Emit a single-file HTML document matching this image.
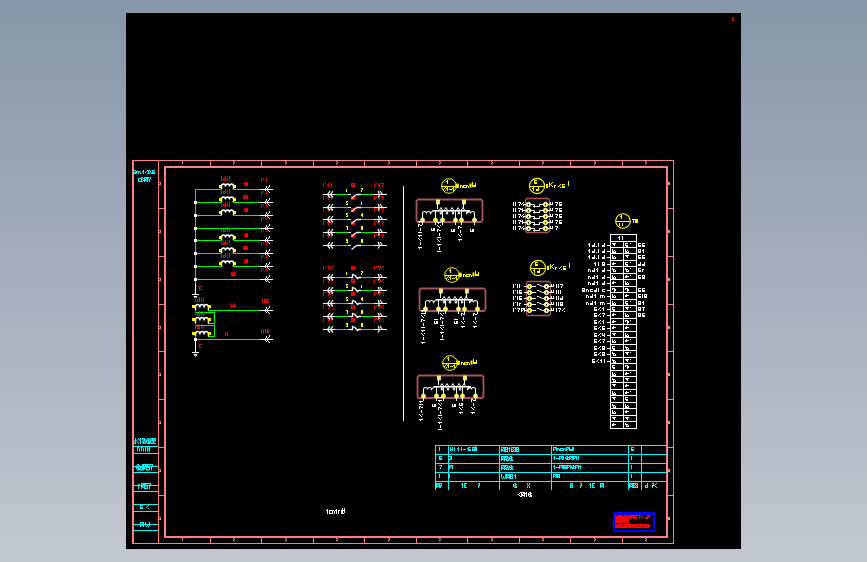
<!DOCTYPE html>
<html><head><meta charset="utf-8"><style>
html,body{margin:0;padding:0;width:867px;height:562px;overflow:hidden;}
body{background:linear-gradient(rgb(135,150,170),rgb(195,199,208));}
svg{display:block;font-family:"Liberation Sans",sans-serif;}
</style></head><body>
<svg width="867" height="562" viewBox="0 0 867 562">
<rect x="126" y="13" width="615" height="536" fill="#000"/>
<rect x="732" y="17" width="1.5" height="4" fill="#ff0000"/>
<rect x="733" y="17" width="1" height="1" fill="#ff0000"/>
<rect x="733" y="20" width="1" height="1" fill="#ff0000"/>
<rect x="132" y="160" width="2" height="384" fill="#ff8080"/>
<line x1="132" y1="160.5" x2="674" y2="160.5" stroke="#ff8080" stroke-width="1"/>
<line x1="673.5" y1="160" x2="673.5" y2="544" stroke="#ff8080" stroke-width="1"/>
<line x1="132" y1="543.5" x2="674" y2="543.5" stroke="#ff8080" stroke-width="1"/>
<rect x="165" y="167" width="502" height="370" fill="none" stroke="#ff8080" stroke-width="2" rx="0"/>
<line x1="158.5" y1="160" x2="158.5" y2="544" stroke="#ff8080" stroke-width="1"/>
<line x1="210.5" y1="160" x2="210.5" y2="167" stroke="#ff8080" stroke-width="1"/>
<line x1="210.5" y1="537" x2="210.5" y2="544" stroke="#ff8080" stroke-width="1"/>
<line x1="261.5" y1="160" x2="261.5" y2="167" stroke="#ff8080" stroke-width="1"/>
<line x1="261.5" y1="537" x2="261.5" y2="544" stroke="#ff8080" stroke-width="1"/>
<line x1="313.5" y1="160" x2="313.5" y2="167" stroke="#ff8080" stroke-width="1"/>
<line x1="313.5" y1="537" x2="313.5" y2="544" stroke="#ff8080" stroke-width="1"/>
<line x1="364.5" y1="160" x2="364.5" y2="167" stroke="#ff8080" stroke-width="1"/>
<line x1="364.5" y1="537" x2="364.5" y2="544" stroke="#ff8080" stroke-width="1"/>
<line x1="416.5" y1="160" x2="416.5" y2="167" stroke="#ff8080" stroke-width="1"/>
<line x1="416.5" y1="537" x2="416.5" y2="544" stroke="#ff8080" stroke-width="1"/>
<line x1="467.5" y1="160" x2="467.5" y2="167" stroke="#ff8080" stroke-width="1"/>
<line x1="467.5" y1="537" x2="467.5" y2="544" stroke="#ff8080" stroke-width="1"/>
<line x1="519.5" y1="160" x2="519.5" y2="167" stroke="#ff8080" stroke-width="1"/>
<line x1="519.5" y1="537" x2="519.5" y2="544" stroke="#ff8080" stroke-width="1"/>
<line x1="570.5" y1="160" x2="570.5" y2="167" stroke="#ff8080" stroke-width="1"/>
<line x1="570.5" y1="537" x2="570.5" y2="544" stroke="#ff8080" stroke-width="1"/>
<line x1="622.5" y1="160" x2="622.5" y2="167" stroke="#ff8080" stroke-width="1"/>
<line x1="622.5" y1="537" x2="622.5" y2="544" stroke="#ff8080" stroke-width="1"/>
<line x1="159" y1="208.5" x2="165" y2="208.5" stroke="#ff8080" stroke-width="1"/>
<line x1="667" y1="208.5" x2="673" y2="208.5" stroke="#ff8080" stroke-width="1"/>
<line x1="159" y1="256.5" x2="165" y2="256.5" stroke="#ff8080" stroke-width="1"/>
<line x1="667" y1="256.5" x2="673" y2="256.5" stroke="#ff8080" stroke-width="1"/>
<line x1="159" y1="304.5" x2="165" y2="304.5" stroke="#ff8080" stroke-width="1"/>
<line x1="667" y1="304.5" x2="673" y2="304.5" stroke="#ff8080" stroke-width="1"/>
<line x1="159" y1="351.5" x2="165" y2="351.5" stroke="#ff8080" stroke-width="1"/>
<line x1="667" y1="351.5" x2="673" y2="351.5" stroke="#ff8080" stroke-width="1"/>
<line x1="159" y1="399.5" x2="165" y2="399.5" stroke="#ff8080" stroke-width="1"/>
<line x1="667" y1="399.5" x2="673" y2="399.5" stroke="#ff8080" stroke-width="1"/>
<line x1="159" y1="447.5" x2="165" y2="447.5" stroke="#ff8080" stroke-width="1"/>
<line x1="667" y1="447.5" x2="673" y2="447.5" stroke="#ff8080" stroke-width="1"/>
<line x1="159" y1="495.5" x2="165" y2="495.5" stroke="#ff8080" stroke-width="1"/>
<line x1="667" y1="495.5" x2="673" y2="495.5" stroke="#ff8080" stroke-width="1"/>
<rect x="182" y="161" width="1" height="3" fill="#ff8080"/>
<rect x="182" y="538" width="1" height="3" fill="#ff8080"/>
<rect x="233" y="161" width="1.5" height="1" fill="#ff8080"/>
<rect x="234" y="162" width="1" height="1.5" fill="#ff8080"/>
<rect x="233" y="163" width="1" height="1.5" fill="#ff8080"/>
<rect x="233" y="538" width="1.5" height="1" fill="#ff8080"/>
<rect x="234" y="539" width="1" height="1.5" fill="#ff8080"/>
<rect x="233" y="540" width="1" height="1.5" fill="#ff8080"/>
<rect x="285" y="161" width="1.5" height="1" fill="#ff8080"/>
<rect x="286" y="162" width="1" height="1.5" fill="#ff8080"/>
<rect x="285" y="163" width="1" height="1.5" fill="#ff8080"/>
<rect x="285" y="538" width="1.5" height="1" fill="#ff8080"/>
<rect x="286" y="539" width="1" height="1.5" fill="#ff8080"/>
<rect x="285" y="540" width="1" height="1.5" fill="#ff8080"/>
<rect x="336" y="161" width="1.5" height="1" fill="#ff8080"/>
<rect x="337" y="162" width="1" height="1.5" fill="#ff8080"/>
<rect x="336" y="163" width="1" height="1.5" fill="#ff8080"/>
<rect x="336" y="538" width="1.5" height="1" fill="#ff8080"/>
<rect x="337" y="539" width="1" height="1.5" fill="#ff8080"/>
<rect x="336" y="540" width="1" height="1.5" fill="#ff8080"/>
<rect x="388" y="161" width="1.5" height="1" fill="#ff8080"/>
<rect x="389" y="162" width="1" height="1.5" fill="#ff8080"/>
<rect x="388" y="163" width="1" height="1.5" fill="#ff8080"/>
<rect x="388" y="538" width="1.5" height="1" fill="#ff8080"/>
<rect x="389" y="539" width="1" height="1.5" fill="#ff8080"/>
<rect x="388" y="540" width="1" height="1.5" fill="#ff8080"/>
<rect x="439" y="161" width="1.5" height="1" fill="#ff8080"/>
<rect x="440" y="162" width="1" height="1.5" fill="#ff8080"/>
<rect x="439" y="163" width="1" height="1.5" fill="#ff8080"/>
<rect x="439" y="538" width="1.5" height="1" fill="#ff8080"/>
<rect x="440" y="539" width="1" height="1.5" fill="#ff8080"/>
<rect x="439" y="540" width="1" height="1.5" fill="#ff8080"/>
<rect x="491" y="161" width="1.5" height="1" fill="#ff8080"/>
<rect x="492" y="162" width="1" height="1.5" fill="#ff8080"/>
<rect x="491" y="163" width="1" height="1.5" fill="#ff8080"/>
<rect x="491" y="538" width="1.5" height="1" fill="#ff8080"/>
<rect x="492" y="539" width="1" height="1.5" fill="#ff8080"/>
<rect x="491" y="540" width="1" height="1.5" fill="#ff8080"/>
<rect x="542" y="161" width="1.5" height="1" fill="#ff8080"/>
<rect x="543" y="162" width="1" height="1.5" fill="#ff8080"/>
<rect x="542" y="163" width="1" height="1.5" fill="#ff8080"/>
<rect x="542" y="538" width="1.5" height="1" fill="#ff8080"/>
<rect x="543" y="539" width="1" height="1.5" fill="#ff8080"/>
<rect x="542" y="540" width="1" height="1.5" fill="#ff8080"/>
<rect x="594" y="161" width="1.5" height="1" fill="#ff8080"/>
<rect x="595" y="162" width="1" height="1.5" fill="#ff8080"/>
<rect x="594" y="163" width="1" height="1.5" fill="#ff8080"/>
<rect x="594" y="538" width="1.5" height="1" fill="#ff8080"/>
<rect x="595" y="539" width="1" height="1.5" fill="#ff8080"/>
<rect x="594" y="540" width="1" height="1.5" fill="#ff8080"/>
<rect x="645" y="161" width="1.5" height="1" fill="#ff8080"/>
<rect x="646" y="162" width="1" height="1.5" fill="#ff8080"/>
<rect x="645" y="163" width="1" height="1.5" fill="#ff8080"/>
<rect x="645" y="538" width="1.5" height="1" fill="#ff8080"/>
<rect x="646" y="539" width="1" height="1.5" fill="#ff8080"/>
<rect x="645" y="540" width="1" height="1.5" fill="#ff8080"/>
<rect x="159" y="182" width="2" height="1" fill="#ff8080"/>
<rect x="160" y="183" width="1" height="1" fill="#ff8080"/>
<rect x="159" y="184" width="2" height="1" fill="#ff8080"/>
<rect x="668" y="182" width="2" height="3" fill="#ff8080"/>
<rect x="159" y="230" width="2" height="1" fill="#ff8080"/>
<rect x="160" y="231" width="1" height="1" fill="#ff8080"/>
<rect x="159" y="232" width="2" height="1" fill="#ff8080"/>
<rect x="668" y="230" width="2" height="3" fill="#ff8080"/>
<rect x="159" y="278" width="2" height="1" fill="#ff8080"/>
<rect x="160" y="279" width="1" height="1" fill="#ff8080"/>
<rect x="159" y="280" width="2" height="1" fill="#ff8080"/>
<rect x="668" y="278" width="2" height="3" fill="#ff8080"/>
<rect x="159" y="326" width="2" height="1" fill="#ff8080"/>
<rect x="160" y="327" width="1" height="1" fill="#ff8080"/>
<rect x="159" y="328" width="2" height="1" fill="#ff8080"/>
<rect x="668" y="326" width="2" height="3" fill="#ff8080"/>
<rect x="159" y="373" width="2" height="1" fill="#ff8080"/>
<rect x="160" y="374" width="1" height="1" fill="#ff8080"/>
<rect x="159" y="375" width="2" height="1" fill="#ff8080"/>
<rect x="668" y="373" width="2" height="3" fill="#ff8080"/>
<rect x="159" y="421" width="2" height="1" fill="#ff8080"/>
<rect x="160" y="422" width="1" height="1" fill="#ff8080"/>
<rect x="159" y="423" width="2" height="1" fill="#ff8080"/>
<rect x="668" y="421" width="2" height="3" fill="#ff8080"/>
<rect x="159" y="469" width="2" height="1" fill="#ff8080"/>
<rect x="160" y="470" width="1" height="1" fill="#ff8080"/>
<rect x="159" y="471" width="2" height="1" fill="#ff8080"/>
<rect x="668" y="469" width="2" height="3" fill="#ff8080"/>
<rect x="159" y="517" width="2" height="1" fill="#ff8080"/>
<rect x="160" y="518" width="1" height="1" fill="#ff8080"/>
<rect x="159" y="519" width="2" height="1" fill="#ff8080"/>
<rect x="668" y="517" width="2" height="3" fill="#ff8080"/>
<line x1="195.5" y1="189" x2="195.5" y2="284" stroke="#00ff00" stroke-width="1"/>
<line x1="195" y1="189.5" x2="221" y2="189.5" stroke="#00ff00" stroke-width="1"/>
<line x1="234" y1="189.5" x2="260" y2="189.5" stroke="#00ff00" stroke-width="1"/>
<path d="M221.5,189.5 V186.5 A2.0,2.5 0 0 1 225.5,186.5 A2.0,2.5 0 0 1 229.5,186.5 A2.0,2.5 0 0 1 233.5,186.5 V189.5" stroke="#ffffff" stroke-width="1.4" fill="none"/>
<rect x="219" y="185" width="2" height="3" fill="#ffff00"/>
<rect x="234" y="185" width="2" height="3" fill="#ffff00"/>
<path d="M221,176h1v1h-1zM221,177h1v1h-1zM221,178h1v1h-1zM221,179h1v1h-1zM221,180h1v1h-1zM225,176h1v1h-1zM225,177h1v1h-1zM223,178h1v1h-1zM224,178h1v1h-1zM225,178h1v1h-1zM223,179h1v1h-1zM225,179h1v1h-1zM223,180h1v1h-1zM224,180h1v1h-1zM225,180h1v1h-1zM227,176h1v1h-1zM227,178h1v1h-1zM227,179h1v1h-1zM227,180h1v1h-1zM229,176h1v1h-1zM229,177h1v1h-1zM229,178h1v1h-1zM229,179h1v1h-1zM229,180h1v1h-1z" fill="#ff0000"/>
<rect x="260" y="189" width="13" height="1" fill="#ffffff"/>
<rect x="265" y="188" width="1" height="3" fill="#ffffff"/>
<rect x="266" y="186" width="1" height="2" fill="#ffffff"/>
<rect x="266" y="191" width="1" height="1" fill="#ffffff"/>
<rect x="267" y="188" width="1" height="3" fill="#ffffff"/>
<rect x="268" y="187" width="1" height="1" fill="#ffffff"/>
<rect x="268" y="191" width="1" height="1" fill="#ffffff"/>
<rect x="269" y="185" width="1" height="2" fill="#ffffff"/>
<rect x="269" y="192" width="1" height="1" fill="#ffffff"/>
<rect x="261" y="178" width="1" height="4" fill="#ff0000"/>
<rect x="263" y="178" width="1" height="2" fill="#ff0000"/>
<rect x="266" y="178" width="1" height="3" fill="#ff0000"/>
<line x1="195" y1="202.5" x2="221" y2="202.5" stroke="#00ff00" stroke-width="1"/>
<line x1="234" y1="202.5" x2="260" y2="202.5" stroke="#00ff00" stroke-width="1"/>
<path d="M221.5,202.5 V199.5 A2.0,2.5 0 0 1 225.5,199.5 A2.0,2.5 0 0 1 229.5,199.5 A2.0,2.5 0 0 1 233.5,199.5 V202.5" stroke="#ffffff" stroke-width="1.4" fill="none"/>
<rect x="219" y="198" width="2" height="3" fill="#ffff00"/>
<rect x="234" y="198" width="2" height="3" fill="#ffff00"/>
<path d="M221,189h1v1h-1zM221,190h1v1h-1zM221,191h1v1h-1zM221,192h1v1h-1zM221,193h1v1h-1zM225,189h1v1h-1zM225,190h1v1h-1zM223,191h1v1h-1zM224,191h1v1h-1zM225,191h1v1h-1zM223,192h1v1h-1zM225,192h1v1h-1zM223,193h1v1h-1zM224,193h1v1h-1zM225,193h1v1h-1zM227,189h1v1h-1zM227,191h1v1h-1zM227,192h1v1h-1zM227,193h1v1h-1zM229,189h1v1h-1zM229,190h1v1h-1zM229,191h1v1h-1zM229,192h1v1h-1zM229,193h1v1h-1z" fill="#ff0000"/>
<rect x="260" y="202" width="13" height="1" fill="#ffffff"/>
<rect x="265" y="201" width="1" height="3" fill="#ffffff"/>
<rect x="266" y="199" width="1" height="2" fill="#ffffff"/>
<rect x="266" y="204" width="1" height="1" fill="#ffffff"/>
<rect x="267" y="201" width="1" height="3" fill="#ffffff"/>
<rect x="268" y="200" width="1" height="1" fill="#ffffff"/>
<rect x="268" y="204" width="1" height="1" fill="#ffffff"/>
<rect x="269" y="198" width="1" height="2" fill="#ffffff"/>
<rect x="269" y="205" width="1" height="1" fill="#ffffff"/>
<rect x="261" y="191" width="1" height="4" fill="#ff0000"/>
<rect x="263" y="191" width="1" height="2" fill="#ff0000"/>
<rect x="266" y="191" width="1" height="3" fill="#ff0000"/>
<rect x="194" y="201" width="3" height="3" fill="#ffffff"/>
<line x1="195" y1="215.5" x2="221" y2="215.5" stroke="#00ff00" stroke-width="1"/>
<line x1="234" y1="215.5" x2="260" y2="215.5" stroke="#00ff00" stroke-width="1"/>
<path d="M221.5,215.5 V212.5 A2.0,2.5 0 0 1 225.5,212.5 A2.0,2.5 0 0 1 229.5,212.5 A2.0,2.5 0 0 1 233.5,212.5 V215.5" stroke="#ffffff" stroke-width="1.4" fill="none"/>
<rect x="219" y="211" width="2" height="3" fill="#ffff00"/>
<rect x="234" y="211" width="2" height="3" fill="#ffff00"/>
<path d="M221,202h1v1h-1zM221,203h1v1h-1zM221,204h1v1h-1zM221,205h1v1h-1zM221,206h1v1h-1zM225,202h1v1h-1zM225,203h1v1h-1zM223,204h1v1h-1zM224,204h1v1h-1zM225,204h1v1h-1zM223,205h1v1h-1zM225,205h1v1h-1zM223,206h1v1h-1zM224,206h1v1h-1zM225,206h1v1h-1zM227,202h1v1h-1zM227,204h1v1h-1zM227,205h1v1h-1zM227,206h1v1h-1zM229,202h1v1h-1zM229,203h1v1h-1zM229,204h1v1h-1zM229,205h1v1h-1zM229,206h1v1h-1z" fill="#ff0000"/>
<rect x="260" y="215" width="13" height="1" fill="#ffffff"/>
<rect x="265" y="214" width="1" height="3" fill="#ffffff"/>
<rect x="266" y="212" width="1" height="2" fill="#ffffff"/>
<rect x="266" y="217" width="1" height="1" fill="#ffffff"/>
<rect x="267" y="214" width="1" height="3" fill="#ffffff"/>
<rect x="268" y="213" width="1" height="1" fill="#ffffff"/>
<rect x="268" y="217" width="1" height="1" fill="#ffffff"/>
<rect x="269" y="211" width="1" height="2" fill="#ffffff"/>
<rect x="269" y="218" width="1" height="1" fill="#ffffff"/>
<rect x="261" y="204" width="1" height="4" fill="#ff0000"/>
<rect x="263" y="204" width="1" height="2" fill="#ff0000"/>
<rect x="266" y="204" width="1" height="3" fill="#ff0000"/>
<rect x="194" y="214" width="3" height="3" fill="#ffffff"/>
<line x1="195" y1="228.5" x2="260" y2="228.5" stroke="#00ff00" stroke-width="1"/>
<rect x="260" y="228" width="13" height="1" fill="#ffffff"/>
<rect x="265" y="227" width="1" height="3" fill="#ffffff"/>
<rect x="266" y="225" width="1" height="2" fill="#ffffff"/>
<rect x="266" y="230" width="1" height="1" fill="#ffffff"/>
<rect x="267" y="227" width="1" height="3" fill="#ffffff"/>
<rect x="268" y="226" width="1" height="1" fill="#ffffff"/>
<rect x="268" y="230" width="1" height="1" fill="#ffffff"/>
<rect x="269" y="224" width="1" height="2" fill="#ffffff"/>
<rect x="269" y="231" width="1" height="1" fill="#ffffff"/>
<rect x="261" y="217" width="1" height="4" fill="#ff0000"/>
<rect x="263" y="217" width="1" height="2" fill="#ff0000"/>
<rect x="266" y="217" width="1" height="3" fill="#ff0000"/>
<rect x="194" y="227" width="3" height="3" fill="#ffffff"/>
<line x1="195" y1="240.5" x2="221" y2="240.5" stroke="#00ff00" stroke-width="1"/>
<line x1="234" y1="240.5" x2="260" y2="240.5" stroke="#00ff00" stroke-width="1"/>
<path d="M221.5,240.5 V237.5 A2.0,2.5 0 0 1 225.5,237.5 A2.0,2.5 0 0 1 229.5,237.5 A2.0,2.5 0 0 1 233.5,237.5 V240.5" stroke="#ffffff" stroke-width="1.4" fill="none"/>
<rect x="219" y="236" width="2" height="3" fill="#ffff00"/>
<rect x="234" y="236" width="2" height="3" fill="#ffff00"/>
<path d="M221,227h1v1h-1zM221,228h1v1h-1zM221,229h1v1h-1zM221,230h1v1h-1zM221,231h1v1h-1zM225,227h1v1h-1zM225,228h1v1h-1zM223,229h1v1h-1zM224,229h1v1h-1zM225,229h1v1h-1zM223,230h1v1h-1zM225,230h1v1h-1zM223,231h1v1h-1zM224,231h1v1h-1zM225,231h1v1h-1zM227,227h1v1h-1zM227,229h1v1h-1zM227,230h1v1h-1zM227,231h1v1h-1zM229,227h1v1h-1zM229,228h1v1h-1zM229,229h1v1h-1zM229,230h1v1h-1zM229,231h1v1h-1z" fill="#ff0000"/>
<rect x="260" y="240" width="13" height="1" fill="#ffffff"/>
<rect x="265" y="239" width="1" height="3" fill="#ffffff"/>
<rect x="266" y="237" width="1" height="2" fill="#ffffff"/>
<rect x="266" y="242" width="1" height="1" fill="#ffffff"/>
<rect x="267" y="239" width="1" height="3" fill="#ffffff"/>
<rect x="268" y="238" width="1" height="1" fill="#ffffff"/>
<rect x="268" y="242" width="1" height="1" fill="#ffffff"/>
<rect x="269" y="236" width="1" height="2" fill="#ffffff"/>
<rect x="269" y="243" width="1" height="1" fill="#ffffff"/>
<rect x="261" y="229" width="1" height="4" fill="#ff0000"/>
<rect x="263" y="229" width="1" height="2" fill="#ff0000"/>
<rect x="266" y="229" width="1" height="3" fill="#ff0000"/>
<rect x="194" y="239" width="3" height="3" fill="#ffffff"/>
<line x1="195" y1="253.5" x2="221" y2="253.5" stroke="#00ff00" stroke-width="1"/>
<line x1="234" y1="253.5" x2="260" y2="253.5" stroke="#00ff00" stroke-width="1"/>
<path d="M221.5,253.5 V250.5 A2.0,2.5 0 0 1 225.5,250.5 A2.0,2.5 0 0 1 229.5,250.5 A2.0,2.5 0 0 1 233.5,250.5 V253.5" stroke="#ffffff" stroke-width="1.4" fill="none"/>
<rect x="219" y="249" width="2" height="3" fill="#ffff00"/>
<rect x="234" y="249" width="2" height="3" fill="#ffff00"/>
<path d="M221,240h1v1h-1zM221,241h1v1h-1zM221,242h1v1h-1zM221,243h1v1h-1zM221,244h1v1h-1zM225,240h1v1h-1zM225,241h1v1h-1zM223,242h1v1h-1zM224,242h1v1h-1zM225,242h1v1h-1zM223,243h1v1h-1zM225,243h1v1h-1zM223,244h1v1h-1zM224,244h1v1h-1zM225,244h1v1h-1zM227,240h1v1h-1zM227,242h1v1h-1zM227,243h1v1h-1zM227,244h1v1h-1zM229,240h1v1h-1zM229,241h1v1h-1zM229,242h1v1h-1zM229,243h1v1h-1zM229,244h1v1h-1z" fill="#ff0000"/>
<rect x="260" y="253" width="13" height="1" fill="#ffffff"/>
<rect x="265" y="252" width="1" height="3" fill="#ffffff"/>
<rect x="266" y="250" width="1" height="2" fill="#ffffff"/>
<rect x="266" y="255" width="1" height="1" fill="#ffffff"/>
<rect x="267" y="252" width="1" height="3" fill="#ffffff"/>
<rect x="268" y="251" width="1" height="1" fill="#ffffff"/>
<rect x="268" y="255" width="1" height="1" fill="#ffffff"/>
<rect x="269" y="249" width="1" height="2" fill="#ffffff"/>
<rect x="269" y="256" width="1" height="1" fill="#ffffff"/>
<rect x="261" y="242" width="1" height="4" fill="#ff0000"/>
<rect x="263" y="242" width="1" height="2" fill="#ff0000"/>
<rect x="266" y="242" width="1" height="3" fill="#ff0000"/>
<rect x="194" y="252" width="3" height="3" fill="#ffffff"/>
<line x1="195" y1="266.5" x2="221" y2="266.5" stroke="#00ff00" stroke-width="1"/>
<line x1="234" y1="266.5" x2="260" y2="266.5" stroke="#00ff00" stroke-width="1"/>
<path d="M221.5,266.5 V263.5 A2.0,2.5 0 0 1 225.5,263.5 A2.0,2.5 0 0 1 229.5,263.5 A2.0,2.5 0 0 1 233.5,263.5 V266.5" stroke="#ffffff" stroke-width="1.4" fill="none"/>
<rect x="219" y="262" width="2" height="3" fill="#ffff00"/>
<rect x="234" y="262" width="2" height="3" fill="#ffff00"/>
<path d="M221,253h1v1h-1zM221,254h1v1h-1zM221,255h1v1h-1zM221,256h1v1h-1zM221,257h1v1h-1zM225,253h1v1h-1zM225,254h1v1h-1zM223,255h1v1h-1zM224,255h1v1h-1zM225,255h1v1h-1zM223,256h1v1h-1zM225,256h1v1h-1zM223,257h1v1h-1zM224,257h1v1h-1zM225,257h1v1h-1zM227,253h1v1h-1zM227,255h1v1h-1zM227,256h1v1h-1zM227,257h1v1h-1zM229,253h1v1h-1zM229,254h1v1h-1zM229,255h1v1h-1zM229,256h1v1h-1zM229,257h1v1h-1z" fill="#ff0000"/>
<rect x="260" y="266" width="13" height="1" fill="#ffffff"/>
<rect x="265" y="265" width="1" height="3" fill="#ffffff"/>
<rect x="266" y="263" width="1" height="2" fill="#ffffff"/>
<rect x="266" y="268" width="1" height="1" fill="#ffffff"/>
<rect x="267" y="265" width="1" height="3" fill="#ffffff"/>
<rect x="268" y="264" width="1" height="1" fill="#ffffff"/>
<rect x="268" y="268" width="1" height="1" fill="#ffffff"/>
<rect x="269" y="262" width="1" height="2" fill="#ffffff"/>
<rect x="269" y="269" width="1" height="1" fill="#ffffff"/>
<rect x="261" y="255" width="1" height="4" fill="#ff0000"/>
<rect x="263" y="255" width="1" height="2" fill="#ff0000"/>
<rect x="266" y="255" width="1" height="3" fill="#ff0000"/>
<rect x="194" y="265" width="3" height="3" fill="#ffffff"/>
<line x1="195" y1="279.5" x2="260" y2="279.5" stroke="#00ff00" stroke-width="1"/>
<rect x="260" y="279" width="13" height="1" fill="#ffffff"/>
<rect x="265" y="278" width="1" height="3" fill="#ffffff"/>
<rect x="266" y="276" width="1" height="2" fill="#ffffff"/>
<rect x="266" y="281" width="1" height="1" fill="#ffffff"/>
<rect x="267" y="278" width="1" height="3" fill="#ffffff"/>
<rect x="268" y="277" width="1" height="1" fill="#ffffff"/>
<rect x="268" y="281" width="1" height="1" fill="#ffffff"/>
<rect x="269" y="275" width="1" height="2" fill="#ffffff"/>
<rect x="269" y="282" width="1" height="1" fill="#ffffff"/>
<rect x="261" y="268" width="1" height="4" fill="#ff0000"/>
<rect x="263" y="268" width="1" height="2" fill="#ff0000"/>
<rect x="266" y="268" width="1" height="3" fill="#ff0000"/>
<rect x="194" y="278" width="3" height="3" fill="#ffffff"/>
<rect x="244" y="182" width="4" height="4" fill="#ff0000"/>
<rect x="245" y="182" width="1" height="1" fill="#000"/>
<rect x="244" y="184" width="1" height="1" fill="#000"/>
<rect x="243" y="195" width="5" height="4" fill="#ff0000"/>
<rect x="244" y="196" width="2" height="1" fill="#000"/>
<rect x="247" y="195" width="1" height="1" fill="#000"/>
<rect x="244" y="208" width="4" height="4" fill="#ff0000"/>
<rect x="245" y="208" width="1" height="1" fill="#000"/>
<rect x="244" y="210" width="1" height="1" fill="#000"/>
<rect x="244" y="233" width="4" height="4" fill="#ff0000"/>
<rect x="245" y="233" width="1" height="1" fill="#000"/>
<rect x="244" y="235" width="1" height="1" fill="#000"/>
<rect x="243" y="246" width="5" height="4" fill="#ff0000"/>
<rect x="244" y="247" width="2" height="1" fill="#000"/>
<rect x="247" y="246" width="1" height="1" fill="#000"/>
<rect x="244" y="259" width="4" height="4" fill="#ff0000"/>
<rect x="245" y="259" width="1" height="1" fill="#000"/>
<rect x="244" y="261" width="1" height="1" fill="#000"/>
<rect x="231" y="272" width="5" height="4" fill="#ff0000"/>
<rect x="232" y="273" width="2" height="1" fill="#000"/>
<rect x="235" y="272" width="1" height="1" fill="#000"/>
<line x1="195.5" y1="284" x2="195.5" y2="294" stroke="#ffffff" stroke-width="1"/>
<line x1="192" y1="294.5" x2="199" y2="294.5" stroke="#ffffff" stroke-width="1"/>
<path d="M194,296.5 h3 l-1.5,2z" stroke="#ffffff" stroke-width="1" fill="none"/>
<path d="M199,286h1v1h-1zM200,286h1v1h-1zM201,286h1v1h-1zM199,287h1v1h-1zM199,288h1v1h-1zM199,289h1v1h-1zM200,289h1v1h-1zM201,289h1v1h-1z" fill="#ff0000"/>
<path d="M195,297h1v1h-1zM195,298h1v1h-1zM195,299h1v1h-1zM195,300h1v1h-1zM195,301h1v1h-1zM199,297h1v1h-1zM199,298h1v1h-1zM197,299h1v1h-1zM198,299h1v1h-1zM199,299h1v1h-1zM197,300h1v1h-1zM199,300h1v1h-1zM197,301h1v1h-1zM198,301h1v1h-1zM199,301h1v1h-1zM201,297h1v1h-1zM201,299h1v1h-1zM201,300h1v1h-1zM201,301h1v1h-1zM203,297h1v1h-1zM203,298h1v1h-1zM203,299h1v1h-1zM203,300h1v1h-1zM203,301h1v1h-1z" fill="#ff0000"/>
<path d="M195.5,310.5 V307.5 A2.15,3 0 0 1 199.8,307.5 A2.15,3 0 0 1 204.1,307.5 A2.15,3 0 0 1 208.4,307.5 V310.5" stroke="#ffffff" stroke-width="1.4" fill="none"/>
<rect x="192" y="305" width="3" height="3" fill="#ffff00"/>
<rect x="208" y="305" width="3" height="3" fill="#ffff00"/>
<line x1="208" y1="310.5" x2="260" y2="310.5" stroke="#00ff00" stroke-width="1"/>
<rect x="260" y="310" width="13" height="1" fill="#ffffff"/>
<rect x="265" y="309" width="1" height="3" fill="#ffffff"/>
<rect x="266" y="307" width="1" height="2" fill="#ffffff"/>
<rect x="266" y="312" width="1" height="1" fill="#ffffff"/>
<rect x="267" y="309" width="1" height="3" fill="#ffffff"/>
<rect x="268" y="308" width="1" height="1" fill="#ffffff"/>
<rect x="268" y="312" width="1" height="1" fill="#ffffff"/>
<rect x="269" y="306" width="1" height="2" fill="#ffffff"/>
<rect x="269" y="313" width="1" height="1" fill="#ffffff"/>
<path d="M230,303h1v1h-1zM230,304h1v1h-1zM230,305h1v1h-1zM230,306h1v1h-1zM234,303h1v1h-1zM234,304h1v1h-1zM232,305h1v1h-1zM233,305h1v1h-1zM234,305h1v1h-1zM232,306h1v1h-1zM233,306h1v1h-1zM234,306h1v1h-1z" fill="#ff0000"/>
<path d="M262,299h1v1h-1zM262,300h1v1h-1zM262,301h1v1h-1zM262,302h1v1h-1zM264,299h1v1h-1zM264,300h1v1h-1zM264,301h1v1h-1zM264,302h1v1h-1zM266,299h1v1h-1zM267,299h1v1h-1zM268,299h1v1h-1zM266,300h1v1h-1zM266,301h1v1h-1zM267,301h1v1h-1zM268,301h1v1h-1zM266,302h1v1h-1zM267,302h1v1h-1zM268,302h1v1h-1z" fill="#ff0000"/>
<line x1="195" y1="312.5" x2="214" y2="312.5" stroke="#00ff00" stroke-width="1"/>
<line x1="214.5" y1="312" x2="214.5" y2="324" stroke="#00ff00" stroke-width="1"/>
<line x1="208" y1="323.5" x2="214" y2="323.5" stroke="#00ff00" stroke-width="1"/>
<path d="M195,311h1v1h-1zM195,312h1v1h-1zM195,313h1v1h-1zM195,314h1v1h-1zM195,315h1v1h-1zM199,311h1v1h-1zM199,312h1v1h-1zM197,313h1v1h-1zM198,313h1v1h-1zM199,313h1v1h-1zM197,314h1v1h-1zM199,314h1v1h-1zM197,315h1v1h-1zM198,315h1v1h-1zM199,315h1v1h-1zM201,311h1v1h-1zM201,313h1v1h-1zM201,314h1v1h-1zM201,315h1v1h-1zM203,311h1v1h-1zM203,312h1v1h-1zM203,313h1v1h-1zM203,314h1v1h-1zM203,315h1v1h-1z" fill="#ff0000"/>
<path d="M195.5,323.5 V320.5 A2.15,3 0 0 1 199.8,320.5 A2.15,3 0 0 1 204.1,320.5 A2.15,3 0 0 1 208.4,320.5 V323.5" stroke="#ffffff" stroke-width="1.4" fill="none"/>
<rect x="192" y="318" width="3" height="3" fill="#ffff00"/>
<rect x="208" y="318" width="3" height="3" fill="#ffff00"/>
<line x1="195" y1="325.5" x2="214" y2="325.5" stroke="#00ff00" stroke-width="1"/>
<line x1="214.5" y1="325" x2="214.5" y2="337" stroke="#00ff00" stroke-width="1"/>
<line x1="208" y1="336.5" x2="214" y2="336.5" stroke="#00ff00" stroke-width="1"/>
<path d="M195,324h1v1h-1zM195,325h1v1h-1zM195,326h1v1h-1zM195,327h1v1h-1zM195,328h1v1h-1zM199,324h1v1h-1zM199,325h1v1h-1zM197,326h1v1h-1zM198,326h1v1h-1zM199,326h1v1h-1zM197,327h1v1h-1zM199,327h1v1h-1zM197,328h1v1h-1zM198,328h1v1h-1zM199,328h1v1h-1zM201,324h1v1h-1zM201,326h1v1h-1zM201,327h1v1h-1zM201,328h1v1h-1zM203,324h1v1h-1zM203,325h1v1h-1zM203,326h1v1h-1zM203,327h1v1h-1zM203,328h1v1h-1z" fill="#ff0000"/>
<path d="M195.5,336.5 V334.5 A2.15,3 0 0 1 199.8,334.5 A2.15,3 0 0 1 204.1,334.5 A2.15,3 0 0 1 208.4,334.5 V336.5" stroke="#ffffff" stroke-width="1.4" fill="none"/>
<rect x="192" y="332" width="3" height="3" fill="#ffff00"/>
<rect x="208" y="332" width="3" height="3" fill="#ffff00"/>
<line x1="195.5" y1="336" x2="195.5" y2="339" stroke="#00ff00" stroke-width="1"/>
<line x1="195" y1="339.5" x2="260" y2="339.5" stroke="#00ff00" stroke-width="1"/>
<rect x="260" y="339" width="13" height="1" fill="#ffffff"/>
<rect x="265" y="338" width="1" height="3" fill="#ffffff"/>
<rect x="266" y="336" width="1" height="2" fill="#ffffff"/>
<rect x="266" y="341" width="1" height="1" fill="#ffffff"/>
<rect x="267" y="338" width="1" height="3" fill="#ffffff"/>
<rect x="268" y="337" width="1" height="1" fill="#ffffff"/>
<rect x="268" y="341" width="1" height="1" fill="#ffffff"/>
<rect x="269" y="335" width="1" height="2" fill="#ffffff"/>
<rect x="269" y="342" width="1" height="1" fill="#ffffff"/>
<rect x="194" y="338" width="3" height="3" fill="#ffffff"/>
<path d="M225,332h1v1h-1zM227,332h1v1h-1zM225,333h1v1h-1zM227,333h1v1h-1zM225,334h1v1h-1zM226,334h1v1h-1zM227,334h1v1h-1zM225,335h1v1h-1zM227,335h1v1h-1z" fill="#ff0000"/>
<path d="M261,329h1v1h-1zM261,330h1v1h-1zM261,331h1v1h-1zM261,332h1v1h-1zM263,329h1v1h-1zM263,330h1v1h-1zM263,331h1v1h-1zM263,332h1v1h-1zM265,329h1v1h-1zM265,330h1v1h-1zM265,331h1v1h-1zM265,332h1v1h-1zM267,329h1v1h-1zM268,329h1v1h-1zM267,330h1v1h-1zM269,330h1v1h-1zM267,331h1v1h-1zM268,331h1v1h-1zM267,332h1v1h-1zM268,332h1v1h-1z" fill="#ff0000"/>
<line x1="195.5" y1="340" x2="195.5" y2="352" stroke="#ffffff" stroke-width="1"/>
<line x1="192" y1="352.5" x2="199" y2="352.5" stroke="#ffffff" stroke-width="1"/>
<path d="M194,354.5 h3 l-1.5,2z" stroke="#ffffff" stroke-width="1" fill="none"/>
<path d="M199,344h1v1h-1zM200,344h1v1h-1zM201,344h1v1h-1zM199,345h1v1h-1zM199,346h1v1h-1zM199,347h1v1h-1zM200,347h1v1h-1zM201,347h1v1h-1z" fill="#ff0000"/>
<path d="M323,183h1v1h-1zM323,184h1v1h-1zM323,185h1v1h-1zM323,186h1v1h-1z" fill="#ff0000"/>
<rect x="325" y="183" width="1" height="1" fill="#ff0000"/>
<path d="M328,183h1v1h-1zM327,184h1v1h-1zM328,184h1v1h-1zM328,185h1v1h-1zM328,186h1v1h-1zM331,183h1v1h-1zM330,184h1v1h-1zM331,184h1v1h-1zM331,185h1v1h-1zM331,186h1v1h-1z" fill="#ff0000"/>
<rect x="351" y="183" width="4" height="4" fill="#ff0000"/>
<rect x="352" y="184" width="1" height="1" fill="#000"/>
<path d="M374,183h1v1h-1zM374,184h1v1h-1zM374,185h1v1h-1zM374,186h1v1h-1z" fill="#ff0000"/>
<rect x="376" y="183" width="1" height="1" fill="#ff0000"/>
<path d="M379,183h1v1h-1zM378,184h1v1h-1zM379,184h1v1h-1zM379,185h1v1h-1zM379,186h1v1h-1zM381,183h1v1h-1zM382,183h1v1h-1zM383,183h1v1h-1zM383,184h1v1h-1zM382,185h1v1h-1zM382,186h1v1h-1z" fill="#ff0000"/>
<path d="M346,189h1v1h-1zM346,190h1v1h-1zM346,191h1v1h-1z" fill="#ffff00"/>
<path d="M361,188h1v1h-1zM362,188h1v1h-1zM362,189h1v1h-1zM361,190h1v1h-1zM361,191h1v1h-1z" fill="#ffff00"/>
<path d="M323,196h1v1h-1zM323,197h1v1h-1zM323,198h1v1h-1zM323,199h1v1h-1z" fill="#ff0000"/>
<rect x="325" y="196" width="1" height="1" fill="#ff0000"/>
<path d="M328,196h1v1h-1zM327,197h1v1h-1zM328,197h1v1h-1zM328,198h1v1h-1zM328,199h1v1h-1zM331,196h1v1h-1zM330,197h1v1h-1zM331,197h1v1h-1zM331,198h1v1h-1zM331,199h1v1h-1z" fill="#ff0000"/>
<rect x="351" y="196" width="4" height="4" fill="#ff0000"/>
<rect x="352" y="197" width="1" height="1" fill="#000"/>
<path d="M374,196h1v1h-1zM374,197h1v1h-1zM374,198h1v1h-1zM374,199h1v1h-1z" fill="#ff0000"/>
<rect x="376" y="196" width="1" height="1" fill="#ff0000"/>
<path d="M379,196h1v1h-1zM378,197h1v1h-1zM379,197h1v1h-1zM379,198h1v1h-1zM379,199h1v1h-1zM381,196h1v1h-1zM382,196h1v1h-1zM383,196h1v1h-1zM383,197h1v1h-1zM382,198h1v1h-1zM382,199h1v1h-1z" fill="#ff0000"/>
<path d="M346,201h1v1h-1zM347,201h1v1h-1zM346,202h1v1h-1zM347,203h1v1h-1zM346,204h1v1h-1zM347,204h1v1h-1z" fill="#ffff00"/>
<path d="M361,202h1v1h-1zM361,203h1v1h-1zM361,204h1v1h-1z" fill="#ffff00"/>
<path d="M323,208h1v1h-1zM323,209h1v1h-1zM323,210h1v1h-1zM323,211h1v1h-1z" fill="#ff0000"/>
<rect x="325" y="208" width="1" height="1" fill="#ff0000"/>
<path d="M328,208h1v1h-1zM327,209h1v1h-1zM328,209h1v1h-1zM328,210h1v1h-1zM328,211h1v1h-1zM331,208h1v1h-1zM330,209h1v1h-1zM331,209h1v1h-1zM331,210h1v1h-1zM331,211h1v1h-1z" fill="#ff0000"/>
<rect x="351" y="208" width="4" height="4" fill="#ff0000"/>
<rect x="352" y="209" width="1" height="1" fill="#000"/>
<path d="M374,208h1v1h-1zM374,209h1v1h-1zM374,210h1v1h-1zM374,211h1v1h-1z" fill="#ff0000"/>
<rect x="376" y="208" width="1" height="1" fill="#ff0000"/>
<path d="M379,208h1v1h-1zM378,209h1v1h-1zM379,209h1v1h-1zM379,210h1v1h-1zM379,211h1v1h-1zM381,208h1v1h-1zM382,208h1v1h-1zM383,208h1v1h-1zM383,209h1v1h-1zM382,210h1v1h-1zM382,211h1v1h-1z" fill="#ff0000"/>
<path d="M346,213h1v1h-1zM347,213h1v1h-1zM346,214h1v1h-1zM347,215h1v1h-1zM346,216h1v1h-1zM347,216h1v1h-1z" fill="#ffff00"/>
<path d="M362,213h1v1h-1zM361,214h1v1h-1zM362,214h1v1h-1zM361,215h1v1h-1zM362,215h1v1h-1zM362,216h1v1h-1z" fill="#ffff00"/>
<path d="M323,221h1v1h-1zM323,222h1v1h-1zM323,223h1v1h-1zM323,224h1v1h-1z" fill="#ff0000"/>
<rect x="325" y="221" width="1" height="1" fill="#ff0000"/>
<path d="M328,221h1v1h-1zM327,222h1v1h-1zM328,222h1v1h-1zM328,223h1v1h-1zM328,224h1v1h-1zM331,221h1v1h-1zM330,222h1v1h-1zM331,222h1v1h-1zM331,223h1v1h-1zM331,224h1v1h-1z" fill="#ff0000"/>
<rect x="351" y="221" width="4" height="4" fill="#ff0000"/>
<rect x="352" y="222" width="1" height="1" fill="#000"/>
<path d="M374,221h1v1h-1zM374,222h1v1h-1zM374,223h1v1h-1zM374,224h1v1h-1z" fill="#ff0000"/>
<rect x="376" y="221" width="1" height="1" fill="#ff0000"/>
<path d="M379,221h1v1h-1zM378,222h1v1h-1zM379,222h1v1h-1zM379,223h1v1h-1zM379,224h1v1h-1zM381,221h1v1h-1zM382,221h1v1h-1zM383,221h1v1h-1zM383,222h1v1h-1zM382,223h1v1h-1zM382,224h1v1h-1z" fill="#ff0000"/>
<path d="M346,226h1v1h-1zM347,226h1v1h-1zM347,227h1v1h-1zM347,228h1v1h-1zM347,229h1v1h-1z" fill="#ffff00"/>
<path d="M361,226h1v1h-1zM362,226h1v1h-1zM361,227h1v1h-1zM362,227h1v1h-1zM361,228h1v1h-1zM362,228h1v1h-1zM361,229h1v1h-1zM362,229h1v1h-1z" fill="#ffff00"/>
<path d="M323,234h1v1h-1zM323,235h1v1h-1zM323,236h1v1h-1zM323,237h1v1h-1z" fill="#ff0000"/>
<rect x="325" y="234" width="1" height="1" fill="#ff0000"/>
<path d="M328,234h1v1h-1zM327,235h1v1h-1zM328,235h1v1h-1zM328,236h1v1h-1zM328,237h1v1h-1zM331,234h1v1h-1zM330,235h1v1h-1zM331,235h1v1h-1zM331,236h1v1h-1zM331,237h1v1h-1z" fill="#ff0000"/>
<rect x="351" y="234" width="4" height="4" fill="#ff0000"/>
<rect x="352" y="235" width="1" height="1" fill="#000"/>
<path d="M374,234h1v1h-1zM374,235h1v1h-1zM374,236h1v1h-1zM374,237h1v1h-1z" fill="#ff0000"/>
<rect x="376" y="234" width="1" height="1" fill="#ff0000"/>
<path d="M379,234h1v1h-1zM378,235h1v1h-1zM379,235h1v1h-1zM379,236h1v1h-1zM379,237h1v1h-1zM381,234h1v1h-1zM382,234h1v1h-1zM383,234h1v1h-1zM383,235h1v1h-1zM382,236h1v1h-1zM382,237h1v1h-1z" fill="#ff0000"/>
<path d="M346,239h1v1h-1zM347,239h1v1h-1zM346,240h1v1h-1zM347,240h1v1h-1zM347,241h1v1h-1zM346,242h1v1h-1zM347,242h1v1h-1z" fill="#ffff00"/>
<path d="M361,239h1v1h-1zM362,239h1v1h-1zM361,240h1v1h-1zM362,240h1v1h-1zM361,241h1v1h-1zM362,241h1v1h-1zM361,242h1v1h-1zM362,242h1v1h-1z" fill="#ffff00"/>
<path d="M323,266h1v1h-1zM323,267h1v1h-1zM323,268h1v1h-1zM323,269h1v1h-1z" fill="#ff0000"/>
<rect x="325" y="266" width="1" height="1" fill="#ff0000"/>
<path d="M327,266h1v1h-1zM328,266h1v1h-1zM329,266h1v1h-1zM329,267h1v1h-1zM328,268h1v1h-1zM328,269h1v1h-1zM332,266h1v1h-1zM331,267h1v1h-1zM330,268h1v1h-1zM332,269h1v1h-1z" fill="#ff0000"/>
<rect x="351" y="266" width="4" height="4" fill="#ff0000"/>
<rect x="352" y="267" width="1" height="1" fill="#000"/>
<path d="M374,266h1v1h-1zM374,267h1v1h-1zM374,268h1v1h-1zM374,269h1v1h-1z" fill="#ff0000"/>
<rect x="376" y="266" width="1" height="1" fill="#ff0000"/>
<path d="M378,266h1v1h-1zM379,266h1v1h-1zM380,266h1v1h-1zM380,267h1v1h-1zM379,268h1v1h-1zM379,269h1v1h-1zM383,266h1v1h-1zM382,267h1v1h-1zM381,268h1v1h-1zM383,269h1v1h-1z" fill="#ff0000"/>
<path d="M346,272h1v1h-1zM346,273h1v1h-1zM346,274h1v1h-1z" fill="#ffff00"/>
<path d="M361,271h1v1h-1zM362,271h1v1h-1zM362,272h1v1h-1zM361,273h1v1h-1zM361,274h1v1h-1z" fill="#ffff00"/>
<path d="M323,279h1v1h-1zM323,280h1v1h-1zM323,281h1v1h-1zM323,282h1v1h-1z" fill="#ff0000"/>
<rect x="325" y="279" width="1" height="1" fill="#ff0000"/>
<path d="M327,279h1v1h-1zM328,279h1v1h-1zM329,279h1v1h-1zM329,280h1v1h-1zM328,281h1v1h-1zM328,282h1v1h-1zM332,279h1v1h-1zM331,280h1v1h-1zM330,281h1v1h-1zM332,282h1v1h-1z" fill="#ff0000"/>
<rect x="351" y="279" width="4" height="4" fill="#ff0000"/>
<rect x="352" y="280" width="1" height="1" fill="#000"/>
<path d="M374,279h1v1h-1zM374,280h1v1h-1zM374,281h1v1h-1zM374,282h1v1h-1z" fill="#ff0000"/>
<rect x="376" y="279" width="1" height="1" fill="#ff0000"/>
<path d="M378,279h1v1h-1zM379,279h1v1h-1zM380,279h1v1h-1zM380,280h1v1h-1zM379,281h1v1h-1zM379,282h1v1h-1zM383,279h1v1h-1zM382,280h1v1h-1zM381,281h1v1h-1zM383,282h1v1h-1z" fill="#ff0000"/>
<path d="M346,284h1v1h-1zM347,284h1v1h-1zM346,285h1v1h-1zM347,286h1v1h-1zM346,287h1v1h-1zM347,287h1v1h-1z" fill="#ffff00"/>
<path d="M361,285h1v1h-1zM361,286h1v1h-1zM361,287h1v1h-1z" fill="#ffff00"/>
<path d="M323,292h1v1h-1zM323,293h1v1h-1zM323,294h1v1h-1zM323,295h1v1h-1z" fill="#ff0000"/>
<rect x="325" y="292" width="1" height="1" fill="#ff0000"/>
<path d="M327,292h1v1h-1zM328,292h1v1h-1zM329,292h1v1h-1zM329,293h1v1h-1zM328,294h1v1h-1zM328,295h1v1h-1zM332,292h1v1h-1zM331,293h1v1h-1zM330,294h1v1h-1zM332,295h1v1h-1z" fill="#ff0000"/>
<rect x="351" y="292" width="4" height="4" fill="#ff0000"/>
<rect x="352" y="293" width="1" height="1" fill="#000"/>
<path d="M374,292h1v1h-1zM374,293h1v1h-1zM374,294h1v1h-1zM374,295h1v1h-1z" fill="#ff0000"/>
<rect x="376" y="292" width="1" height="1" fill="#ff0000"/>
<path d="M378,292h1v1h-1zM379,292h1v1h-1zM380,292h1v1h-1zM380,293h1v1h-1zM379,294h1v1h-1zM379,295h1v1h-1zM383,292h1v1h-1zM382,293h1v1h-1zM381,294h1v1h-1zM383,295h1v1h-1z" fill="#ff0000"/>
<path d="M346,297h1v1h-1zM347,297h1v1h-1zM346,298h1v1h-1zM347,299h1v1h-1zM346,300h1v1h-1zM347,300h1v1h-1z" fill="#ffff00"/>
<path d="M362,297h1v1h-1zM361,298h1v1h-1zM362,298h1v1h-1zM361,299h1v1h-1zM362,299h1v1h-1zM362,300h1v1h-1z" fill="#ffff00"/>
<path d="M323,305h1v1h-1zM323,306h1v1h-1zM323,307h1v1h-1zM323,308h1v1h-1z" fill="#ff0000"/>
<rect x="325" y="305" width="1" height="1" fill="#ff0000"/>
<path d="M327,305h1v1h-1zM328,305h1v1h-1zM329,305h1v1h-1zM329,306h1v1h-1zM328,307h1v1h-1zM328,308h1v1h-1zM332,305h1v1h-1zM331,306h1v1h-1zM330,307h1v1h-1zM332,308h1v1h-1z" fill="#ff0000"/>
<rect x="351" y="305" width="4" height="4" fill="#ff0000"/>
<rect x="352" y="306" width="1" height="1" fill="#000"/>
<path d="M374,305h1v1h-1zM374,306h1v1h-1zM374,307h1v1h-1zM374,308h1v1h-1z" fill="#ff0000"/>
<rect x="376" y="305" width="1" height="1" fill="#ff0000"/>
<path d="M378,305h1v1h-1zM379,305h1v1h-1zM380,305h1v1h-1zM380,306h1v1h-1zM379,307h1v1h-1zM379,308h1v1h-1zM383,305h1v1h-1zM382,306h1v1h-1zM381,307h1v1h-1zM383,308h1v1h-1z" fill="#ff0000"/>
<path d="M346,310h1v1h-1zM347,310h1v1h-1zM347,311h1v1h-1zM347,312h1v1h-1zM347,313h1v1h-1z" fill="#ffff00"/>
<path d="M361,310h1v1h-1zM362,310h1v1h-1zM361,311h1v1h-1zM362,311h1v1h-1zM361,312h1v1h-1zM362,312h1v1h-1zM361,313h1v1h-1zM362,313h1v1h-1z" fill="#ffff00"/>
<path d="M323,318h1v1h-1zM323,319h1v1h-1zM323,320h1v1h-1zM323,321h1v1h-1z" fill="#ff0000"/>
<rect x="325" y="318" width="1" height="1" fill="#ff0000"/>
<path d="M327,318h1v1h-1zM328,318h1v1h-1zM329,318h1v1h-1zM329,319h1v1h-1zM328,320h1v1h-1zM328,321h1v1h-1zM332,318h1v1h-1zM331,319h1v1h-1zM330,320h1v1h-1zM332,321h1v1h-1z" fill="#ff0000"/>
<rect x="351" y="318" width="4" height="4" fill="#ff0000"/>
<rect x="352" y="319" width="1" height="1" fill="#000"/>
<path d="M374,318h1v1h-1zM374,319h1v1h-1zM374,320h1v1h-1zM374,321h1v1h-1z" fill="#ff0000"/>
<rect x="376" y="318" width="1" height="1" fill="#ff0000"/>
<path d="M378,318h1v1h-1zM379,318h1v1h-1zM380,318h1v1h-1zM380,319h1v1h-1zM379,320h1v1h-1zM379,321h1v1h-1zM383,318h1v1h-1zM382,319h1v1h-1zM381,320h1v1h-1zM383,321h1v1h-1z" fill="#ff0000"/>
<path d="M346,323h1v1h-1zM347,323h1v1h-1zM346,324h1v1h-1zM347,324h1v1h-1zM347,325h1v1h-1zM346,326h1v1h-1zM347,326h1v1h-1z" fill="#ffff00"/>
<path d="M361,323h1v1h-1zM362,323h1v1h-1zM361,324h1v1h-1zM362,324h1v1h-1zM361,325h1v1h-1zM362,325h1v1h-1zM361,326h1v1h-1zM362,326h1v1h-1z" fill="#ffff00"/>
<line x1="323" y1="194.5" x2="335" y2="194.5" stroke="#ffffff" stroke-width="1"/>
<path d="M330,191 L327.5,194.5 L330,197.5" stroke="#ffffff" stroke-width="1.2" fill="none"/>
<path d="M333,191 L330.5,194.5 L333,197.5" stroke="#ffffff" stroke-width="1.2" fill="none"/>
<line x1="335" y1="194.5" x2="348" y2="194.5" stroke="#00ff00" stroke-width="1"/>
<line x1="348" y1="194.5" x2="351" y2="194.5" stroke="#ffffff" stroke-width="1"/>
<path d="M351.5,198.5 L353.5,197 L355,195.5 L357.5,194.5 H361" stroke="#ffffff" stroke-width="1.3" fill="none"/>
<line x1="361" y1="194.5" x2="374" y2="194.5" stroke="#00ff00" stroke-width="1"/>
<line x1="374" y1="194.5" x2="387" y2="194.5" stroke="#ffffff" stroke-width="1"/>
<path d="M378,191 L379,193 L379,196 L378,197.5" stroke="#ffffff" stroke-width="1.2" fill="none"/>
<path d="M380,191 L382.5,194.5" stroke="#ffffff" stroke-width="1.2" fill="none"/>
<line x1="323" y1="207.5" x2="335" y2="207.5" stroke="#ffffff" stroke-width="1"/>
<path d="M330,204 L327.5,207.5 L330,210.5" stroke="#ffffff" stroke-width="1.2" fill="none"/>
<path d="M333,204 L330.5,207.5 L333,210.5" stroke="#ffffff" stroke-width="1.2" fill="none"/>
<line x1="335" y1="207.5" x2="348" y2="207.5" stroke="#00ff00" stroke-width="1"/>
<line x1="348" y1="207.5" x2="351" y2="207.5" stroke="#ffffff" stroke-width="1"/>
<path d="M351.5,211.5 L353.5,210 L355,208.5 L357.5,207.5 H361" stroke="#ffffff" stroke-width="1.3" fill="none"/>
<line x1="361" y1="207.5" x2="374" y2="207.5" stroke="#00ff00" stroke-width="1"/>
<line x1="374" y1="207.5" x2="387" y2="207.5" stroke="#ffffff" stroke-width="1"/>
<path d="M378,204 L379,206 L379,209 L378,210.5" stroke="#ffffff" stroke-width="1.2" fill="none"/>
<path d="M380,204 L382.5,207.5" stroke="#ffffff" stroke-width="1.2" fill="none"/>
<line x1="323" y1="219.5" x2="335" y2="219.5" stroke="#ffffff" stroke-width="1"/>
<path d="M330,216 L327.5,219.5 L330,222.5" stroke="#ffffff" stroke-width="1.2" fill="none"/>
<path d="M333,216 L330.5,219.5 L333,222.5" stroke="#ffffff" stroke-width="1.2" fill="none"/>
<line x1="335" y1="219.5" x2="348" y2="219.5" stroke="#00ff00" stroke-width="1"/>
<line x1="348" y1="219.5" x2="351" y2="219.5" stroke="#ffffff" stroke-width="1"/>
<path d="M351.5,223.5 L353.5,222 L355,220.5 L357.5,219.5 H361" stroke="#ffffff" stroke-width="1.3" fill="none"/>
<line x1="361" y1="219.5" x2="374" y2="219.5" stroke="#00ff00" stroke-width="1"/>
<line x1="374" y1="219.5" x2="387" y2="219.5" stroke="#ffffff" stroke-width="1"/>
<path d="M378,216 L379,218 L379,221 L378,222.5" stroke="#ffffff" stroke-width="1.2" fill="none"/>
<path d="M380,216 L382.5,219.5" stroke="#ffffff" stroke-width="1.2" fill="none"/>
<line x1="323" y1="232.5" x2="335" y2="232.5" stroke="#ffffff" stroke-width="1"/>
<path d="M330,229 L327.5,232.5 L330,235.5" stroke="#ffffff" stroke-width="1.2" fill="none"/>
<path d="M333,229 L330.5,232.5 L333,235.5" stroke="#ffffff" stroke-width="1.2" fill="none"/>
<line x1="335" y1="232.5" x2="348" y2="232.5" stroke="#00ff00" stroke-width="1"/>
<line x1="348" y1="232.5" x2="351" y2="232.5" stroke="#ffffff" stroke-width="1"/>
<path d="M351.5,236.5 L353.5,235 L355,233.5 L357.5,232.5 H361" stroke="#ffffff" stroke-width="1.3" fill="none"/>
<line x1="361" y1="232.5" x2="374" y2="232.5" stroke="#00ff00" stroke-width="1"/>
<line x1="374" y1="232.5" x2="387" y2="232.5" stroke="#ffffff" stroke-width="1"/>
<path d="M378,229 L379,231 L379,234 L378,235.5" stroke="#ffffff" stroke-width="1.2" fill="none"/>
<path d="M380,229 L382.5,232.5" stroke="#ffffff" stroke-width="1.2" fill="none"/>
<line x1="323" y1="245.5" x2="335" y2="245.5" stroke="#ffffff" stroke-width="1"/>
<path d="M330,242 L327.5,245.5 L330,248.5" stroke="#ffffff" stroke-width="1.2" fill="none"/>
<path d="M333,242 L330.5,245.5 L333,248.5" stroke="#ffffff" stroke-width="1.2" fill="none"/>
<line x1="335" y1="245.5" x2="348" y2="245.5" stroke="#00ff00" stroke-width="1"/>
<line x1="348" y1="245.5" x2="351" y2="245.5" stroke="#ffffff" stroke-width="1"/>
<path d="M351.5,249.5 L353.5,248 L355,246.5 L357.5,245.5 H361" stroke="#ffffff" stroke-width="1.3" fill="none"/>
<line x1="361" y1="245.5" x2="374" y2="245.5" stroke="#00ff00" stroke-width="1"/>
<line x1="374" y1="245.5" x2="387" y2="245.5" stroke="#ffffff" stroke-width="1"/>
<path d="M378,242 L379,244 L379,247 L378,248.5" stroke="#ffffff" stroke-width="1.2" fill="none"/>
<path d="M380,242 L382.5,245.5" stroke="#ffffff" stroke-width="1.2" fill="none"/>
<line x1="323" y1="277.5" x2="335" y2="277.5" stroke="#ffffff" stroke-width="1"/>
<path d="M330,274 L327.5,277.5 L330,280.5" stroke="#ffffff" stroke-width="1.2" fill="none"/>
<path d="M333,274 L330.5,277.5 L333,280.5" stroke="#ffffff" stroke-width="1.2" fill="none"/>
<line x1="335" y1="277.5" x2="348" y2="277.5" stroke="#00ff00" stroke-width="1"/>
<line x1="348" y1="277.5" x2="351" y2="277.5" stroke="#ffffff" stroke-width="1"/>
<path d="M351,277.5 H352.5 V274.5 L355,275.5 L357.5,278.5 L358.5,277.5 H361" stroke="#ffffff" stroke-width="1.3" fill="none"/>
<line x1="361" y1="277.5" x2="374" y2="277.5" stroke="#00ff00" stroke-width="1"/>
<line x1="374" y1="277.5" x2="387" y2="277.5" stroke="#ffffff" stroke-width="1"/>
<path d="M378,274 L379,276 L379,279 L378,280.5" stroke="#ffffff" stroke-width="1.2" fill="none"/>
<path d="M380,274 L382.5,277.5" stroke="#ffffff" stroke-width="1.2" fill="none"/>
<line x1="323" y1="290.5" x2="335" y2="290.5" stroke="#ffffff" stroke-width="1"/>
<path d="M330,287 L327.5,290.5 L330,293.5" stroke="#ffffff" stroke-width="1.2" fill="none"/>
<path d="M333,287 L330.5,290.5 L333,293.5" stroke="#ffffff" stroke-width="1.2" fill="none"/>
<line x1="335" y1="290.5" x2="348" y2="290.5" stroke="#00ff00" stroke-width="1"/>
<line x1="348" y1="290.5" x2="351" y2="290.5" stroke="#ffffff" stroke-width="1"/>
<path d="M351,290.5 H352.5 V287.5 L355,288.5 L357.5,291.5 L358.5,290.5 H361" stroke="#ffffff" stroke-width="1.3" fill="none"/>
<line x1="361" y1="290.5" x2="374" y2="290.5" stroke="#00ff00" stroke-width="1"/>
<line x1="374" y1="290.5" x2="387" y2="290.5" stroke="#ffffff" stroke-width="1"/>
<path d="M378,287 L379,289 L379,292 L378,293.5" stroke="#ffffff" stroke-width="1.2" fill="none"/>
<path d="M380,287 L382.5,290.5" stroke="#ffffff" stroke-width="1.2" fill="none"/>
<line x1="323" y1="303.5" x2="335" y2="303.5" stroke="#ffffff" stroke-width="1"/>
<path d="M330,300 L327.5,303.5 L330,306.5" stroke="#ffffff" stroke-width="1.2" fill="none"/>
<path d="M333,300 L330.5,303.5 L333,306.5" stroke="#ffffff" stroke-width="1.2" fill="none"/>
<line x1="335" y1="303.5" x2="348" y2="303.5" stroke="#00ff00" stroke-width="1"/>
<line x1="348" y1="303.5" x2="351" y2="303.5" stroke="#ffffff" stroke-width="1"/>
<path d="M351,303.5 H352.5 V300.5 L355,301.5 L357.5,304.5 L358.5,303.5 H361" stroke="#ffffff" stroke-width="1.3" fill="none"/>
<line x1="361" y1="303.5" x2="374" y2="303.5" stroke="#00ff00" stroke-width="1"/>
<line x1="374" y1="303.5" x2="387" y2="303.5" stroke="#ffffff" stroke-width="1"/>
<path d="M378,300 L379,302 L379,305 L378,306.5" stroke="#ffffff" stroke-width="1.2" fill="none"/>
<path d="M380,300 L382.5,303.5" stroke="#ffffff" stroke-width="1.2" fill="none"/>
<line x1="323" y1="316.5" x2="335" y2="316.5" stroke="#ffffff" stroke-width="1"/>
<path d="M330,313 L327.5,316.5 L330,319.5" stroke="#ffffff" stroke-width="1.2" fill="none"/>
<path d="M333,313 L330.5,316.5 L333,319.5" stroke="#ffffff" stroke-width="1.2" fill="none"/>
<line x1="335" y1="316.5" x2="348" y2="316.5" stroke="#00ff00" stroke-width="1"/>
<line x1="348" y1="316.5" x2="351" y2="316.5" stroke="#ffffff" stroke-width="1"/>
<path d="M351,316.5 H352.5 V313.5 L355,314.5 L357.5,317.5 L358.5,316.5 H361" stroke="#ffffff" stroke-width="1.3" fill="none"/>
<line x1="361" y1="316.5" x2="374" y2="316.5" stroke="#00ff00" stroke-width="1"/>
<line x1="374" y1="316.5" x2="387" y2="316.5" stroke="#ffffff" stroke-width="1"/>
<path d="M378,313 L379,315 L379,318 L378,319.5" stroke="#ffffff" stroke-width="1.2" fill="none"/>
<path d="M380,313 L382.5,316.5" stroke="#ffffff" stroke-width="1.2" fill="none"/>
<line x1="323" y1="329.5" x2="335" y2="329.5" stroke="#ffffff" stroke-width="1"/>
<path d="M330,326 L327.5,329.5 L330,332.5" stroke="#ffffff" stroke-width="1.2" fill="none"/>
<path d="M333,326 L330.5,329.5 L333,332.5" stroke="#ffffff" stroke-width="1.2" fill="none"/>
<line x1="335" y1="329.5" x2="348" y2="329.5" stroke="#00ff00" stroke-width="1"/>
<line x1="348" y1="329.5" x2="351" y2="329.5" stroke="#ffffff" stroke-width="1"/>
<path d="M351,329.5 H352.5 V326.5 L355,327.5 L357.5,330.5 L358.5,329.5 H361" stroke="#ffffff" stroke-width="1.3" fill="none"/>
<line x1="361" y1="329.5" x2="374" y2="329.5" stroke="#00ff00" stroke-width="1"/>
<line x1="374" y1="329.5" x2="387" y2="329.5" stroke="#ffffff" stroke-width="1"/>
<path d="M378,326 L379,328 L379,331 L378,332.5" stroke="#ffffff" stroke-width="1.2" fill="none"/>
<path d="M380,326 L382.5,329.5" stroke="#ffffff" stroke-width="1.2" fill="none"/>
<line x1="403.5" y1="186" x2="403.5" y2="421" stroke="#ffffff" stroke-width="1"/>
<circle cx="449" cy="186" r="7.3" stroke="#ffff00" stroke-width="1.0" fill="none"/>
<line x1="441.5" y1="186.5" x2="456.5" y2="186.5" stroke="#ffff00" stroke-width="1"/>
<path d="M447,180h1v1h-1zM446,181h1v1h-1zM447,181h1v1h-1zM447,182h1v1h-1zM447,183h1v1h-1z" fill="#ffff00"/>
<path d="M445,187h1v1h-1zM444,188h1v1h-1zM443,189h1v1h-1zM445,190h1v1h-1zM447,187h1v1h-1zM446,188h1v1h-1zM447,188h1v1h-1zM447,189h1v1h-1zM447,190h1v1h-1zM449,189h1v1h-1zM450,189h1v1h-1zM451,189h1v1h-1zM453,187h1v1h-1zM452,188h1v1h-1zM453,188h1v1h-1zM453,189h1v1h-1zM453,190h1v1h-1z" fill="#ffff00"/>
<rect x="455.5" y="183.7" width="3.3" height="4.2" fill="#ffff00"/>
<path d="M460,185h1v1h-1zM461,185h1v1h-1zM460,186h1v1h-1zM462,186h1v1h-1zM460,187h1v1h-1zM462,187h1v1h-1zM463,185h1v1h-1zM464,185h1v1h-1zM465,185h1v1h-1zM463,186h1v1h-1zM463,187h1v1h-1zM464,187h1v1h-1zM465,187h1v1h-1zM466,185h1v1h-1zM467,185h1v1h-1zM466,186h1v1h-1zM468,186h1v1h-1zM466,187h1v1h-1zM468,187h1v1h-1z" fill="#ffff00"/>
<rect x="469.5" y="183.5" width="2" height="4" fill="#ffff00"/>
<rect x="472" y="182" width="1" height="5" fill="#ffff00"/>
<path d="M475,183h1v1h-1zM475,184h1v1h-1zM473,185h1v1h-1zM474,185h1v1h-1zM475,185h1v1h-1zM473,186h1v1h-1zM474,186h1v1h-1zM475,186h1v1h-1z" fill="#ffff00"/>
<path d="M418,199.5 H481 L482.5,201 V220.5 L481,222 H418 L416.5,220.5 V201 Z" stroke="#aa5555" stroke-width="1.8" fill="none"/>
<rect x="436.5" y="200" width="3" height="4" fill="#ffff00"/>
<rect x="436.5" y="200" width="3" height="4" fill="none" stroke="#ffffff" stroke-width="0.7" rx="0"/>
<line x1="437.5" y1="204" x2="437.5" y2="209" stroke="#ffffff" stroke-width="1"/>
<rect x="462.5" y="200" width="3" height="4" fill="#ffff00"/>
<rect x="462.5" y="200" width="3" height="4" fill="none" stroke="#ffffff" stroke-width="0.7" rx="0"/>
<line x1="463.5" y1="204" x2="463.5" y2="209" stroke="#ffffff" stroke-width="1"/>
<rect x="433" y="210" width="37" height="1.6" fill="#ffffff"/>
<path d="M439.5,210 l1.5,-2.5 l1.5,2.5" stroke="#ffffff" stroke-width="1" fill="none"/>
<path d="M444.5,210 l1.5,-2.5 l1.5,2.5" stroke="#ffffff" stroke-width="1" fill="none"/>
<path d="M450.5,210 l1.5,-2.5 l1.5,2.5" stroke="#ffffff" stroke-width="1" fill="none"/>
<path d="M456.5,210 l1.5,-2.5 l1.5,2.5" stroke="#ffffff" stroke-width="1" fill="none"/>
<path d="M461.5,210 l1.5,-2.5 l1.5,2.5" stroke="#ffffff" stroke-width="1" fill="none"/>
<path d="M441,211.5 l1.2,1.5 l-1.2,1.5 l-1.2,-1.5z" stroke="#ffffff" stroke-width="0.6" fill="#ffffff"/>
<path d="M447,211.5 l1.2,1.5 l-1.2,1.5 l-1.2,-1.5z" stroke="#ffffff" stroke-width="0.6" fill="#ffffff"/>
<path d="M453,211.5 l1.2,1.5 l-1.2,1.5 l-1.2,-1.5z" stroke="#ffffff" stroke-width="0.6" fill="#ffffff"/>
<path d="M459,211.5 l1.2,1.5 l-1.2,1.5 l-1.2,-1.5z" stroke="#ffffff" stroke-width="0.6" fill="#ffffff"/>
<path d="M422.5,219 V213.5 A2,2 0 0 1 426.5,213.5 A2,2 0 0 1 430.5,213.5 L433,210.5" stroke="#ffffff" stroke-width="1.1" fill="none"/>
<path d="M474.5,219 V213.5 A2,2 0 0 0 470.5,213.5 A2,2 0 0 0 466.5,213.5 L470,210.5" stroke="#ffffff" stroke-width="1.1" fill="none"/>
<line x1="435.5" y1="211" x2="435.5" y2="219" stroke="#ffffff" stroke-width="1"/>
<line x1="442.5" y1="211" x2="442.5" y2="219" stroke="#ffffff" stroke-width="1"/>
<line x1="455.5" y1="211" x2="455.5" y2="219" stroke="#ffffff" stroke-width="1"/>
<line x1="461.5" y1="211" x2="461.5" y2="219" stroke="#ffffff" stroke-width="1"/>
<circle cx="422.5" cy="220" r="2" stroke="#ffffff" stroke-width="0.8" fill="#ffff00"/>
<line x1="422.5" y1="222" x2="422.5" y2="225" stroke="#ffffff" stroke-width="1"/>
<circle cx="435.5" cy="220" r="2" stroke="#ffffff" stroke-width="0.8" fill="#ffff00"/>
<line x1="435.5" y1="222" x2="435.5" y2="225" stroke="#ffffff" stroke-width="1"/>
<circle cx="442.5" cy="220" r="2" stroke="#ffffff" stroke-width="0.8" fill="#ffff00"/>
<line x1="442.5" y1="222" x2="442.5" y2="225" stroke="#ffffff" stroke-width="1"/>
<circle cx="455.5" cy="220" r="2" stroke="#ffffff" stroke-width="0.8" fill="#ffff00"/>
<line x1="455.5" y1="222" x2="455.5" y2="225" stroke="#ffffff" stroke-width="1"/>
<circle cx="461.5" cy="220" r="2" stroke="#ffffff" stroke-width="0.8" fill="#ffff00"/>
<line x1="461.5" y1="222" x2="461.5" y2="225" stroke="#ffffff" stroke-width="1"/>
<circle cx="474.5" cy="220" r="2" stroke="#ffffff" stroke-width="0.8" fill="#ffff00"/>
<line x1="474.5" y1="222" x2="474.5" y2="225" stroke="#ffffff" stroke-width="1"/>
<path d="M418,247h1v1h-1zM419,248h1v1h-1zM419,247h1v1h-1zM420,247h1v1h-1zM421,247h1v1h-1zM420,244h1v1h-1zM420,243h1v1h-1zM420,242h1v1h-1zM418,238h1v1h-1zM419,239h1v1h-1zM420,240h1v1h-1zM421,238h1v1h-1zM418,235h1v1h-1zM419,236h1v1h-1zM419,235h1v1h-1zM420,235h1v1h-1zM421,235h1v1h-1zM418,232h1v1h-1zM419,232h1v1h-1zM420,232h1v1h-1zM421,232h1v1h-1zM420,230h1v1h-1zM420,229h1v1h-1zM420,228h1v1h-1zM418,226h1v1h-1zM418,225h1v1h-1zM418,224h1v1h-1zM419,224h1v1h-1zM420,225h1v1h-1zM421,225h1v1h-1zM418,221h1v1h-1zM419,222h1v1h-1zM419,221h1v1h-1zM420,221h1v1h-1zM421,221h1v1h-1z" fill="#ffffff"/>
<path d="M431,230h1v1h-1zM431,229h1v1h-1zM431,228h1v1h-1zM432,230h1v1h-1zM433,230h1v1h-1zM433,229h1v1h-1zM433,228h1v1h-1zM434,230h1v1h-1zM434,229h1v1h-1zM434,228h1v1h-1z" fill="#ffffff"/>
<path d="M437,251h1v1h-1zM438,251h1v1h-1zM439,251h1v1h-1zM440,251h1v1h-1zM439,249h1v1h-1zM439,248h1v1h-1zM439,247h1v1h-1zM437,244h1v1h-1zM438,245h1v1h-1zM438,244h1v1h-1zM439,244h1v1h-1zM440,244h1v1h-1zM437,239h1v1h-1zM438,240h1v1h-1zM439,241h1v1h-1zM440,239h1v1h-1zM437,237h1v1h-1zM438,237h1v1h-1zM439,237h1v1h-1zM440,237h1v1h-1zM439,235h1v1h-1zM439,234h1v1h-1zM439,233h1v1h-1zM437,231h1v1h-1zM437,230h1v1h-1zM437,229h1v1h-1zM438,229h1v1h-1zM439,230h1v1h-1zM440,230h1v1h-1zM437,225h1v1h-1zM438,226h1v1h-1zM439,227h1v1h-1zM440,225h1v1h-1zM437,222h1v1h-1zM438,223h1v1h-1zM438,222h1v1h-1zM439,222h1v1h-1zM440,222h1v1h-1z" fill="#ffffff"/>
<path d="M451,231h1v1h-1zM451,230h1v1h-1zM451,229h1v1h-1zM452,231h1v1h-1zM453,231h1v1h-1zM453,230h1v1h-1zM453,229h1v1h-1zM454,231h1v1h-1zM454,230h1v1h-1zM454,229h1v1h-1z" fill="#ffffff"/>
<path d="M458,239h1v1h-1zM459,240h1v1h-1zM459,239h1v1h-1zM460,239h1v1h-1zM461,239h1v1h-1zM458,234h1v1h-1zM459,235h1v1h-1zM460,236h1v1h-1zM461,234h1v1h-1zM460,232h1v1h-1zM460,231h1v1h-1zM460,230h1v1h-1zM458,228h1v1h-1zM458,227h1v1h-1zM458,226h1v1h-1zM459,226h1v1h-1zM460,227h1v1h-1zM461,227h1v1h-1z" fill="#ffffff"/>
<path d="M470,231h1v1h-1zM470,230h1v1h-1zM470,229h1v1h-1zM471,231h1v1h-1zM472,231h1v1h-1zM472,230h1v1h-1zM472,229h1v1h-1zM473,231h1v1h-1zM473,230h1v1h-1zM473,229h1v1h-1z" fill="#ffffff"/>
<circle cx="452" cy="275" r="7.3" stroke="#ffff00" stroke-width="1.0" fill="none"/>
<line x1="444.5" y1="275.5" x2="459.5" y2="275.5" stroke="#ffff00" stroke-width="1"/>
<path d="M450,269h1v1h-1zM449,270h1v1h-1zM450,270h1v1h-1zM450,271h1v1h-1zM450,272h1v1h-1z" fill="#ffff00"/>
<path d="M448,276h1v1h-1zM447,277h1v1h-1zM446,278h1v1h-1zM448,279h1v1h-1zM450,276h1v1h-1zM449,277h1v1h-1zM450,277h1v1h-1zM450,278h1v1h-1zM450,279h1v1h-1zM452,278h1v1h-1zM453,278h1v1h-1zM454,278h1v1h-1zM456,276h1v1h-1zM455,277h1v1h-1zM456,277h1v1h-1zM456,278h1v1h-1zM456,279h1v1h-1z" fill="#ffff00"/>
<rect x="458.5" y="272.7" width="3.3" height="4.2" fill="#ffff00"/>
<path d="M463,274h1v1h-1zM464,274h1v1h-1zM463,275h1v1h-1zM465,275h1v1h-1zM463,276h1v1h-1zM465,276h1v1h-1zM466,274h1v1h-1zM467,274h1v1h-1zM468,274h1v1h-1zM466,275h1v1h-1zM466,276h1v1h-1zM467,276h1v1h-1zM468,276h1v1h-1zM469,274h1v1h-1zM470,274h1v1h-1zM469,275h1v1h-1zM471,275h1v1h-1zM469,276h1v1h-1zM471,276h1v1h-1z" fill="#ffff00"/>
<rect x="472.5" y="272.5" width="2" height="4" fill="#ffff00"/>
<rect x="475" y="271" width="1" height="5" fill="#ffff00"/>
<path d="M478,272h1v1h-1zM478,273h1v1h-1zM476,274h1v1h-1zM477,274h1v1h-1zM478,274h1v1h-1zM476,275h1v1h-1zM477,275h1v1h-1zM478,275h1v1h-1z" fill="#ffff00"/>
<path d="M421,288.5 H484 L485.5,290 V309.5 L484,311 H421 L419.5,309.5 V290 Z" stroke="#aa5555" stroke-width="1.8" fill="none"/>
<rect x="439.5" y="289" width="3" height="4" fill="#ffff00"/>
<rect x="439.5" y="289" width="3" height="4" fill="none" stroke="#ffffff" stroke-width="0.7" rx="0"/>
<line x1="440.5" y1="293" x2="440.5" y2="298" stroke="#ffffff" stroke-width="1"/>
<rect x="465.5" y="289" width="3" height="4" fill="#ffff00"/>
<rect x="465.5" y="289" width="3" height="4" fill="none" stroke="#ffffff" stroke-width="0.7" rx="0"/>
<line x1="466.5" y1="293" x2="466.5" y2="298" stroke="#ffffff" stroke-width="1"/>
<rect x="436" y="299" width="37" height="1.6" fill="#ffffff"/>
<path d="M442.5,299 l1.5,-2.5 l1.5,2.5" stroke="#ffffff" stroke-width="1" fill="none"/>
<path d="M447.5,299 l1.5,-2.5 l1.5,2.5" stroke="#ffffff" stroke-width="1" fill="none"/>
<path d="M453.5,299 l1.5,-2.5 l1.5,2.5" stroke="#ffffff" stroke-width="1" fill="none"/>
<path d="M459.5,299 l1.5,-2.5 l1.5,2.5" stroke="#ffffff" stroke-width="1" fill="none"/>
<path d="M464.5,299 l1.5,-2.5 l1.5,2.5" stroke="#ffffff" stroke-width="1" fill="none"/>
<path d="M444,300.5 l1.2,1.5 l-1.2,1.5 l-1.2,-1.5z" stroke="#ffffff" stroke-width="0.6" fill="#ffffff"/>
<path d="M450,300.5 l1.2,1.5 l-1.2,1.5 l-1.2,-1.5z" stroke="#ffffff" stroke-width="0.6" fill="#ffffff"/>
<path d="M456,300.5 l1.2,1.5 l-1.2,1.5 l-1.2,-1.5z" stroke="#ffffff" stroke-width="0.6" fill="#ffffff"/>
<path d="M462,300.5 l1.2,1.5 l-1.2,1.5 l-1.2,-1.5z" stroke="#ffffff" stroke-width="0.6" fill="#ffffff"/>
<path d="M425.5,308 V302.5 A2,2 0 0 1 429.5,302.5 A2,2 0 0 1 433.5,302.5 L436,299.5" stroke="#ffffff" stroke-width="1.1" fill="none"/>
<path d="M477.5,308 V302.5 A2,2 0 0 0 473.5,302.5 A2,2 0 0 0 469.5,302.5 L473,299.5" stroke="#ffffff" stroke-width="1.1" fill="none"/>
<line x1="438.5" y1="300" x2="438.5" y2="308" stroke="#ffffff" stroke-width="1"/>
<line x1="445.5" y1="300" x2="445.5" y2="308" stroke="#ffffff" stroke-width="1"/>
<line x1="458.5" y1="300" x2="458.5" y2="308" stroke="#ffffff" stroke-width="1"/>
<line x1="464.5" y1="300" x2="464.5" y2="308" stroke="#ffffff" stroke-width="1"/>
<circle cx="425.5" cy="309" r="2" stroke="#ffffff" stroke-width="0.8" fill="#ffff00"/>
<line x1="425.5" y1="311" x2="425.5" y2="314" stroke="#ffffff" stroke-width="1"/>
<circle cx="438.5" cy="309" r="2" stroke="#ffffff" stroke-width="0.8" fill="#ffff00"/>
<line x1="438.5" y1="311" x2="438.5" y2="314" stroke="#ffffff" stroke-width="1"/>
<circle cx="445.5" cy="309" r="2" stroke="#ffffff" stroke-width="0.8" fill="#ffff00"/>
<line x1="445.5" y1="311" x2="445.5" y2="314" stroke="#ffffff" stroke-width="1"/>
<circle cx="458.5" cy="309" r="2" stroke="#ffffff" stroke-width="0.8" fill="#ffff00"/>
<line x1="458.5" y1="311" x2="458.5" y2="314" stroke="#ffffff" stroke-width="1"/>
<circle cx="464.5" cy="309" r="2" stroke="#ffffff" stroke-width="0.8" fill="#ffff00"/>
<line x1="464.5" y1="311" x2="464.5" y2="314" stroke="#ffffff" stroke-width="1"/>
<circle cx="477.5" cy="309" r="2" stroke="#ffffff" stroke-width="0.8" fill="#ffff00"/>
<line x1="477.5" y1="311" x2="477.5" y2="314" stroke="#ffffff" stroke-width="1"/>
<path d="M421,342h1v1h-1zM422,343h1v1h-1zM422,342h1v1h-1zM423,342h1v1h-1zM424,342h1v1h-1zM423,339h1v1h-1zM423,338h1v1h-1zM423,337h1v1h-1zM421,333h1v1h-1zM422,334h1v1h-1zM423,335h1v1h-1zM424,333h1v1h-1zM421,330h1v1h-1zM422,331h1v1h-1zM422,330h1v1h-1zM423,330h1v1h-1zM424,330h1v1h-1zM421,327h1v1h-1zM422,327h1v1h-1zM423,327h1v1h-1zM424,327h1v1h-1zM423,325h1v1h-1zM423,324h1v1h-1zM423,323h1v1h-1zM421,321h1v1h-1zM421,320h1v1h-1zM421,319h1v1h-1zM422,319h1v1h-1zM423,320h1v1h-1zM424,320h1v1h-1zM421,315h1v1h-1zM422,316h1v1h-1zM423,317h1v1h-1zM424,315h1v1h-1zM421,313h1v1h-1zM422,313h1v1h-1zM423,313h1v1h-1zM424,313h1v1h-1zM421,310h1v1h-1zM422,311h1v1h-1zM422,310h1v1h-1zM423,310h1v1h-1zM424,310h1v1h-1z" fill="#ffffff"/>
<path d="M434,323h1v1h-1zM434,322h1v1h-1zM434,321h1v1h-1zM435,323h1v1h-1zM436,323h1v1h-1zM436,322h1v1h-1zM436,321h1v1h-1zM437,323h1v1h-1zM437,322h1v1h-1zM437,321h1v1h-1zM434,319h1v1h-1zM435,319h1v1h-1zM436,319h1v1h-1zM437,319h1v1h-1z" fill="#ffffff"/>
<path d="M440,339h1v1h-1zM441,339h1v1h-1zM442,339h1v1h-1zM443,339h1v1h-1zM442,337h1v1h-1zM442,336h1v1h-1zM442,335h1v1h-1zM440,332h1v1h-1zM441,333h1v1h-1zM441,332h1v1h-1zM442,332h1v1h-1zM443,332h1v1h-1zM440,327h1v1h-1zM441,328h1v1h-1zM442,329h1v1h-1zM443,327h1v1h-1zM440,325h1v1h-1zM441,325h1v1h-1zM442,325h1v1h-1zM443,325h1v1h-1zM442,323h1v1h-1zM442,322h1v1h-1zM442,321h1v1h-1zM440,319h1v1h-1zM440,318h1v1h-1zM440,317h1v1h-1zM441,317h1v1h-1zM442,318h1v1h-1zM443,318h1v1h-1zM440,313h1v1h-1zM441,314h1v1h-1zM442,315h1v1h-1zM443,313h1v1h-1zM440,310h1v1h-1zM441,311h1v1h-1zM441,310h1v1h-1zM442,310h1v1h-1zM443,310h1v1h-1z" fill="#ffffff"/>
<path d="M454,323h1v1h-1zM454,322h1v1h-1zM454,321h1v1h-1zM455,323h1v1h-1zM456,323h1v1h-1zM456,322h1v1h-1zM456,321h1v1h-1zM457,323h1v1h-1zM457,322h1v1h-1zM457,321h1v1h-1zM454,319h1v1h-1zM455,319h1v1h-1zM456,319h1v1h-1zM457,319h1v1h-1z" fill="#ffffff"/>
<path d="M461,326h1v1h-1zM462,327h1v1h-1zM462,326h1v1h-1zM463,326h1v1h-1zM464,326h1v1h-1zM461,321h1v1h-1zM462,322h1v1h-1zM463,323h1v1h-1zM464,321h1v1h-1zM463,319h1v1h-1zM463,318h1v1h-1zM463,317h1v1h-1zM461,315h1v1h-1zM461,314h1v1h-1zM461,313h1v1h-1zM462,313h1v1h-1zM463,314h1v1h-1zM464,314h1v1h-1z" fill="#ffffff"/>
<path d="M473,326h1v1h-1zM474,327h1v1h-1zM474,326h1v1h-1zM475,326h1v1h-1zM476,326h1v1h-1zM473,321h1v1h-1zM474,322h1v1h-1zM475,323h1v1h-1zM476,321h1v1h-1zM475,319h1v1h-1zM475,318h1v1h-1zM475,317h1v1h-1zM473,315h1v1h-1zM473,314h1v1h-1zM473,313h1v1h-1zM474,313h1v1h-1zM475,314h1v1h-1zM476,314h1v1h-1z" fill="#ffffff"/>
<circle cx="450" cy="363" r="7.3" stroke="#ffff00" stroke-width="1.0" fill="none"/>
<line x1="442.5" y1="363.5" x2="457.5" y2="363.5" stroke="#ffff00" stroke-width="1"/>
<path d="M448,357h1v1h-1zM447,358h1v1h-1zM448,358h1v1h-1zM448,359h1v1h-1zM448,360h1v1h-1z" fill="#ffff00"/>
<path d="M446,364h1v1h-1zM445,365h1v1h-1zM444,366h1v1h-1zM446,367h1v1h-1zM448,364h1v1h-1zM447,365h1v1h-1zM448,365h1v1h-1zM448,366h1v1h-1zM448,367h1v1h-1zM450,366h1v1h-1zM451,366h1v1h-1zM452,366h1v1h-1zM454,364h1v1h-1zM453,365h1v1h-1zM454,365h1v1h-1zM454,366h1v1h-1zM454,367h1v1h-1z" fill="#ffff00"/>
<rect x="456.5" y="360.7" width="3.3" height="4.2" fill="#ffff00"/>
<path d="M461,362h1v1h-1zM462,362h1v1h-1zM461,363h1v1h-1zM463,363h1v1h-1zM461,364h1v1h-1zM463,364h1v1h-1zM464,362h1v1h-1zM465,362h1v1h-1zM466,362h1v1h-1zM464,363h1v1h-1zM464,364h1v1h-1zM465,364h1v1h-1zM466,364h1v1h-1zM467,362h1v1h-1zM468,362h1v1h-1zM467,363h1v1h-1zM469,363h1v1h-1zM467,364h1v1h-1zM469,364h1v1h-1z" fill="#ffff00"/>
<rect x="470.5" y="360.5" width="2" height="4" fill="#ffff00"/>
<rect x="473" y="359" width="1" height="5" fill="#ffff00"/>
<path d="M476,360h1v1h-1zM476,361h1v1h-1zM474,362h1v1h-1zM475,362h1v1h-1zM476,362h1v1h-1zM474,363h1v1h-1zM475,363h1v1h-1zM476,363h1v1h-1z" fill="#ffff00"/>
<path d="M419,375.5 H482 L483.5,377 V396.5 L482,398 H419 L417.5,396.5 V377 Z" stroke="#aa5555" stroke-width="1.8" fill="none"/>
<rect x="437.5" y="376" width="3" height="4" fill="#ffff00"/>
<rect x="437.5" y="376" width="3" height="4" fill="none" stroke="#ffffff" stroke-width="0.7" rx="0"/>
<line x1="438.5" y1="380" x2="438.5" y2="385" stroke="#ffffff" stroke-width="1"/>
<rect x="463.5" y="376" width="3" height="4" fill="#ffff00"/>
<rect x="463.5" y="376" width="3" height="4" fill="none" stroke="#ffffff" stroke-width="0.7" rx="0"/>
<line x1="464.5" y1="380" x2="464.5" y2="385" stroke="#ffffff" stroke-width="1"/>
<rect x="434" y="386" width="37" height="1.6" fill="#ffffff"/>
<path d="M440.5,386 l1.5,-2.5 l1.5,2.5" stroke="#ffffff" stroke-width="1" fill="none"/>
<path d="M445.5,386 l1.5,-2.5 l1.5,2.5" stroke="#ffffff" stroke-width="1" fill="none"/>
<path d="M451.5,386 l1.5,-2.5 l1.5,2.5" stroke="#ffffff" stroke-width="1" fill="none"/>
<path d="M457.5,386 l1.5,-2.5 l1.5,2.5" stroke="#ffffff" stroke-width="1" fill="none"/>
<path d="M462.5,386 l1.5,-2.5 l1.5,2.5" stroke="#ffffff" stroke-width="1" fill="none"/>
<path d="M442,387.5 l1.2,1.5 l-1.2,1.5 l-1.2,-1.5z" stroke="#ffffff" stroke-width="0.6" fill="#ffffff"/>
<path d="M448,387.5 l1.2,1.5 l-1.2,1.5 l-1.2,-1.5z" stroke="#ffffff" stroke-width="0.6" fill="#ffffff"/>
<path d="M454,387.5 l1.2,1.5 l-1.2,1.5 l-1.2,-1.5z" stroke="#ffffff" stroke-width="0.6" fill="#ffffff"/>
<path d="M460,387.5 l1.2,1.5 l-1.2,1.5 l-1.2,-1.5z" stroke="#ffffff" stroke-width="0.6" fill="#ffffff"/>
<path d="M423.5,395 V389.5 A2,2 0 0 1 427.5,389.5 A2,2 0 0 1 431.5,389.5 L434,386.5" stroke="#ffffff" stroke-width="1.1" fill="none"/>
<path d="M475.5,395 V389.5 A2,2 0 0 0 471.5,389.5 A2,2 0 0 0 467.5,389.5 L471,386.5" stroke="#ffffff" stroke-width="1.1" fill="none"/>
<line x1="436.5" y1="387" x2="436.5" y2="395" stroke="#ffffff" stroke-width="1"/>
<line x1="443.5" y1="387" x2="443.5" y2="395" stroke="#ffffff" stroke-width="1"/>
<line x1="456.5" y1="387" x2="456.5" y2="395" stroke="#ffffff" stroke-width="1"/>
<line x1="462.5" y1="387" x2="462.5" y2="395" stroke="#ffffff" stroke-width="1"/>
<circle cx="423.5" cy="396" r="2" stroke="#ffffff" stroke-width="0.8" fill="#ffff00"/>
<line x1="423.5" y1="398" x2="423.5" y2="401" stroke="#ffffff" stroke-width="1"/>
<circle cx="436.5" cy="396" r="2" stroke="#ffffff" stroke-width="0.8" fill="#ffff00"/>
<line x1="436.5" y1="398" x2="436.5" y2="401" stroke="#ffffff" stroke-width="1"/>
<circle cx="443.5" cy="396" r="2" stroke="#ffffff" stroke-width="0.8" fill="#ffff00"/>
<line x1="443.5" y1="398" x2="443.5" y2="401" stroke="#ffffff" stroke-width="1"/>
<circle cx="456.5" cy="396" r="2" stroke="#ffffff" stroke-width="0.8" fill="#ffff00"/>
<line x1="456.5" y1="398" x2="456.5" y2="401" stroke="#ffffff" stroke-width="1"/>
<circle cx="462.5" cy="396" r="2" stroke="#ffffff" stroke-width="0.8" fill="#ffff00"/>
<line x1="462.5" y1="398" x2="462.5" y2="401" stroke="#ffffff" stroke-width="1"/>
<circle cx="475.5" cy="396" r="2" stroke="#ffffff" stroke-width="0.8" fill="#ffff00"/>
<line x1="475.5" y1="398" x2="475.5" y2="401" stroke="#ffffff" stroke-width="1"/>
<path d="M419,419h1v1h-1zM420,420h1v1h-1zM420,419h1v1h-1zM421,419h1v1h-1zM422,419h1v1h-1zM419,414h1v1h-1zM420,415h1v1h-1zM421,416h1v1h-1zM422,414h1v1h-1zM421,412h1v1h-1zM421,411h1v1h-1zM421,410h1v1h-1zM419,408h1v1h-1zM419,407h1v1h-1zM419,406h1v1h-1zM420,406h1v1h-1zM421,407h1v1h-1zM422,407h1v1h-1zM419,404h1v1h-1zM420,404h1v1h-1zM421,404h1v1h-1zM422,404h1v1h-1zM419,401h1v1h-1zM420,402h1v1h-1zM420,401h1v1h-1zM421,401h1v1h-1zM422,401h1v1h-1z" fill="#ffffff"/>
<path d="M432,406h1v1h-1zM432,405h1v1h-1zM432,404h1v1h-1zM433,406h1v1h-1zM434,406h1v1h-1zM434,405h1v1h-1zM434,404h1v1h-1zM435,406h1v1h-1zM435,405h1v1h-1zM435,404h1v1h-1z" fill="#ffffff"/>
<path d="M438,429h1v1h-1zM439,429h1v1h-1zM440,429h1v1h-1zM441,429h1v1h-1zM440,427h1v1h-1zM440,426h1v1h-1zM440,425h1v1h-1zM438,422h1v1h-1zM439,423h1v1h-1zM439,422h1v1h-1zM440,422h1v1h-1zM441,422h1v1h-1zM438,417h1v1h-1zM439,418h1v1h-1zM440,419h1v1h-1zM441,417h1v1h-1zM438,415h1v1h-1zM439,415h1v1h-1zM440,415h1v1h-1zM441,415h1v1h-1zM440,413h1v1h-1zM440,412h1v1h-1zM440,411h1v1h-1zM438,409h1v1h-1zM438,408h1v1h-1zM438,407h1v1h-1zM439,407h1v1h-1zM440,408h1v1h-1zM441,408h1v1h-1zM438,403h1v1h-1zM439,404h1v1h-1zM440,405h1v1h-1zM441,403h1v1h-1zM438,400h1v1h-1zM439,401h1v1h-1zM439,400h1v1h-1zM440,400h1v1h-1zM441,400h1v1h-1zM438,397h1v1h-1zM439,397h1v1h-1zM440,397h1v1h-1zM441,397h1v1h-1z" fill="#ffffff"/>
<path d="M452,406h1v1h-1zM452,405h1v1h-1zM452,404h1v1h-1zM453,406h1v1h-1zM454,406h1v1h-1zM454,405h1v1h-1zM454,404h1v1h-1zM455,406h1v1h-1zM455,405h1v1h-1zM455,404h1v1h-1z" fill="#ffffff"/>
<path d="M459,412h1v1h-1zM460,413h1v1h-1zM460,412h1v1h-1zM461,412h1v1h-1zM462,412h1v1h-1zM459,407h1v1h-1zM460,408h1v1h-1zM461,409h1v1h-1zM462,407h1v1h-1zM459,405h1v1h-1zM459,404h1v1h-1zM459,403h1v1h-1zM460,405h1v1h-1zM461,405h1v1h-1zM461,404h1v1h-1zM461,403h1v1h-1zM462,405h1v1h-1zM462,404h1v1h-1zM462,403h1v1h-1z" fill="#ffffff"/>
<path d="M471,412h1v1h-1zM472,413h1v1h-1zM472,412h1v1h-1zM473,412h1v1h-1zM474,412h1v1h-1zM471,407h1v1h-1zM472,408h1v1h-1zM473,409h1v1h-1zM474,407h1v1h-1zM473,405h1v1h-1zM473,404h1v1h-1zM473,403h1v1h-1zM471,401h1v1h-1zM471,400h1v1h-1zM471,399h1v1h-1zM472,399h1v1h-1zM473,400h1v1h-1zM474,400h1v1h-1z" fill="#ffffff"/>
<circle cx="537" cy="186" r="7.6" stroke="#ffff00" stroke-width="1.1" fill="none"/>
<line x1="529.3" y1="186.5" x2="544.7" y2="186.5" stroke="#ffff00" stroke-width="1"/>
<path d="M534,180h1v1h-1zM535,180h1v1h-1zM536,180h1v1h-1zM534,181h1v1h-1zM534,182h1v1h-1zM535,182h1v1h-1zM536,182h1v1h-1zM534,183h1v1h-1zM535,183h1v1h-1zM536,183h1v1h-1z" fill="#ffff00"/>
<path d="M533,187h1v1h-1zM532,188h1v1h-1zM533,188h1v1h-1zM533,189h1v1h-1zM533,190h1v1h-1zM538,187h1v1h-1zM538,188h1v1h-1zM536,189h1v1h-1zM537,189h1v1h-1zM538,189h1v1h-1zM536,190h1v1h-1zM537,190h1v1h-1zM538,190h1v1h-1z" fill="#ffff00"/>
<rect x="546" y="184" width="2" height="4" fill="#ffff00"/>
<path d="M549,182h1v1h-1zM549,183h1v1h-1zM549,184h1v1h-1zM549,185h1v1h-1zM549,186h1v1h-1zM552,182h1v1h-1zM551,183h1v1h-1zM550,184h1v1h-1zM551,185h1v1h-1zM552,186h1v1h-1z" fill="#ffff00"/>
<path d="M554,185h1v1h-1zM555,185h1v1h-1zM554,186h1v1h-1zM554,187h1v1h-1zM560,184h1v1h-1zM559,185h1v1h-1zM558,186h1v1h-1zM560,187h1v1h-1zM562,184h1v1h-1zM563,184h1v1h-1zM564,184h1v1h-1zM562,185h1v1h-1zM562,186h1v1h-1zM563,186h1v1h-1zM564,186h1v1h-1zM562,187h1v1h-1zM563,187h1v1h-1zM564,187h1v1h-1z" fill="#ffff00"/>
<rect x="568" y="181" width="1" height="5" fill="#ffff00"/>
<path d="M527,198.5 H548 L549.5,200 V231 L548,232.5 H527 L525.5,231 V200 Z" stroke="#aa5555" stroke-width="1.3" fill="none"/>
<path d="M513,202h1v1h-1zM513,203h1v1h-1zM513,204h1v1h-1zM513,205h1v1h-1zM515,202h1v1h-1zM515,203h1v1h-1zM515,204h1v1h-1zM515,205h1v1h-1z" fill="#ffffff"/>
<path d="M518,202h1v1h-1zM519,202h1v1h-1zM520,202h1v1h-1zM520,203h1v1h-1zM519,204h1v1h-1zM519,205h1v1h-1zM523,202h1v1h-1zM522,203h1v1h-1zM521,204h1v1h-1zM523,205h1v1h-1z" fill="#ffffff"/>
<line x1="523" y1="204.5" x2="526" y2="204.5" stroke="#ffffff" stroke-width="1"/>
<circle cx="528.5" cy="204.5" r="2.2" stroke="#ffffff" stroke-width="0.9" fill="#ffff00"/>
<path d="M531,204.5 H534.5 V207.5 M533,206.5 H536 M536,206.5 H539.5 V204.5 H543" stroke="#ffffff" stroke-width="1" fill="none"/>
<circle cx="545.5" cy="204.5" r="2.2" stroke="#ffffff" stroke-width="0.9" fill="#ffff00"/>
<line x1="548" y1="204.5" x2="553" y2="204.5" stroke="#ffffff" stroke-width="1"/>
<line x1="550.5" y1="202" x2="550.5" y2="205" stroke="#ffffff" stroke-width="1"/>
<line x1="552.5" y1="202" x2="552.5" y2="205" stroke="#ffffff" stroke-width="1"/>
<path d="M555,202h1v1h-1zM556,202h1v1h-1zM557,202h1v1h-1zM557,203h1v1h-1zM556,204h1v1h-1zM556,205h1v1h-1zM559,202h1v1h-1zM560,202h1v1h-1zM561,202h1v1h-1zM559,203h1v1h-1zM559,204h1v1h-1zM560,204h1v1h-1zM561,204h1v1h-1zM559,205h1v1h-1zM560,205h1v1h-1zM561,205h1v1h-1z" fill="#ffffff"/>
<rect x="528" y="204" width="1" height="1.5" fill="#000"/>
<rect x="545" y="204" width="1" height="1.5" fill="#000"/>
<path d="M513,208h1v1h-1zM513,209h1v1h-1zM513,210h1v1h-1zM513,211h1v1h-1zM515,208h1v1h-1zM515,209h1v1h-1zM515,210h1v1h-1zM515,211h1v1h-1z" fill="#ffffff"/>
<path d="M518,208h1v1h-1zM519,208h1v1h-1zM520,208h1v1h-1zM520,209h1v1h-1zM519,210h1v1h-1zM519,211h1v1h-1zM522,208h1v1h-1zM521,209h1v1h-1zM522,209h1v1h-1zM522,210h1v1h-1zM522,211h1v1h-1z" fill="#ffffff"/>
<line x1="523" y1="210.5" x2="526" y2="210.5" stroke="#ffffff" stroke-width="1"/>
<circle cx="528.5" cy="210.5" r="2.2" stroke="#ffffff" stroke-width="0.9" fill="#ffff00"/>
<path d="M531,210.5 H534.5 V213.5 M533,212.5 H536 M536,212.5 H539.5 V210.5 H543" stroke="#ffffff" stroke-width="1" fill="none"/>
<circle cx="545.5" cy="210.5" r="2.2" stroke="#ffffff" stroke-width="0.9" fill="#ffff00"/>
<line x1="548" y1="210.5" x2="553" y2="210.5" stroke="#ffffff" stroke-width="1"/>
<line x1="550.5" y1="208" x2="550.5" y2="211" stroke="#ffffff" stroke-width="1"/>
<line x1="552.5" y1="208" x2="552.5" y2="211" stroke="#ffffff" stroke-width="1"/>
<path d="M555,208h1v1h-1zM556,208h1v1h-1zM557,208h1v1h-1zM557,209h1v1h-1zM556,210h1v1h-1zM556,211h1v1h-1zM559,208h1v1h-1zM560,208h1v1h-1zM561,208h1v1h-1zM559,209h1v1h-1zM559,210h1v1h-1zM560,210h1v1h-1zM561,210h1v1h-1zM559,211h1v1h-1zM560,211h1v1h-1zM561,211h1v1h-1z" fill="#ffffff"/>
<rect x="528" y="210" width="1" height="1.5" fill="#000"/>
<rect x="545" y="210" width="1" height="1.5" fill="#000"/>
<path d="M513,214h1v1h-1zM513,215h1v1h-1zM513,216h1v1h-1zM513,217h1v1h-1zM515,214h1v1h-1zM515,215h1v1h-1zM515,216h1v1h-1zM515,217h1v1h-1z" fill="#ffffff"/>
<path d="M518,214h1v1h-1zM519,214h1v1h-1zM520,214h1v1h-1zM520,215h1v1h-1zM519,216h1v1h-1zM519,217h1v1h-1zM523,214h1v1h-1zM522,215h1v1h-1zM521,216h1v1h-1zM523,217h1v1h-1z" fill="#ffffff"/>
<line x1="523" y1="216.5" x2="526" y2="216.5" stroke="#ffffff" stroke-width="1"/>
<circle cx="528.5" cy="216.5" r="2.2" stroke="#ffffff" stroke-width="0.9" fill="#ffff00"/>
<path d="M531,216.5 H534.5 V219.5 M533,218.5 H536 M536,218.5 H539.5 V216.5 H543" stroke="#ffffff" stroke-width="1" fill="none"/>
<circle cx="545.5" cy="216.5" r="2.2" stroke="#ffffff" stroke-width="0.9" fill="#ffff00"/>
<line x1="548" y1="216.5" x2="553" y2="216.5" stroke="#ffffff" stroke-width="1"/>
<line x1="550.5" y1="214" x2="550.5" y2="217" stroke="#ffffff" stroke-width="1"/>
<line x1="552.5" y1="214" x2="552.5" y2="217" stroke="#ffffff" stroke-width="1"/>
<path d="M555,214h1v1h-1zM556,214h1v1h-1zM557,214h1v1h-1zM557,215h1v1h-1zM556,216h1v1h-1zM556,217h1v1h-1zM559,214h1v1h-1zM560,214h1v1h-1zM561,214h1v1h-1zM559,215h1v1h-1zM559,216h1v1h-1zM560,216h1v1h-1zM561,216h1v1h-1zM559,217h1v1h-1zM560,217h1v1h-1zM561,217h1v1h-1z" fill="#ffffff"/>
<rect x="528" y="216" width="1" height="1.5" fill="#000"/>
<rect x="545" y="216" width="1" height="1.5" fill="#000"/>
<path d="M513,220h1v1h-1zM513,221h1v1h-1zM513,222h1v1h-1zM513,223h1v1h-1zM515,220h1v1h-1zM515,221h1v1h-1zM515,222h1v1h-1zM515,223h1v1h-1z" fill="#ffffff"/>
<path d="M518,220h1v1h-1zM519,220h1v1h-1zM520,220h1v1h-1zM520,221h1v1h-1zM519,222h1v1h-1zM519,223h1v1h-1zM522,220h1v1h-1zM521,221h1v1h-1zM522,221h1v1h-1zM522,222h1v1h-1zM522,223h1v1h-1z" fill="#ffffff"/>
<line x1="523" y1="222.5" x2="526" y2="222.5" stroke="#ffffff" stroke-width="1"/>
<circle cx="528.5" cy="222.5" r="2.2" stroke="#ffffff" stroke-width="0.9" fill="#ffff00"/>
<path d="M531,222.5 H534.5 V225.5 M533,224.5 H536 M536,224.5 H539.5 V222.5 H543" stroke="#ffffff" stroke-width="1" fill="none"/>
<circle cx="545.5" cy="222.5" r="2.2" stroke="#ffffff" stroke-width="0.9" fill="#ffff00"/>
<line x1="548" y1="222.5" x2="553" y2="222.5" stroke="#ffffff" stroke-width="1"/>
<line x1="550.5" y1="220" x2="550.5" y2="223" stroke="#ffffff" stroke-width="1"/>
<line x1="552.5" y1="220" x2="552.5" y2="223" stroke="#ffffff" stroke-width="1"/>
<path d="M555,220h1v1h-1zM556,220h1v1h-1zM557,220h1v1h-1zM557,221h1v1h-1zM556,222h1v1h-1zM556,223h1v1h-1zM559,220h1v1h-1zM560,220h1v1h-1zM561,220h1v1h-1zM559,221h1v1h-1zM559,222h1v1h-1zM560,222h1v1h-1zM561,222h1v1h-1zM559,223h1v1h-1zM560,223h1v1h-1zM561,223h1v1h-1z" fill="#ffffff"/>
<rect x="528" y="222" width="1" height="1.5" fill="#000"/>
<rect x="545" y="222" width="1" height="1.5" fill="#000"/>
<path d="M513,226h1v1h-1zM513,227h1v1h-1zM513,228h1v1h-1zM513,229h1v1h-1zM515,226h1v1h-1zM515,227h1v1h-1zM515,228h1v1h-1zM515,229h1v1h-1z" fill="#ffffff"/>
<path d="M518,226h1v1h-1zM519,226h1v1h-1zM520,226h1v1h-1zM520,227h1v1h-1zM519,228h1v1h-1zM519,229h1v1h-1zM523,226h1v1h-1zM522,227h1v1h-1zM521,228h1v1h-1zM523,229h1v1h-1z" fill="#ffffff"/>
<line x1="523" y1="228.5" x2="526" y2="228.5" stroke="#ffffff" stroke-width="1"/>
<circle cx="528.5" cy="228.5" r="2.2" stroke="#ffffff" stroke-width="0.9" fill="#ffff00"/>
<path d="M531,228.5 H534.5 V231.5 M533,230.5 H536 M536,230.5 H539.5 V228.5 H543" stroke="#ffffff" stroke-width="1" fill="none"/>
<circle cx="545.5" cy="228.5" r="2.2" stroke="#ffffff" stroke-width="0.9" fill="#ffff00"/>
<line x1="548" y1="228.5" x2="553" y2="228.5" stroke="#ffffff" stroke-width="1"/>
<line x1="550.5" y1="226" x2="550.5" y2="229" stroke="#ffffff" stroke-width="1"/>
<line x1="552.5" y1="226" x2="552.5" y2="229" stroke="#ffffff" stroke-width="1"/>
<path d="M555,226h1v1h-1zM556,226h1v1h-1zM557,226h1v1h-1zM557,227h1v1h-1zM556,228h1v1h-1zM556,229h1v1h-1z" fill="#ffffff"/>
<rect x="528" y="228" width="1" height="1.5" fill="#000"/>
<rect x="545" y="228" width="1" height="1.5" fill="#000"/>
<circle cx="538" cy="268" r="7.6" stroke="#ffff00" stroke-width="1.1" fill="none"/>
<line x1="530.3" y1="268.5" x2="545.7" y2="268.5" stroke="#ffff00" stroke-width="1"/>
<path d="M535,262h1v1h-1zM536,262h1v1h-1zM537,262h1v1h-1zM535,263h1v1h-1zM535,264h1v1h-1zM536,264h1v1h-1zM537,264h1v1h-1zM535,265h1v1h-1zM536,265h1v1h-1zM537,265h1v1h-1z" fill="#ffff00"/>
<path d="M534,269h1v1h-1zM533,270h1v1h-1zM534,270h1v1h-1zM534,271h1v1h-1zM534,272h1v1h-1zM539,269h1v1h-1zM539,270h1v1h-1zM537,271h1v1h-1zM538,271h1v1h-1zM539,271h1v1h-1zM537,272h1v1h-1zM538,272h1v1h-1zM539,272h1v1h-1z" fill="#ffff00"/>
<rect x="547" y="266" width="2" height="4" fill="#ffff00"/>
<path d="M550,264h1v1h-1zM550,265h1v1h-1zM550,266h1v1h-1zM550,267h1v1h-1zM550,268h1v1h-1zM553,264h1v1h-1zM552,265h1v1h-1zM551,266h1v1h-1zM552,267h1v1h-1zM553,268h1v1h-1z" fill="#ffff00"/>
<path d="M555,267h1v1h-1zM556,267h1v1h-1zM555,268h1v1h-1zM555,269h1v1h-1zM561,266h1v1h-1zM560,267h1v1h-1zM559,268h1v1h-1zM561,269h1v1h-1zM563,266h1v1h-1zM564,266h1v1h-1zM565,266h1v1h-1zM563,267h1v1h-1zM563,268h1v1h-1zM564,268h1v1h-1zM565,268h1v1h-1zM563,269h1v1h-1zM564,269h1v1h-1zM565,269h1v1h-1z" fill="#ffff00"/>
<rect x="569" y="263" width="1" height="5" fill="#ffff00"/>
<path d="M528,281.5 H549 L550.5,283 V314 L549,315.5 H528 L526.5,314 V283 Z" stroke="#aa5555" stroke-width="1.3" fill="none"/>
<path d="M513,284h1v1h-1zM513,285h1v1h-1zM513,286h1v1h-1zM513,287h1v1h-1z" fill="#ffffff"/>
<rect x="515" y="284" width="1" height="1" fill="#ffffff"/>
<path d="M517,284h1v1h-1zM517,285h1v1h-1zM517,286h1v1h-1zM517,287h1v1h-1zM519,284h1v1h-1zM519,285h1v1h-1zM519,286h1v1h-1zM519,287h1v1h-1z" fill="#ffffff"/>
<line x1="524" y1="286.5" x2="527" y2="286.5" stroke="#ffffff" stroke-width="1"/>
<circle cx="529.5" cy="286.5" r="2.2" stroke="#ffffff" stroke-width="0.9" fill="#ffff00"/>
<path d="M532,286.5 h4" stroke="#ffffff" stroke-width="1" fill="none"/>
<path d="M537,284.5 h1.5 l4,2 h2" stroke="#ffffff" stroke-width="1" fill="none"/>
<circle cx="546.5" cy="286.5" r="2.2" stroke="#ffffff" stroke-width="0.9" fill="#ffff00"/>
<line x1="549" y1="286.5" x2="554" y2="286.5" stroke="#ffffff" stroke-width="1"/>
<line x1="551.5" y1="284" x2="551.5" y2="287" stroke="#ffffff" stroke-width="1"/>
<line x1="553.5" y1="284" x2="553.5" y2="287" stroke="#ffffff" stroke-width="1"/>
<path d="M556,284h1v1h-1zM556,285h1v1h-1zM556,286h1v1h-1zM556,287h1v1h-1z" fill="#ffffff"/>
<path d="M558,284h1v1h-1zM558,285h1v1h-1zM558,286h1v1h-1zM558,287h1v1h-1zM560,284h1v1h-1zM561,284h1v1h-1zM562,284h1v1h-1zM562,285h1v1h-1zM561,286h1v1h-1zM561,287h1v1h-1z" fill="#ffffff"/>
<rect x="529" y="286" width="1" height="1.5" fill="#000"/>
<rect x="546" y="286" width="1" height="1.5" fill="#000"/>
<path d="M513,290h1v1h-1zM513,291h1v1h-1zM513,292h1v1h-1zM513,293h1v1h-1z" fill="#ffffff"/>
<rect x="515" y="290" width="1" height="1" fill="#ffffff"/>
<path d="M517,290h1v1h-1zM517,291h1v1h-1zM517,292h1v1h-1zM517,293h1v1h-1zM519,290h1v1h-1zM520,290h1v1h-1zM521,290h1v1h-1zM519,291h1v1h-1zM519,292h1v1h-1zM520,292h1v1h-1zM521,292h1v1h-1zM519,293h1v1h-1zM520,293h1v1h-1zM521,293h1v1h-1z" fill="#ffffff"/>
<line x1="524" y1="292.5" x2="527" y2="292.5" stroke="#ffffff" stroke-width="1"/>
<circle cx="529.5" cy="292.5" r="2.2" stroke="#ffffff" stroke-width="0.9" fill="#ffff00"/>
<path d="M532,292.5 h4" stroke="#ffffff" stroke-width="1" fill="none"/>
<path d="M537,290.5 h1.5 l4,2 h2" stroke="#ffffff" stroke-width="1" fill="none"/>
<circle cx="546.5" cy="292.5" r="2.2" stroke="#ffffff" stroke-width="0.9" fill="#ffff00"/>
<line x1="549" y1="292.5" x2="554" y2="292.5" stroke="#ffffff" stroke-width="1"/>
<line x1="551.5" y1="290" x2="551.5" y2="293" stroke="#ffffff" stroke-width="1"/>
<line x1="553.5" y1="290" x2="553.5" y2="293" stroke="#ffffff" stroke-width="1"/>
<path d="M556,290h1v1h-1zM556,291h1v1h-1zM556,292h1v1h-1zM556,293h1v1h-1z" fill="#ffffff"/>
<path d="M558,290h1v1h-1zM558,291h1v1h-1zM558,292h1v1h-1zM558,293h1v1h-1zM560,290h1v1h-1zM560,291h1v1h-1zM560,292h1v1h-1zM560,293h1v1h-1z" fill="#ffffff"/>
<rect x="529" y="292" width="1" height="1.5" fill="#000"/>
<rect x="546" y="292" width="1" height="1.5" fill="#000"/>
<path d="M513,296h1v1h-1zM513,297h1v1h-1zM513,298h1v1h-1zM513,299h1v1h-1z" fill="#ffffff"/>
<rect x="515" y="296" width="1" height="1" fill="#ffffff"/>
<path d="M517,296h1v1h-1zM517,297h1v1h-1zM517,298h1v1h-1zM517,299h1v1h-1zM519,296h1v1h-1zM520,296h1v1h-1zM521,296h1v1h-1zM519,297h1v1h-1zM519,298h1v1h-1zM520,298h1v1h-1zM521,298h1v1h-1zM519,299h1v1h-1zM520,299h1v1h-1zM521,299h1v1h-1z" fill="#ffffff"/>
<line x1="524" y1="298.5" x2="527" y2="298.5" stroke="#ffffff" stroke-width="1"/>
<circle cx="529.5" cy="298.5" r="2.2" stroke="#ffffff" stroke-width="0.9" fill="#ffff00"/>
<path d="M532,298.5 h4" stroke="#ffffff" stroke-width="1" fill="none"/>
<path d="M537,296.5 h1.5 l4,2 h2" stroke="#ffffff" stroke-width="1" fill="none"/>
<circle cx="546.5" cy="298.5" r="2.2" stroke="#ffffff" stroke-width="0.9" fill="#ffff00"/>
<line x1="549" y1="298.5" x2="554" y2="298.5" stroke="#ffffff" stroke-width="1"/>
<line x1="551.5" y1="296" x2="551.5" y2="299" stroke="#ffffff" stroke-width="1"/>
<line x1="553.5" y1="296" x2="553.5" y2="299" stroke="#ffffff" stroke-width="1"/>
<path d="M556,296h1v1h-1zM556,297h1v1h-1zM556,298h1v1h-1zM556,299h1v1h-1z" fill="#ffffff"/>
<path d="M558,296h1v1h-1zM558,297h1v1h-1zM558,298h1v1h-1zM558,299h1v1h-1zM562,296h1v1h-1zM562,297h1v1h-1zM560,298h1v1h-1zM561,298h1v1h-1zM562,298h1v1h-1zM560,299h1v1h-1zM561,299h1v1h-1zM562,299h1v1h-1z" fill="#ffffff"/>
<rect x="529" y="298" width="1" height="1.5" fill="#000"/>
<rect x="546" y="298" width="1" height="1.5" fill="#000"/>
<path d="M513,302h1v1h-1zM513,303h1v1h-1zM513,304h1v1h-1zM513,305h1v1h-1z" fill="#ffffff"/>
<rect x="515" y="302" width="1" height="1" fill="#ffffff"/>
<path d="M517,302h1v1h-1zM517,303h1v1h-1zM517,304h1v1h-1zM517,305h1v1h-1zM519,303h1v1h-1zM520,303h1v1h-1zM519,304h1v1h-1zM519,305h1v1h-1z" fill="#ffffff"/>
<line x1="524" y1="304.5" x2="527" y2="304.5" stroke="#ffffff" stroke-width="1"/>
<circle cx="529.5" cy="304.5" r="2.2" stroke="#ffffff" stroke-width="0.9" fill="#ffff00"/>
<path d="M532,304.5 h4" stroke="#ffffff" stroke-width="1" fill="none"/>
<path d="M537,302.5 h1.5 l4,2 h2" stroke="#ffffff" stroke-width="1" fill="none"/>
<circle cx="546.5" cy="304.5" r="2.2" stroke="#ffffff" stroke-width="0.9" fill="#ffff00"/>
<line x1="549" y1="304.5" x2="554" y2="304.5" stroke="#ffffff" stroke-width="1"/>
<line x1="551.5" y1="302" x2="551.5" y2="305" stroke="#ffffff" stroke-width="1"/>
<line x1="553.5" y1="302" x2="553.5" y2="305" stroke="#ffffff" stroke-width="1"/>
<path d="M556,302h1v1h-1zM556,303h1v1h-1zM556,304h1v1h-1zM556,305h1v1h-1z" fill="#ffffff"/>
<path d="M558,302h1v1h-1zM558,303h1v1h-1zM558,304h1v1h-1zM558,305h1v1h-1zM560,302h1v1h-1zM561,302h1v1h-1zM562,302h1v1h-1zM560,303h1v1h-1zM562,303h1v1h-1zM560,304h1v1h-1zM561,304h1v1h-1zM562,304h1v1h-1zM560,305h1v1h-1zM561,305h1v1h-1zM562,305h1v1h-1z" fill="#ffffff"/>
<rect x="529" y="304" width="1" height="1.5" fill="#000"/>
<rect x="546" y="304" width="1" height="1.5" fill="#000"/>
<path d="M513,308h1v1h-1zM513,309h1v1h-1zM513,310h1v1h-1zM513,311h1v1h-1z" fill="#ffffff"/>
<rect x="515" y="308" width="1" height="1" fill="#ffffff"/>
<path d="M517,308h1v1h-1zM518,308h1v1h-1zM519,308h1v1h-1zM519,309h1v1h-1zM518,310h1v1h-1zM518,311h1v1h-1zM521,308h1v1h-1zM522,308h1v1h-1zM523,308h1v1h-1zM524,308h1v1h-1zM521,309h1v1h-1zM523,309h1v1h-1zM524,309h1v1h-1zM521,310h1v1h-1zM522,310h1v1h-1zM524,310h1v1h-1zM521,311h1v1h-1zM524,311h1v1h-1z" fill="#ffffff"/>
<line x1="524" y1="310.5" x2="527" y2="310.5" stroke="#ffffff" stroke-width="1"/>
<circle cx="529.5" cy="310.5" r="2.2" stroke="#ffffff" stroke-width="0.9" fill="#ffff00"/>
<path d="M532,310.5 h4" stroke="#ffffff" stroke-width="1" fill="none"/>
<path d="M537,308.5 h1.5 l4,2 h2" stroke="#ffffff" stroke-width="1" fill="none"/>
<circle cx="546.5" cy="310.5" r="2.2" stroke="#ffffff" stroke-width="0.9" fill="#ffff00"/>
<line x1="549" y1="310.5" x2="554" y2="310.5" stroke="#ffffff" stroke-width="1"/>
<line x1="551.5" y1="308" x2="551.5" y2="311" stroke="#ffffff" stroke-width="1"/>
<line x1="553.5" y1="308" x2="553.5" y2="311" stroke="#ffffff" stroke-width="1"/>
<path d="M556,308h1v1h-1zM556,309h1v1h-1zM556,310h1v1h-1zM556,311h1v1h-1z" fill="#ffffff"/>
<path d="M558,308h1v1h-1zM559,308h1v1h-1zM560,308h1v1h-1zM560,309h1v1h-1zM559,310h1v1h-1zM559,311h1v1h-1zM564,308h1v1h-1zM563,309h1v1h-1zM562,310h1v1h-1zM564,311h1v1h-1z" fill="#ffffff"/>
<rect x="529" y="310" width="1" height="1.5" fill="#000"/>
<rect x="546" y="310" width="1" height="1.5" fill="#000"/>
<circle cx="623" cy="221" r="7.3" stroke="#ffff00" stroke-width="1.1" fill="none"/>
<line x1="615.5" y1="221.5" x2="630.5" y2="221.5" stroke="#ffff00" stroke-width="1"/>
<path d="M621,215h1v1h-1zM620,216h1v1h-1zM621,216h1v1h-1zM621,217h1v1h-1zM621,218h1v1h-1z" fill="#ffff00"/>
<path d="M619,223h1v1h-1zM619,224h1v1h-1zM619,225h1v1h-1zM622,223h1v1h-1zM622,224h1v1h-1zM622,225h1v1h-1z" fill="#ffff00"/>
<path d="M632,219h1v1h-1zM633,219h1v1h-1zM634,219h1v1h-1zM633,220h1v1h-1zM633,221h1v1h-1zM633,222h1v1h-1zM635,220h1v1h-1zM636,220h1v1h-1zM635,221h1v1h-1zM635,222h1v1h-1z" fill="#ffff00"/>
<rect x="635" y="219" width="3" height="4" fill="#ffff00"/>
<rect x="610.5" y="234.5" width="26" height="194" fill="none" stroke="#ffffff" stroke-width="1" rx="0"/>
<line x1="610" y1="241.5" x2="637" y2="241.5" stroke="#ffffff" stroke-width="1"/>
<line x1="623.5" y1="241" x2="623.5" y2="428" stroke="#ffffff" stroke-width="1"/>
<path d="M619,236h1v1h-1zM618,237h1v1h-1zM619,237h1v1h-1zM619,238h1v1h-1zM619,239h1v1h-1zM622,236h1v1h-1zM622,237h1v1h-1zM622,238h1v1h-1zM622,239h1v1h-1z" fill="#ffffff"/>
<line x1="610" y1="247.5" x2="637" y2="247.5" stroke="#ffffff" stroke-width="1"/>
<path d="M612,243h1v1h-1zM613,243h1v1h-1zM614,243h1v1h-1zM615,243h1v1h-1zM613,244h1v1h-1zM614,244h1v1h-1zM614,245h1v1h-1z" fill="#ffffff"/>
<path d="M625,243h1v1h-1zM626,243h1v1h-1zM627,243h1v1h-1zM625,244h1v1h-1zM625,245h1v1h-1zM626,245h1v1h-1zM627,245h1v1h-1zM626,246h1v1h-1zM627,246h1v1h-1z" fill="#ffffff"/>
<rect x="630" y="243" width="1" height="1" fill="#ffffff"/>
<line x1="610" y1="253.5" x2="637" y2="253.5" stroke="#ffffff" stroke-width="1"/>
<path d="M612,249h1v1h-1zM612,250h1v1h-1zM614,250h1v1h-1zM612,251h1v1h-1zM613,251h1v1h-1zM615,251h1v1h-1zM612,252h1v1h-1zM613,252h1v1h-1zM614,252h1v1h-1zM615,252h1v1h-1z" fill="#ffffff"/>
<path d="M625,249h1v1h-1zM625,250h1v1h-1zM627,250h1v1h-1zM625,251h1v1h-1zM626,251h1v1h-1zM628,251h1v1h-1zM625,252h1v1h-1zM626,252h1v1h-1zM627,252h1v1h-1zM628,252h1v1h-1z" fill="#ffffff"/>
<line x1="610" y1="260.5" x2="637" y2="260.5" stroke="#ffffff" stroke-width="1"/>
<path d="M612,255h1v1h-1zM612,256h1v1h-1zM614,256h1v1h-1zM612,257h1v1h-1zM613,257h1v1h-1zM615,257h1v1h-1zM612,258h1v1h-1zM613,258h1v1h-1zM614,258h1v1h-1zM615,258h1v1h-1z" fill="#ffffff"/>
<path d="M625,255h1v1h-1zM626,255h1v1h-1zM627,255h1v1h-1zM628,255h1v1h-1zM626,256h1v1h-1zM627,256h1v1h-1zM627,257h1v1h-1z" fill="#ffffff"/>
<line x1="610" y1="266.5" x2="637" y2="266.5" stroke="#ffffff" stroke-width="1"/>
<path d="M613,262h1v1h-1zM612,263h1v1h-1zM613,263h1v1h-1zM614,263h1v1h-1zM615,263h1v1h-1zM612,264h1v1h-1zM613,264h1v1h-1z" fill="#ffffff"/>
<path d="M625,262h1v1h-1zM626,262h1v1h-1zM627,262h1v1h-1zM625,263h1v1h-1zM625,264h1v1h-1zM626,264h1v1h-1zM627,264h1v1h-1zM626,265h1v1h-1zM627,265h1v1h-1z" fill="#ffffff"/>
<rect x="630" y="262" width="1" height="1" fill="#ffffff"/>
<line x1="610" y1="273.5" x2="637" y2="273.5" stroke="#ffffff" stroke-width="1"/>
<path d="M612,268h1v1h-1zM612,269h1v1h-1zM613,269h1v1h-1zM614,269h1v1h-1zM613,270h1v1h-1zM615,270h1v1h-1zM613,271h1v1h-1zM614,271h1v1h-1zM615,271h1v1h-1z" fill="#ffffff"/>
<path d="M625,268h1v1h-1zM625,269h1v1h-1zM626,269h1v1h-1zM627,269h1v1h-1zM626,270h1v1h-1zM628,270h1v1h-1zM626,271h1v1h-1zM627,271h1v1h-1zM628,271h1v1h-1z" fill="#ffffff"/>
<rect x="630" y="268" width="1" height="1" fill="#ffffff"/>
<line x1="610" y1="279.5" x2="637" y2="279.5" stroke="#ffffff" stroke-width="1"/>
<path d="M612,275h1v1h-1zM612,276h1v1h-1zM614,276h1v1h-1zM612,277h1v1h-1zM613,277h1v1h-1zM615,277h1v1h-1zM612,278h1v1h-1zM613,278h1v1h-1zM614,278h1v1h-1zM615,278h1v1h-1z" fill="#ffffff"/>
<path d="M626,275h1v1h-1zM625,276h1v1h-1zM626,276h1v1h-1zM627,276h1v1h-1zM628,276h1v1h-1zM625,277h1v1h-1zM626,277h1v1h-1z" fill="#ffffff"/>
<rect x="630" y="275" width="1" height="1" fill="#ffffff"/>
<line x1="610" y1="286.5" x2="637" y2="286.5" stroke="#ffffff" stroke-width="1"/>
<path d="M613,281h1v1h-1zM612,282h1v1h-1zM613,282h1v1h-1zM614,282h1v1h-1zM615,282h1v1h-1zM612,283h1v1h-1zM613,283h1v1h-1z" fill="#ffffff"/>
<path d="M625,281h1v1h-1zM625,282h1v1h-1zM627,282h1v1h-1zM625,283h1v1h-1zM626,283h1v1h-1zM628,283h1v1h-1zM625,284h1v1h-1zM626,284h1v1h-1zM627,284h1v1h-1zM628,284h1v1h-1z" fill="#ffffff"/>
<line x1="610" y1="292.5" x2="637" y2="292.5" stroke="#ffffff" stroke-width="1"/>
<path d="M612,288h1v1h-1zM613,288h1v1h-1zM614,288h1v1h-1zM612,289h1v1h-1zM614,289h1v1h-1zM615,289h1v1h-1zM614,290h1v1h-1zM615,290h1v1h-1zM614,291h1v1h-1z" fill="#ffffff"/>
<path d="M625,288h1v1h-1zM626,288h1v1h-1zM627,288h1v1h-1zM625,289h1v1h-1zM627,289h1v1h-1zM628,289h1v1h-1zM627,290h1v1h-1zM628,290h1v1h-1zM627,291h1v1h-1z" fill="#ffffff"/>
<line x1="610" y1="299.5" x2="637" y2="299.5" stroke="#ffffff" stroke-width="1"/>
<path d="M612,294h1v1h-1zM612,295h1v1h-1zM614,295h1v1h-1zM612,296h1v1h-1zM613,296h1v1h-1zM615,296h1v1h-1zM612,297h1v1h-1zM613,297h1v1h-1zM614,297h1v1h-1zM615,297h1v1h-1z" fill="#ffffff"/>
<path d="M626,294h1v1h-1zM625,295h1v1h-1zM626,295h1v1h-1zM627,295h1v1h-1zM628,295h1v1h-1zM625,296h1v1h-1zM626,296h1v1h-1z" fill="#ffffff"/>
<line x1="610" y1="305.5" x2="637" y2="305.5" stroke="#ffffff" stroke-width="1"/>
<path d="M612,301h1v1h-1zM612,302h1v1h-1zM614,302h1v1h-1zM612,303h1v1h-1zM613,303h1v1h-1zM615,303h1v1h-1zM612,304h1v1h-1zM613,304h1v1h-1zM614,304h1v1h-1zM615,304h1v1h-1z" fill="#ffffff"/>
<path d="M625,301h1v1h-1zM626,301h1v1h-1zM627,301h1v1h-1zM625,302h1v1h-1zM625,303h1v1h-1zM626,303h1v1h-1zM627,303h1v1h-1zM626,304h1v1h-1zM627,304h1v1h-1z" fill="#ffffff"/>
<rect x="630" y="301" width="1" height="1" fill="#ffffff"/>
<line x1="610" y1="311.5" x2="637" y2="311.5" stroke="#ffffff" stroke-width="1"/>
<path d="M612,307h1v1h-1zM613,307h1v1h-1zM614,307h1v1h-1zM612,308h1v1h-1zM612,309h1v1h-1zM613,309h1v1h-1zM614,309h1v1h-1zM613,310h1v1h-1zM614,310h1v1h-1z" fill="#ffffff"/>
<path d="M625,307h1v1h-1zM626,307h1v1h-1zM627,307h1v1h-1zM628,307h1v1h-1zM626,308h1v1h-1zM627,308h1v1h-1zM627,309h1v1h-1z" fill="#ffffff"/>
<rect x="630" y="307" width="1" height="1" fill="#ffffff"/>
<line x1="610" y1="318.5" x2="637" y2="318.5" stroke="#ffffff" stroke-width="1"/>
<path d="M613,313h1v1h-1zM612,314h1v1h-1zM613,314h1v1h-1zM614,314h1v1h-1zM615,314h1v1h-1zM612,315h1v1h-1zM613,315h1v1h-1z" fill="#ffffff"/>
<path d="M625,313h1v1h-1zM625,314h1v1h-1zM627,314h1v1h-1zM625,315h1v1h-1zM626,315h1v1h-1zM628,315h1v1h-1zM625,316h1v1h-1zM626,316h1v1h-1zM627,316h1v1h-1zM628,316h1v1h-1z" fill="#ffffff"/>
<line x1="610" y1="324.5" x2="637" y2="324.5" stroke="#ffffff" stroke-width="1"/>
<path d="M613,320h1v1h-1zM612,321h1v1h-1zM613,321h1v1h-1zM614,321h1v1h-1zM615,321h1v1h-1zM612,322h1v1h-1zM613,322h1v1h-1z" fill="#ffffff"/>
<path d="M625,320h1v1h-1zM626,320h1v1h-1zM627,320h1v1h-1zM625,321h1v1h-1zM627,321h1v1h-1zM628,321h1v1h-1zM627,322h1v1h-1zM628,322h1v1h-1zM627,323h1v1h-1z" fill="#ffffff"/>
<rect x="630" y="320" width="1" height="1" fill="#ffffff"/>
<line x1="610" y1="331.5" x2="637" y2="331.5" stroke="#ffffff" stroke-width="1"/>
<path d="M613,326h1v1h-1zM612,327h1v1h-1zM613,327h1v1h-1zM614,327h1v1h-1zM615,327h1v1h-1zM612,328h1v1h-1zM613,328h1v1h-1z" fill="#ffffff"/>
<path d="M626,326h1v1h-1zM625,327h1v1h-1zM626,327h1v1h-1zM627,327h1v1h-1zM628,327h1v1h-1zM625,328h1v1h-1zM626,328h1v1h-1z" fill="#ffffff"/>
<line x1="610" y1="337.5" x2="637" y2="337.5" stroke="#ffffff" stroke-width="1"/>
<path d="M612,333h1v1h-1zM613,333h1v1h-1zM614,333h1v1h-1zM615,333h1v1h-1zM613,334h1v1h-1zM614,334h1v1h-1zM614,335h1v1h-1z" fill="#ffffff"/>
<path d="M625,333h1v1h-1zM625,334h1v1h-1zM627,334h1v1h-1zM625,335h1v1h-1zM626,335h1v1h-1zM628,335h1v1h-1zM625,336h1v1h-1zM626,336h1v1h-1zM627,336h1v1h-1zM628,336h1v1h-1z" fill="#ffffff"/>
<line x1="610" y1="344.5" x2="637" y2="344.5" stroke="#ffffff" stroke-width="1"/>
<path d="M612,339h1v1h-1zM612,340h1v1h-1zM614,340h1v1h-1zM612,341h1v1h-1zM613,341h1v1h-1zM615,341h1v1h-1zM612,342h1v1h-1zM613,342h1v1h-1zM614,342h1v1h-1zM615,342h1v1h-1z" fill="#ffffff"/>
<path d="M626,339h1v1h-1zM625,340h1v1h-1zM626,340h1v1h-1zM627,340h1v1h-1zM628,340h1v1h-1zM625,341h1v1h-1zM626,341h1v1h-1z" fill="#ffffff"/>
<rect x="630" y="339" width="1" height="1" fill="#ffffff"/>
<line x1="610" y1="350.5" x2="637" y2="350.5" stroke="#ffffff" stroke-width="1"/>
<path d="M612,346h1v1h-1zM613,346h1v1h-1zM614,346h1v1h-1zM612,347h1v1h-1zM612,348h1v1h-1zM613,348h1v1h-1zM614,348h1v1h-1zM613,349h1v1h-1zM614,349h1v1h-1z" fill="#ffffff"/>
<path d="M625,346h1v1h-1zM625,347h1v1h-1zM626,347h1v1h-1zM627,347h1v1h-1zM626,348h1v1h-1zM628,348h1v1h-1zM626,349h1v1h-1zM627,349h1v1h-1zM628,349h1v1h-1z" fill="#ffffff"/>
<line x1="610" y1="357.5" x2="637" y2="357.5" stroke="#ffffff" stroke-width="1"/>
<path d="M612,352h1v1h-1zM612,353h1v1h-1zM613,353h1v1h-1zM614,353h1v1h-1zM613,354h1v1h-1zM615,354h1v1h-1zM613,355h1v1h-1zM614,355h1v1h-1zM615,355h1v1h-1z" fill="#ffffff"/>
<path d="M625,352h1v1h-1zM626,352h1v1h-1zM627,352h1v1h-1zM628,352h1v1h-1zM626,353h1v1h-1zM627,353h1v1h-1zM627,354h1v1h-1z" fill="#ffffff"/>
<rect x="630" y="352" width="1" height="1" fill="#ffffff"/>
<line x1="610" y1="363.5" x2="637" y2="363.5" stroke="#ffffff" stroke-width="1"/>
<path d="M612,359h1v1h-1zM612,360h1v1h-1zM613,360h1v1h-1zM614,360h1v1h-1zM613,361h1v1h-1zM615,361h1v1h-1zM613,362h1v1h-1zM614,362h1v1h-1zM615,362h1v1h-1z" fill="#ffffff"/>
<path d="M625,359h1v1h-1zM626,359h1v1h-1zM627,359h1v1h-1zM628,359h1v1h-1zM626,360h1v1h-1zM627,360h1v1h-1zM627,361h1v1h-1z" fill="#ffffff"/>
<rect x="630" y="359" width="1" height="1" fill="#ffffff"/>
<line x1="610" y1="370.5" x2="637" y2="370.5" stroke="#ffffff" stroke-width="1"/>
<path d="M612,365h1v1h-1zM613,365h1v1h-1zM614,365h1v1h-1zM612,366h1v1h-1zM612,367h1v1h-1zM613,367h1v1h-1zM614,367h1v1h-1zM613,368h1v1h-1zM614,368h1v1h-1z" fill="#ffffff"/>
<path d="M625,365h1v1h-1zM626,365h1v1h-1zM627,365h1v1h-1zM625,366h1v1h-1zM627,366h1v1h-1zM628,366h1v1h-1zM627,367h1v1h-1zM628,367h1v1h-1zM627,368h1v1h-1z" fill="#ffffff"/>
<line x1="610" y1="376.5" x2="637" y2="376.5" stroke="#ffffff" stroke-width="1"/>
<path d="M612,372h1v1h-1zM612,373h1v1h-1zM614,373h1v1h-1zM612,374h1v1h-1zM613,374h1v1h-1zM615,374h1v1h-1zM612,375h1v1h-1zM613,375h1v1h-1zM614,375h1v1h-1zM615,375h1v1h-1z" fill="#ffffff"/>
<path d="M626,372h1v1h-1zM625,373h1v1h-1zM626,373h1v1h-1zM627,373h1v1h-1zM628,373h1v1h-1zM625,374h1v1h-1zM626,374h1v1h-1z" fill="#ffffff"/>
<rect x="630" y="372" width="1" height="1" fill="#ffffff"/>
<line x1="610" y1="382.5" x2="637" y2="382.5" stroke="#ffffff" stroke-width="1"/>
<path d="M612,378h1v1h-1zM612,379h1v1h-1zM613,379h1v1h-1zM614,379h1v1h-1zM613,380h1v1h-1zM615,380h1v1h-1zM613,381h1v1h-1zM614,381h1v1h-1zM615,381h1v1h-1z" fill="#ffffff"/>
<path d="M625,378h1v1h-1zM626,378h1v1h-1zM627,378h1v1h-1zM628,378h1v1h-1zM626,379h1v1h-1zM627,379h1v1h-1zM627,380h1v1h-1z" fill="#ffffff"/>
<line x1="610" y1="389.5" x2="637" y2="389.5" stroke="#ffffff" stroke-width="1"/>
<path d="M612,384h1v1h-1zM613,384h1v1h-1zM614,384h1v1h-1zM615,384h1v1h-1zM613,385h1v1h-1zM614,385h1v1h-1zM614,386h1v1h-1z" fill="#ffffff"/>
<path d="M626,384h1v1h-1zM625,385h1v1h-1zM626,385h1v1h-1zM627,385h1v1h-1zM628,385h1v1h-1zM625,386h1v1h-1zM626,386h1v1h-1z" fill="#ffffff"/>
<line x1="610" y1="395.5" x2="637" y2="395.5" stroke="#ffffff" stroke-width="1"/>
<path d="M612,391h1v1h-1zM612,392h1v1h-1zM614,392h1v1h-1zM612,393h1v1h-1zM613,393h1v1h-1zM615,393h1v1h-1zM612,394h1v1h-1zM613,394h1v1h-1zM614,394h1v1h-1zM615,394h1v1h-1z" fill="#ffffff"/>
<path d="M626,391h1v1h-1zM625,392h1v1h-1zM626,392h1v1h-1zM627,392h1v1h-1zM628,392h1v1h-1zM625,393h1v1h-1zM626,393h1v1h-1z" fill="#ffffff"/>
<rect x="630" y="391" width="1" height="1" fill="#ffffff"/>
<line x1="610" y1="402.5" x2="637" y2="402.5" stroke="#ffffff" stroke-width="1"/>
<path d="M612,397h1v1h-1zM613,397h1v1h-1zM614,397h1v1h-1zM615,397h1v1h-1zM613,398h1v1h-1zM614,398h1v1h-1zM614,399h1v1h-1z" fill="#ffffff"/>
<path d="M625,397h1v1h-1zM626,397h1v1h-1zM627,397h1v1h-1zM625,398h1v1h-1zM625,399h1v1h-1zM626,399h1v1h-1zM627,399h1v1h-1zM626,400h1v1h-1zM627,400h1v1h-1z" fill="#ffffff"/>
<line x1="610" y1="408.5" x2="637" y2="408.5" stroke="#ffffff" stroke-width="1"/>
<path d="M612,404h1v1h-1zM612,405h1v1h-1zM613,405h1v1h-1zM614,405h1v1h-1zM613,406h1v1h-1zM615,406h1v1h-1zM613,407h1v1h-1zM614,407h1v1h-1zM615,407h1v1h-1z" fill="#ffffff"/>
<path d="M625,404h1v1h-1zM625,405h1v1h-1zM627,405h1v1h-1zM625,406h1v1h-1zM626,406h1v1h-1zM628,406h1v1h-1zM625,407h1v1h-1zM626,407h1v1h-1zM627,407h1v1h-1zM628,407h1v1h-1z" fill="#ffffff"/>
<line x1="610" y1="415.5" x2="637" y2="415.5" stroke="#ffffff" stroke-width="1"/>
<path d="M612,410h1v1h-1zM612,411h1v1h-1zM614,411h1v1h-1zM612,412h1v1h-1zM613,412h1v1h-1zM615,412h1v1h-1zM612,413h1v1h-1zM613,413h1v1h-1zM614,413h1v1h-1zM615,413h1v1h-1z" fill="#ffffff"/>
<path d="M626,410h1v1h-1zM625,411h1v1h-1zM626,411h1v1h-1zM627,411h1v1h-1zM628,411h1v1h-1zM625,412h1v1h-1zM626,412h1v1h-1z" fill="#ffffff"/>
<line x1="610" y1="421.5" x2="637" y2="421.5" stroke="#ffffff" stroke-width="1"/>
<path d="M612,417h1v1h-1zM613,417h1v1h-1zM614,417h1v1h-1zM615,417h1v1h-1zM613,418h1v1h-1zM614,418h1v1h-1zM614,419h1v1h-1z" fill="#ffffff"/>
<path d="M625,417h1v1h-1zM626,417h1v1h-1zM627,417h1v1h-1zM628,417h1v1h-1zM626,418h1v1h-1zM627,418h1v1h-1zM627,419h1v1h-1z" fill="#ffffff"/>
<path d="M613,423h1v1h-1zM612,424h1v1h-1zM613,424h1v1h-1zM614,424h1v1h-1zM615,424h1v1h-1zM612,425h1v1h-1zM613,425h1v1h-1z" fill="#ffffff"/>
<path d="M625,423h1v1h-1zM625,424h1v1h-1zM626,424h1v1h-1zM627,424h1v1h-1zM626,425h1v1h-1zM628,425h1v1h-1zM626,426h1v1h-1zM627,426h1v1h-1zM628,426h1v1h-1z" fill="#ffffff"/>
<path d="M589,243h1v1h-1zM588,244h1v1h-1zM589,244h1v1h-1zM589,245h1v1h-1zM589,246h1v1h-1zM594,243h1v1h-1zM594,244h1v1h-1zM592,245h1v1h-1zM593,245h1v1h-1zM594,245h1v1h-1zM592,246h1v1h-1zM593,246h1v1h-1zM594,246h1v1h-1zM596,246h1v1h-1zM598,243h1v1h-1zM598,244h1v1h-1zM598,245h1v1h-1zM598,246h1v1h-1zM604,243h1v1h-1zM604,244h1v1h-1zM602,245h1v1h-1zM603,245h1v1h-1zM604,245h1v1h-1zM602,246h1v1h-1zM603,246h1v1h-1zM604,246h1v1h-1z" fill="#ffffff"/>
<line x1="607" y1="245.5" x2="610" y2="245.5" stroke="#ffffff" stroke-width="1"/>
<path d="M589,249h1v1h-1zM588,250h1v1h-1zM589,250h1v1h-1zM589,251h1v1h-1zM589,252h1v1h-1zM594,249h1v1h-1zM594,250h1v1h-1zM592,251h1v1h-1zM593,251h1v1h-1zM594,251h1v1h-1zM592,252h1v1h-1zM593,252h1v1h-1zM594,252h1v1h-1zM596,252h1v1h-1zM598,249h1v1h-1zM598,250h1v1h-1zM598,251h1v1h-1zM598,252h1v1h-1zM604,249h1v1h-1zM604,250h1v1h-1zM602,251h1v1h-1zM603,251h1v1h-1zM604,251h1v1h-1zM602,252h1v1h-1zM603,252h1v1h-1zM604,252h1v1h-1z" fill="#ffffff"/>
<line x1="607" y1="251.5" x2="610" y2="251.5" stroke="#ffffff" stroke-width="1"/>
<path d="M589,255h1v1h-1zM588,256h1v1h-1zM589,256h1v1h-1zM589,257h1v1h-1zM589,258h1v1h-1zM594,255h1v1h-1zM594,256h1v1h-1zM592,257h1v1h-1zM593,257h1v1h-1zM594,257h1v1h-1zM592,258h1v1h-1zM593,258h1v1h-1zM594,258h1v1h-1zM596,258h1v1h-1zM598,255h1v1h-1zM598,256h1v1h-1zM598,257h1v1h-1zM598,258h1v1h-1zM604,255h1v1h-1zM604,256h1v1h-1zM602,257h1v1h-1zM603,257h1v1h-1zM604,257h1v1h-1zM602,258h1v1h-1zM603,258h1v1h-1zM604,258h1v1h-1z" fill="#ffffff"/>
<line x1="607" y1="257.5" x2="610" y2="257.5" stroke="#ffffff" stroke-width="1"/>
<path d="M595,262h1v1h-1zM594,263h1v1h-1zM595,263h1v1h-1zM595,264h1v1h-1zM595,265h1v1h-1zM598,262h1v1h-1zM598,263h1v1h-1zM598,264h1v1h-1zM598,265h1v1h-1zM602,262h1v1h-1zM603,262h1v1h-1zM604,262h1v1h-1zM602,263h1v1h-1zM604,263h1v1h-1zM602,264h1v1h-1zM603,264h1v1h-1zM604,264h1v1h-1zM602,265h1v1h-1zM603,265h1v1h-1zM604,265h1v1h-1z" fill="#ffffff"/>
<line x1="607" y1="264.5" x2="610" y2="264.5" stroke="#ffffff" stroke-width="1"/>
<path d="M588,269h1v1h-1zM589,269h1v1h-1zM588,270h1v1h-1zM590,270h1v1h-1zM588,271h1v1h-1zM590,271h1v1h-1zM594,268h1v1h-1zM594,269h1v1h-1zM592,270h1v1h-1zM593,270h1v1h-1zM594,270h1v1h-1zM592,271h1v1h-1zM593,271h1v1h-1zM594,271h1v1h-1zM597,268h1v1h-1zM596,269h1v1h-1zM597,269h1v1h-1zM597,270h1v1h-1zM597,271h1v1h-1zM604,268h1v1h-1zM604,269h1v1h-1zM602,270h1v1h-1zM603,270h1v1h-1zM604,270h1v1h-1zM602,271h1v1h-1zM603,271h1v1h-1zM604,271h1v1h-1z" fill="#ffffff"/>
<line x1="607" y1="270.5" x2="610" y2="270.5" stroke="#ffffff" stroke-width="1"/>
<path d="M588,276h1v1h-1zM589,276h1v1h-1zM588,277h1v1h-1zM590,277h1v1h-1zM588,278h1v1h-1zM590,278h1v1h-1zM594,275h1v1h-1zM594,276h1v1h-1zM592,277h1v1h-1zM593,277h1v1h-1zM594,277h1v1h-1zM592,278h1v1h-1zM593,278h1v1h-1zM594,278h1v1h-1zM597,275h1v1h-1zM596,276h1v1h-1zM597,276h1v1h-1zM597,277h1v1h-1zM597,278h1v1h-1zM604,275h1v1h-1zM604,276h1v1h-1zM602,277h1v1h-1zM603,277h1v1h-1zM604,277h1v1h-1zM602,278h1v1h-1zM603,278h1v1h-1zM604,278h1v1h-1z" fill="#ffffff"/>
<line x1="607" y1="277.5" x2="610" y2="277.5" stroke="#ffffff" stroke-width="1"/>
<path d="M588,282h1v1h-1zM589,282h1v1h-1zM588,283h1v1h-1zM590,283h1v1h-1zM588,284h1v1h-1zM590,284h1v1h-1zM594,281h1v1h-1zM594,282h1v1h-1zM592,283h1v1h-1zM593,283h1v1h-1zM594,283h1v1h-1zM592,284h1v1h-1zM593,284h1v1h-1zM594,284h1v1h-1zM597,281h1v1h-1zM596,282h1v1h-1zM597,282h1v1h-1zM597,283h1v1h-1zM597,284h1v1h-1zM604,281h1v1h-1zM604,282h1v1h-1zM602,283h1v1h-1zM603,283h1v1h-1zM604,283h1v1h-1zM602,284h1v1h-1zM603,284h1v1h-1zM604,284h1v1h-1z" fill="#ffffff"/>
<line x1="607" y1="283.5" x2="610" y2="283.5" stroke="#ffffff" stroke-width="1"/>
<path d="M582,288h1v1h-1zM583,288h1v1h-1zM584,288h1v1h-1zM582,289h1v1h-1zM584,289h1v1h-1zM582,290h1v1h-1zM583,290h1v1h-1zM584,290h1v1h-1zM582,291h1v1h-1zM583,291h1v1h-1zM584,291h1v1h-1zM586,289h1v1h-1zM587,289h1v1h-1zM586,290h1v1h-1zM588,290h1v1h-1zM586,291h1v1h-1zM588,291h1v1h-1zM590,289h1v1h-1zM591,289h1v1h-1zM592,289h1v1h-1zM590,290h1v1h-1zM590,291h1v1h-1zM591,291h1v1h-1zM592,291h1v1h-1zM596,288h1v1h-1zM596,289h1v1h-1zM594,290h1v1h-1zM595,290h1v1h-1zM596,290h1v1h-1zM594,291h1v1h-1zM595,291h1v1h-1zM596,291h1v1h-1zM598,288h1v1h-1zM598,289h1v1h-1zM598,290h1v1h-1zM598,291h1v1h-1zM602,289h1v1h-1zM603,289h1v1h-1zM604,289h1v1h-1zM602,290h1v1h-1zM602,291h1v1h-1zM603,291h1v1h-1zM604,291h1v1h-1z" fill="#ffffff"/>
<line x1="607" y1="290.5" x2="610" y2="290.5" stroke="#ffffff" stroke-width="1"/>
<path d="M586,295h1v1h-1zM587,295h1v1h-1zM586,296h1v1h-1zM588,296h1v1h-1zM586,297h1v1h-1zM588,297h1v1h-1zM592,294h1v1h-1zM592,295h1v1h-1zM590,296h1v1h-1zM591,296h1v1h-1zM592,296h1v1h-1zM590,297h1v1h-1zM591,297h1v1h-1zM592,297h1v1h-1zM595,294h1v1h-1zM594,295h1v1h-1zM595,295h1v1h-1zM595,296h1v1h-1zM595,297h1v1h-1zM600,295h1v1h-1zM601,295h1v1h-1zM602,295h1v1h-1zM603,295h1v1h-1zM600,296h1v1h-1zM602,296h1v1h-1zM604,296h1v1h-1zM600,297h1v1h-1zM602,297h1v1h-1zM604,297h1v1h-1z" fill="#ffffff"/>
<line x1="607" y1="296.5" x2="610" y2="296.5" stroke="#ffffff" stroke-width="1"/>
<path d="M586,302h1v1h-1zM587,302h1v1h-1zM586,303h1v1h-1zM588,303h1v1h-1zM586,304h1v1h-1zM588,304h1v1h-1zM592,301h1v1h-1zM592,302h1v1h-1zM590,303h1v1h-1zM591,303h1v1h-1zM592,303h1v1h-1zM590,304h1v1h-1zM591,304h1v1h-1zM592,304h1v1h-1zM595,301h1v1h-1zM594,302h1v1h-1zM595,302h1v1h-1zM595,303h1v1h-1zM595,304h1v1h-1zM600,302h1v1h-1zM601,302h1v1h-1zM602,302h1v1h-1zM603,302h1v1h-1zM600,303h1v1h-1zM602,303h1v1h-1zM604,303h1v1h-1zM600,304h1v1h-1zM602,304h1v1h-1zM604,304h1v1h-1z" fill="#ffffff"/>
<line x1="607" y1="303.5" x2="610" y2="303.5" stroke="#ffffff" stroke-width="1"/>
<path d="M594,307h1v1h-1zM595,307h1v1h-1zM596,307h1v1h-1zM594,308h1v1h-1zM594,309h1v1h-1zM595,309h1v1h-1zM596,309h1v1h-1zM594,310h1v1h-1zM595,310h1v1h-1zM596,310h1v1h-1zM600,307h1v1h-1zM599,308h1v1h-1zM598,309h1v1h-1zM600,310h1v1h-1zM603,307h1v1h-1zM602,308h1v1h-1zM603,308h1v1h-1zM603,309h1v1h-1zM603,310h1v1h-1z" fill="#ffffff"/>
<line x1="607" y1="309.5" x2="610" y2="309.5" stroke="#ffffff" stroke-width="1"/>
<path d="M594,313h1v1h-1zM595,313h1v1h-1zM596,313h1v1h-1zM594,314h1v1h-1zM594,315h1v1h-1zM595,315h1v1h-1zM596,315h1v1h-1zM594,316h1v1h-1zM595,316h1v1h-1zM596,316h1v1h-1zM600,313h1v1h-1zM599,314h1v1h-1zM598,315h1v1h-1zM600,316h1v1h-1zM602,313h1v1h-1zM603,313h1v1h-1zM604,313h1v1h-1zM604,314h1v1h-1zM603,315h1v1h-1zM603,316h1v1h-1z" fill="#ffffff"/>
<line x1="607" y1="315.5" x2="610" y2="315.5" stroke="#ffffff" stroke-width="1"/>
<path d="M594,320h1v1h-1zM595,320h1v1h-1zM596,320h1v1h-1zM594,321h1v1h-1zM594,322h1v1h-1zM595,322h1v1h-1zM596,322h1v1h-1zM594,323h1v1h-1zM595,323h1v1h-1zM596,323h1v1h-1zM600,320h1v1h-1zM599,321h1v1h-1zM598,322h1v1h-1zM600,323h1v1h-1zM603,320h1v1h-1zM602,321h1v1h-1zM603,321h1v1h-1zM603,322h1v1h-1zM603,323h1v1h-1z" fill="#ffffff"/>
<line x1="607" y1="322.5" x2="610" y2="322.5" stroke="#ffffff" stroke-width="1"/>
<path d="M594,326h1v1h-1zM595,326h1v1h-1zM596,326h1v1h-1zM594,327h1v1h-1zM594,328h1v1h-1zM595,328h1v1h-1zM596,328h1v1h-1zM594,329h1v1h-1zM595,329h1v1h-1zM596,329h1v1h-1zM600,326h1v1h-1zM599,327h1v1h-1zM598,328h1v1h-1zM600,329h1v1h-1zM602,326h1v1h-1zM603,326h1v1h-1zM604,326h1v1h-1zM602,327h1v1h-1zM602,328h1v1h-1zM603,328h1v1h-1zM604,328h1v1h-1zM602,329h1v1h-1zM603,329h1v1h-1zM604,329h1v1h-1z" fill="#ffffff"/>
<line x1="607" y1="328.5" x2="610" y2="328.5" stroke="#ffffff" stroke-width="1"/>
<path d="M594,333h1v1h-1zM595,333h1v1h-1zM596,333h1v1h-1zM594,334h1v1h-1zM594,335h1v1h-1zM595,335h1v1h-1zM596,335h1v1h-1zM594,336h1v1h-1zM595,336h1v1h-1zM596,336h1v1h-1zM600,333h1v1h-1zM599,334h1v1h-1zM598,335h1v1h-1zM600,336h1v1h-1zM602,333h1v1h-1zM604,333h1v1h-1zM602,334h1v1h-1zM604,334h1v1h-1zM602,335h1v1h-1zM603,335h1v1h-1zM604,335h1v1h-1zM604,336h1v1h-1z" fill="#ffffff"/>
<line x1="607" y1="335.5" x2="610" y2="335.5" stroke="#ffffff" stroke-width="1"/>
<path d="M594,339h1v1h-1zM595,339h1v1h-1zM596,339h1v1h-1zM594,340h1v1h-1zM594,341h1v1h-1zM595,341h1v1h-1zM596,341h1v1h-1zM594,342h1v1h-1zM595,342h1v1h-1zM596,342h1v1h-1zM600,339h1v1h-1zM599,340h1v1h-1zM598,341h1v1h-1zM600,342h1v1h-1zM602,339h1v1h-1zM603,339h1v1h-1zM604,339h1v1h-1zM604,340h1v1h-1zM603,341h1v1h-1zM603,342h1v1h-1z" fill="#ffffff"/>
<line x1="607" y1="341.5" x2="610" y2="341.5" stroke="#ffffff" stroke-width="1"/>
<path d="M594,346h1v1h-1zM595,346h1v1h-1zM596,346h1v1h-1zM594,347h1v1h-1zM594,348h1v1h-1zM595,348h1v1h-1zM596,348h1v1h-1zM594,349h1v1h-1zM595,349h1v1h-1zM596,349h1v1h-1zM600,346h1v1h-1zM599,347h1v1h-1zM598,348h1v1h-1zM600,349h1v1h-1zM602,346h1v1h-1zM603,346h1v1h-1zM604,346h1v1h-1zM602,347h1v1h-1zM604,347h1v1h-1zM602,348h1v1h-1zM603,348h1v1h-1zM604,348h1v1h-1zM602,349h1v1h-1zM603,349h1v1h-1zM604,349h1v1h-1z" fill="#ffffff"/>
<line x1="607" y1="348.5" x2="610" y2="348.5" stroke="#ffffff" stroke-width="1"/>
<path d="M594,352h1v1h-1zM595,352h1v1h-1zM596,352h1v1h-1zM594,353h1v1h-1zM594,354h1v1h-1zM595,354h1v1h-1zM596,354h1v1h-1zM594,355h1v1h-1zM595,355h1v1h-1zM596,355h1v1h-1zM600,352h1v1h-1zM599,353h1v1h-1zM598,354h1v1h-1zM600,355h1v1h-1zM602,352h1v1h-1zM603,352h1v1h-1zM604,352h1v1h-1zM602,353h1v1h-1zM604,353h1v1h-1zM602,354h1v1h-1zM603,354h1v1h-1zM604,354h1v1h-1zM602,355h1v1h-1zM603,355h1v1h-1zM604,355h1v1h-1z" fill="#ffffff"/>
<line x1="607" y1="354.5" x2="610" y2="354.5" stroke="#ffffff" stroke-width="1"/>
<path d="M592,359h1v1h-1zM593,359h1v1h-1zM594,359h1v1h-1zM592,360h1v1h-1zM592,361h1v1h-1zM593,361h1v1h-1zM594,361h1v1h-1zM592,362h1v1h-1zM593,362h1v1h-1zM594,362h1v1h-1zM598,359h1v1h-1zM597,360h1v1h-1zM596,361h1v1h-1zM598,362h1v1h-1zM601,359h1v1h-1zM600,360h1v1h-1zM601,360h1v1h-1zM601,361h1v1h-1zM601,362h1v1h-1zM604,359h1v1h-1zM604,360h1v1h-1zM604,361h1v1h-1zM604,362h1v1h-1z" fill="#ffffff"/>
<line x1="607" y1="361.5" x2="610" y2="361.5" stroke="#ffffff" stroke-width="1"/>
<path d="M638,243h1v1h-1zM639,243h1v1h-1zM640,243h1v1h-1zM638,244h1v1h-1zM638,245h1v1h-1zM639,245h1v1h-1zM640,245h1v1h-1zM638,246h1v1h-1zM639,246h1v1h-1zM640,246h1v1h-1zM642,243h1v1h-1zM643,243h1v1h-1zM644,243h1v1h-1zM642,244h1v1h-1zM642,245h1v1h-1zM643,245h1v1h-1zM644,245h1v1h-1zM642,246h1v1h-1zM643,246h1v1h-1zM644,246h1v1h-1z" fill="#ffffff"/>
<path d="M638,249h1v1h-1zM639,249h1v1h-1zM640,249h1v1h-1zM638,250h1v1h-1zM640,250h1v1h-1zM638,251h1v1h-1zM639,251h1v1h-1zM640,251h1v1h-1zM638,252h1v1h-1zM639,252h1v1h-1zM640,252h1v1h-1zM643,249h1v1h-1zM642,250h1v1h-1zM643,250h1v1h-1zM643,251h1v1h-1zM643,252h1v1h-1z" fill="#ffffff"/>
<path d="M638,255h1v1h-1zM639,255h1v1h-1zM640,255h1v1h-1zM638,256h1v1h-1zM638,257h1v1h-1zM639,257h1v1h-1zM640,257h1v1h-1zM638,258h1v1h-1zM639,258h1v1h-1zM640,258h1v1h-1zM642,255h1v1h-1zM643,255h1v1h-1zM644,255h1v1h-1zM642,256h1v1h-1zM642,257h1v1h-1zM643,257h1v1h-1zM644,257h1v1h-1zM642,258h1v1h-1zM643,258h1v1h-1zM644,258h1v1h-1z" fill="#ffffff"/>
<path d="M640,262h1v1h-1zM640,263h1v1h-1zM638,264h1v1h-1zM639,264h1v1h-1zM640,264h1v1h-1zM638,265h1v1h-1zM639,265h1v1h-1zM640,265h1v1h-1zM644,262h1v1h-1zM644,263h1v1h-1zM642,264h1v1h-1zM643,264h1v1h-1zM644,264h1v1h-1zM642,265h1v1h-1zM643,265h1v1h-1zM644,265h1v1h-1z" fill="#ffffff"/>
<path d="M638,268h1v1h-1zM639,268h1v1h-1zM640,268h1v1h-1zM638,269h1v1h-1zM638,270h1v1h-1zM639,270h1v1h-1zM640,270h1v1h-1zM638,271h1v1h-1zM639,271h1v1h-1zM640,271h1v1h-1zM642,269h1v1h-1zM643,269h1v1h-1zM642,270h1v1h-1zM642,271h1v1h-1z" fill="#ffffff"/>
<path d="M638,275h1v1h-1zM639,275h1v1h-1zM640,275h1v1h-1zM638,276h1v1h-1zM638,277h1v1h-1zM639,277h1v1h-1zM640,277h1v1h-1zM638,278h1v1h-1zM639,278h1v1h-1zM640,278h1v1h-1zM642,275h1v1h-1zM643,275h1v1h-1zM644,275h1v1h-1zM642,276h1v1h-1zM644,276h1v1h-1zM642,277h1v1h-1zM643,277h1v1h-1zM644,277h1v1h-1zM642,278h1v1h-1zM643,278h1v1h-1zM644,278h1v1h-1z" fill="#ffffff"/>
<path d="M638,288h1v1h-1zM639,288h1v1h-1zM640,288h1v1h-1zM638,289h1v1h-1zM638,290h1v1h-1zM639,290h1v1h-1zM640,290h1v1h-1zM638,291h1v1h-1zM639,291h1v1h-1zM640,291h1v1h-1zM642,288h1v1h-1zM643,288h1v1h-1zM644,288h1v1h-1zM642,289h1v1h-1zM642,290h1v1h-1zM643,290h1v1h-1zM644,290h1v1h-1zM642,291h1v1h-1zM643,291h1v1h-1zM644,291h1v1h-1z" fill="#ffffff"/>
<path d="M638,294h1v1h-1zM639,294h1v1h-1zM640,294h1v1h-1zM638,295h1v1h-1zM638,296h1v1h-1zM639,296h1v1h-1zM640,296h1v1h-1zM638,297h1v1h-1zM639,297h1v1h-1zM640,297h1v1h-1zM642,294h1v1h-1zM642,295h1v1h-1zM642,296h1v1h-1zM642,297h1v1h-1zM644,294h1v1h-1zM645,294h1v1h-1zM646,294h1v1h-1zM644,295h1v1h-1zM646,295h1v1h-1zM644,296h1v1h-1zM645,296h1v1h-1zM646,296h1v1h-1zM644,297h1v1h-1zM645,297h1v1h-1zM646,297h1v1h-1z" fill="#ffffff"/>
<path d="M638,301h1v1h-1zM639,301h1v1h-1zM640,301h1v1h-1zM638,302h1v1h-1zM640,302h1v1h-1zM638,303h1v1h-1zM639,303h1v1h-1zM640,303h1v1h-1zM638,304h1v1h-1zM639,304h1v1h-1zM640,304h1v1h-1zM643,301h1v1h-1zM642,302h1v1h-1zM643,302h1v1h-1zM643,303h1v1h-1zM643,304h1v1h-1z" fill="#ffffff"/>
<path d="M638,307h1v1h-1zM639,307h1v1h-1zM640,307h1v1h-1zM638,308h1v1h-1zM640,308h1v1h-1zM638,309h1v1h-1zM639,309h1v1h-1zM640,309h1v1h-1zM638,310h1v1h-1zM639,310h1v1h-1zM640,310h1v1h-1zM642,307h1v1h-1zM643,307h1v1h-1zM644,307h1v1h-1zM643,308h1v1h-1zM643,309h1v1h-1zM643,310h1v1h-1z" fill="#ffffff"/>
<path d="M638,313h1v1h-1zM639,313h1v1h-1zM640,313h1v1h-1zM638,314h1v1h-1zM640,314h1v1h-1zM638,315h1v1h-1zM639,315h1v1h-1zM640,315h1v1h-1zM638,316h1v1h-1zM639,316h1v1h-1zM640,316h1v1h-1zM642,313h1v1h-1zM643,313h1v1h-1zM644,313h1v1h-1zM642,314h1v1h-1zM642,315h1v1h-1zM643,315h1v1h-1zM644,315h1v1h-1zM642,316h1v1h-1zM643,316h1v1h-1zM644,316h1v1h-1z" fill="#ffffff"/>
<line x1="435" y1="445.5" x2="668" y2="445.5" stroke="#00ffff" stroke-width="1"/>
<line x1="435" y1="454.5" x2="668" y2="454.5" stroke="#00ffff" stroke-width="1"/>
<line x1="435" y1="463.5" x2="668" y2="463.5" stroke="#00ffff" stroke-width="1"/>
<line x1="435" y1="472.5" x2="668" y2="472.5" stroke="#00ffff" stroke-width="1"/>
<line x1="435" y1="481.5" x2="668" y2="481.5" stroke="#00ffff" stroke-width="1"/>
<line x1="435.5" y1="445" x2="435.5" y2="490" stroke="#00ffff" stroke-width="1"/>
<line x1="448.5" y1="445" x2="448.5" y2="490" stroke="#00ffff" stroke-width="1"/>
<line x1="499.5" y1="445" x2="499.5" y2="490" stroke="#00ffff" stroke-width="1"/>
<line x1="551.5" y1="445" x2="551.5" y2="490" stroke="#00ffff" stroke-width="1"/>
<line x1="628.5" y1="445" x2="628.5" y2="490" stroke="#00ffff" stroke-width="1"/>
<line x1="641.5" y1="445" x2="641.5" y2="490" stroke="#00ffff" stroke-width="1"/>
<line x1="667.5" y1="445" x2="667.5" y2="491" stroke="#00ffff" stroke-width="1"/>
<path d="M439,447h1v1h-1zM439,448h1v1h-1zM439,449h1v1h-1zM439,450h1v1h-1z" fill="#00ffff"/>
<path d="M450,447h1v1h-1zM452,447h1v1h-1zM450,448h1v1h-1zM452,448h1v1h-1zM450,449h1v1h-1zM451,449h1v1h-1zM452,449h1v1h-1zM450,450h1v1h-1zM452,450h1v1h-1zM454,447h1v1h-1zM454,448h1v1h-1zM454,449h1v1h-1zM454,450h1v1h-1z" fill="#00ffff"/>
<path d="M458,447h1v1h-1zM457,448h1v1h-1zM458,448h1v1h-1zM458,449h1v1h-1zM458,450h1v1h-1zM461,447h1v1h-1zM461,448h1v1h-1zM461,449h1v1h-1zM461,450h1v1h-1zM463,449h1v1h-1zM464,449h1v1h-1zM465,449h1v1h-1zM468,447h1v1h-1zM467,448h1v1h-1zM468,448h1v1h-1zM468,449h1v1h-1zM468,450h1v1h-1z" fill="#00ffff"/>
<path d="M468,447h1v1h-1zM469,447h1v1h-1zM470,447h1v1h-1zM468,448h1v1h-1zM468,449h1v1h-1zM469,449h1v1h-1zM470,449h1v1h-1zM468,450h1v1h-1zM469,450h1v1h-1zM470,450h1v1h-1zM472,447h1v1h-1zM473,447h1v1h-1zM474,447h1v1h-1zM472,448h1v1h-1zM474,448h1v1h-1zM472,449h1v1h-1zM473,449h1v1h-1zM474,449h1v1h-1zM472,450h1v1h-1zM473,450h1v1h-1zM474,450h1v1h-1zM476,447h1v1h-1zM476,448h1v1h-1zM476,449h1v1h-1zM476,450h1v1h-1z" fill="#00ffff"/>
<rect x="475" y="446" width="1" height="5" fill="#00ffff"/>
<path d="M501,447h1v1h-1zM502,447h1v1h-1zM503,447h1v1h-1zM504,447h1v1h-1zM501,448h1v1h-1zM503,448h1v1h-1zM504,448h1v1h-1zM501,449h1v1h-1zM502,449h1v1h-1zM504,449h1v1h-1zM501,450h1v1h-1zM502,450h1v1h-1zM503,450h1v1h-1zM504,450h1v1h-1zM501,451h1v1h-1zM504,451h1v1h-1zM505,447h1v1h-1zM506,447h1v1h-1zM507,447h1v1h-1zM505,448h1v1h-1zM507,448h1v1h-1zM505,449h1v1h-1zM506,449h1v1h-1zM507,449h1v1h-1zM505,450h1v1h-1zM507,450h1v1h-1zM505,451h1v1h-1zM506,451h1v1h-1zM507,451h1v1h-1zM509,447h1v1h-1zM508,448h1v1h-1zM509,448h1v1h-1zM509,449h1v1h-1zM509,450h1v1h-1zM509,451h1v1h-1z" fill="#00ffff"/>
<path d="M511,447h1v1h-1zM512,447h1v1h-1zM513,447h1v1h-1zM514,447h1v1h-1zM515,447h1v1h-1zM511,448h1v1h-1zM513,448h1v1h-1zM515,448h1v1h-1zM511,449h1v1h-1zM512,449h1v1h-1zM514,449h1v1h-1zM515,449h1v1h-1zM511,450h1v1h-1zM513,450h1v1h-1zM515,450h1v1h-1zM511,451h1v1h-1zM512,451h1v1h-1zM513,451h1v1h-1zM514,451h1v1h-1zM515,451h1v1h-1zM516,447h1v1h-1zM517,447h1v1h-1zM518,447h1v1h-1zM516,448h1v1h-1zM518,448h1v1h-1zM516,449h1v1h-1zM517,449h1v1h-1zM518,449h1v1h-1zM516,450h1v1h-1zM518,450h1v1h-1zM516,451h1v1h-1zM517,451h1v1h-1zM518,451h1v1h-1z" fill="#00ffff"/>
<path d="M553,447h1v1h-1zM554,447h1v1h-1zM555,447h1v1h-1zM556,447h1v1h-1zM553,448h1v1h-1zM555,448h1v1h-1zM556,448h1v1h-1zM553,449h1v1h-1zM554,449h1v1h-1zM556,449h1v1h-1zM553,450h1v1h-1zM556,450h1v1h-1zM557,448h1v1h-1zM558,448h1v1h-1zM557,449h1v1h-1zM559,449h1v1h-1zM557,450h1v1h-1zM559,450h1v1h-1zM560,448h1v1h-1zM561,448h1v1h-1zM562,448h1v1h-1zM560,449h1v1h-1zM560,450h1v1h-1zM561,450h1v1h-1zM562,450h1v1h-1zM563,448h1v1h-1zM564,448h1v1h-1zM563,449h1v1h-1zM565,449h1v1h-1zM563,450h1v1h-1zM565,450h1v1h-1zM566,447h1v1h-1zM567,447h1v1h-1zM568,447h1v1h-1zM569,447h1v1h-1zM566,448h1v1h-1zM568,448h1v1h-1zM569,448h1v1h-1zM566,449h1v1h-1zM567,449h1v1h-1zM569,449h1v1h-1zM566,450h1v1h-1zM569,450h1v1h-1zM572,447h1v1h-1zM572,448h1v1h-1zM570,449h1v1h-1zM571,449h1v1h-1zM572,449h1v1h-1zM570,450h1v1h-1zM571,450h1v1h-1zM572,450h1v1h-1zM573,447h1v1h-1zM573,448h1v1h-1zM573,449h1v1h-1zM573,450h1v1h-1z" fill="#00ffff"/>
<path d="M439,456h1v1h-1zM440,456h1v1h-1zM441,456h1v1h-1zM439,457h1v1h-1zM439,458h1v1h-1zM440,458h1v1h-1zM441,458h1v1h-1zM439,459h1v1h-1zM440,459h1v1h-1zM441,459h1v1h-1z" fill="#00ffff"/>
<path d="M449,456h1v1h-1zM450,456h1v1h-1zM451,456h1v1h-1zM451,457h1v1h-1zM450,458h1v1h-1zM451,458h1v1h-1zM449,459h1v1h-1zM450,459h1v1h-1zM451,459h1v1h-1z" fill="#00ffff"/>
<path d="M501,456h1v1h-1zM502,456h1v1h-1zM503,456h1v1h-1zM504,456h1v1h-1zM501,457h1v1h-1zM503,457h1v1h-1zM504,457h1v1h-1zM501,458h1v1h-1zM502,458h1v1h-1zM504,458h1v1h-1zM501,459h1v1h-1zM502,459h1v1h-1zM503,459h1v1h-1zM504,459h1v1h-1zM501,460h1v1h-1zM504,460h1v1h-1zM505,456h1v1h-1zM506,456h1v1h-1zM507,456h1v1h-1zM505,457h1v1h-1zM507,457h1v1h-1zM508,457h1v1h-1zM506,458h1v1h-1zM507,458h1v1h-1zM505,459h1v1h-1zM506,459h1v1h-1zM508,459h1v1h-1zM506,460h1v1h-1zM507,460h1v1h-1zM508,460h1v1h-1zM510,456h1v1h-1zM511,456h1v1h-1zM509,457h1v1h-1zM511,457h1v1h-1zM512,457h1v1h-1zM509,458h1v1h-1zM510,458h1v1h-1zM511,458h1v1h-1zM509,459h1v1h-1zM511,459h1v1h-1zM512,459h1v1h-1zM510,460h1v1h-1zM511,460h1v1h-1zM512,460h1v1h-1z" fill="#00ffff"/>
<path d="M554,456h1v1h-1zM553,457h1v1h-1zM554,457h1v1h-1zM554,458h1v1h-1zM554,459h1v1h-1zM556,458h1v1h-1zM557,458h1v1h-1zM558,458h1v1h-1zM559,456h1v1h-1zM560,456h1v1h-1zM561,456h1v1h-1zM562,456h1v1h-1zM559,457h1v1h-1zM561,457h1v1h-1zM562,457h1v1h-1zM559,458h1v1h-1zM560,458h1v1h-1zM562,458h1v1h-1zM559,459h1v1h-1zM562,459h1v1h-1zM563,456h1v1h-1zM563,457h1v1h-1zM563,458h1v1h-1zM563,459h1v1h-1zM566,456h1v1h-1zM567,456h1v1h-1zM565,457h1v1h-1zM567,457h1v1h-1zM568,457h1v1h-1zM565,458h1v1h-1zM566,458h1v1h-1zM567,458h1v1h-1zM566,459h1v1h-1zM567,459h1v1h-1zM568,459h1v1h-1zM569,456h1v1h-1zM570,456h1v1h-1zM571,456h1v1h-1zM572,456h1v1h-1zM569,457h1v1h-1zM571,457h1v1h-1zM572,457h1v1h-1zM569,458h1v1h-1zM570,458h1v1h-1zM572,458h1v1h-1zM569,459h1v1h-1zM572,459h1v1h-1zM573,456h1v1h-1zM574,456h1v1h-1zM575,456h1v1h-1zM576,456h1v1h-1zM573,457h1v1h-1zM575,457h1v1h-1zM576,457h1v1h-1zM573,458h1v1h-1zM574,458h1v1h-1zM576,458h1v1h-1zM573,459h1v1h-1zM576,459h1v1h-1zM578,456h1v1h-1zM577,457h1v1h-1zM578,457h1v1h-1zM578,458h1v1h-1zM578,459h1v1h-1z" fill="#00ffff"/>
<path d="M439,465h1v1h-1zM440,465h1v1h-1zM441,465h1v1h-1zM441,466h1v1h-1zM440,467h1v1h-1zM440,468h1v1h-1z" fill="#00ffff"/>
<path d="M449,465h1v1h-1zM450,465h1v1h-1zM451,465h1v1h-1zM452,465h1v1h-1zM449,466h1v1h-1zM451,466h1v1h-1zM452,466h1v1h-1zM449,467h1v1h-1zM450,467h1v1h-1zM452,467h1v1h-1zM449,468h1v1h-1zM452,468h1v1h-1z" fill="#00ffff"/>
<path d="M501,465h1v1h-1zM502,465h1v1h-1zM503,465h1v1h-1zM504,465h1v1h-1zM501,466h1v1h-1zM503,466h1v1h-1zM504,466h1v1h-1zM501,467h1v1h-1zM502,467h1v1h-1zM504,467h1v1h-1zM501,468h1v1h-1zM502,468h1v1h-1zM503,468h1v1h-1zM504,468h1v1h-1zM501,469h1v1h-1zM504,469h1v1h-1zM505,465h1v1h-1zM506,465h1v1h-1zM507,465h1v1h-1zM505,466h1v1h-1zM507,466h1v1h-1zM508,466h1v1h-1zM506,467h1v1h-1zM507,467h1v1h-1zM505,468h1v1h-1zM506,468h1v1h-1zM508,468h1v1h-1zM506,469h1v1h-1zM507,469h1v1h-1zM508,469h1v1h-1zM510,465h1v1h-1zM511,465h1v1h-1zM509,466h1v1h-1zM511,466h1v1h-1zM512,466h1v1h-1zM509,467h1v1h-1zM510,467h1v1h-1zM511,467h1v1h-1zM509,468h1v1h-1zM511,468h1v1h-1zM512,468h1v1h-1zM510,469h1v1h-1zM511,469h1v1h-1zM512,469h1v1h-1z" fill="#00ffff"/>
<path d="M554,465h1v1h-1zM553,466h1v1h-1zM554,466h1v1h-1zM554,467h1v1h-1zM554,468h1v1h-1zM556,467h1v1h-1zM557,467h1v1h-1zM558,467h1v1h-1zM559,465h1v1h-1zM560,465h1v1h-1zM561,465h1v1h-1zM562,465h1v1h-1zM559,466h1v1h-1zM561,466h1v1h-1zM562,466h1v1h-1zM559,467h1v1h-1zM560,467h1v1h-1zM562,467h1v1h-1zM559,468h1v1h-1zM562,468h1v1h-1zM563,465h1v1h-1zM563,466h1v1h-1zM563,467h1v1h-1zM563,468h1v1h-1zM564,465h1v1h-1zM565,465h1v1h-1zM566,465h1v1h-1zM564,466h1v1h-1zM566,466h1v1h-1zM564,467h1v1h-1zM565,467h1v1h-1zM566,467h1v1h-1zM564,468h1v1h-1zM565,468h1v1h-1zM566,468h1v1h-1zM567,465h1v1h-1zM568,465h1v1h-1zM569,465h1v1h-1zM570,465h1v1h-1zM567,466h1v1h-1zM569,466h1v1h-1zM570,466h1v1h-1zM567,467h1v1h-1zM568,467h1v1h-1zM570,467h1v1h-1zM567,468h1v1h-1zM570,468h1v1h-1zM572,465h1v1h-1zM573,465h1v1h-1zM571,466h1v1h-1zM573,466h1v1h-1zM574,466h1v1h-1zM571,467h1v1h-1zM572,467h1v1h-1zM573,467h1v1h-1zM572,468h1v1h-1zM573,468h1v1h-1zM574,468h1v1h-1zM575,465h1v1h-1zM576,465h1v1h-1zM577,465h1v1h-1zM578,465h1v1h-1zM575,466h1v1h-1zM577,466h1v1h-1zM578,466h1v1h-1zM575,467h1v1h-1zM576,467h1v1h-1zM578,467h1v1h-1zM575,468h1v1h-1zM578,468h1v1h-1zM580,465h1v1h-1zM579,466h1v1h-1zM580,466h1v1h-1zM580,467h1v1h-1zM580,468h1v1h-1z" fill="#00ffff"/>
<path d="M439,474h1v1h-1zM439,475h1v1h-1zM439,476h1v1h-1zM439,477h1v1h-1z" fill="#00ffff"/>
<path d="M449,474h1v1h-1zM449,475h1v1h-1zM449,476h1v1h-1zM449,477h1v1h-1z" fill="#00ffff"/>
<path d="M501,474h1v1h-1zM505,474h1v1h-1zM501,475h1v1h-1zM505,475h1v1h-1zM501,476h1v1h-1zM503,476h1v1h-1zM505,476h1v1h-1zM501,477h1v1h-1zM503,477h1v1h-1zM505,477h1v1h-1zM502,478h1v1h-1zM504,478h1v1h-1zM506,474h1v1h-1zM507,474h1v1h-1zM508,474h1v1h-1zM509,474h1v1h-1zM506,475h1v1h-1zM508,475h1v1h-1zM509,475h1v1h-1zM506,476h1v1h-1zM507,476h1v1h-1zM509,476h1v1h-1zM506,477h1v1h-1zM507,477h1v1h-1zM508,477h1v1h-1zM509,477h1v1h-1zM506,478h1v1h-1zM509,478h1v1h-1zM510,474h1v1h-1zM511,474h1v1h-1zM512,474h1v1h-1zM510,475h1v1h-1zM512,475h1v1h-1zM510,476h1v1h-1zM511,476h1v1h-1zM512,476h1v1h-1zM510,477h1v1h-1zM512,477h1v1h-1zM510,478h1v1h-1zM511,478h1v1h-1zM512,478h1v1h-1zM515,474h1v1h-1zM514,475h1v1h-1zM515,475h1v1h-1zM515,476h1v1h-1zM515,477h1v1h-1zM515,478h1v1h-1z" fill="#00ffff"/>
<path d="M553,474h1v1h-1zM554,474h1v1h-1zM555,474h1v1h-1zM556,474h1v1h-1zM553,475h1v1h-1zM555,475h1v1h-1zM556,475h1v1h-1zM553,476h1v1h-1zM554,476h1v1h-1zM556,476h1v1h-1zM553,477h1v1h-1zM556,477h1v1h-1zM557,474h1v1h-1zM558,474h1v1h-1zM559,474h1v1h-1zM557,475h1v1h-1zM559,475h1v1h-1zM557,476h1v1h-1zM558,476h1v1h-1zM559,476h1v1h-1zM557,477h1v1h-1zM558,477h1v1h-1zM559,477h1v1h-1z" fill="#00ffff"/>
<path d="M631,447h1v1h-1zM632,447h1v1h-1zM633,447h1v1h-1zM631,448h1v1h-1zM631,449h1v1h-1zM632,449h1v1h-1zM633,449h1v1h-1zM631,450h1v1h-1zM632,450h1v1h-1zM633,450h1v1h-1z" fill="#00ffff"/>
<path d="M631,456h1v1h-1zM631,457h1v1h-1zM631,458h1v1h-1zM631,459h1v1h-1z" fill="#00ffff"/>
<path d="M631,465h1v1h-1zM631,466h1v1h-1zM631,467h1v1h-1zM631,468h1v1h-1z" fill="#00ffff"/>
<path d="M631,474h1v1h-1zM631,475h1v1h-1zM631,476h1v1h-1zM631,477h1v1h-1z" fill="#00ffff"/>
<path d="M436,483h1v1h-1zM437,483h1v1h-1zM438,483h1v1h-1zM439,483h1v1h-1zM436,484h1v1h-1zM438,484h1v1h-1zM439,484h1v1h-1zM436,485h1v1h-1zM437,485h1v1h-1zM439,485h1v1h-1zM436,486h1v1h-1zM437,486h1v1h-1zM438,486h1v1h-1zM439,486h1v1h-1zM436,487h1v1h-1zM439,487h1v1h-1zM440,483h1v1h-1zM441,483h1v1h-1zM441,484h1v1h-1zM440,485h1v1h-1zM441,485h1v1h-1zM440,486h1v1h-1zM440,487h1v1h-1z" fill="#00ffff"/>
<path d="M462,483h1v1h-1zM461,484h1v1h-1zM462,484h1v1h-1zM462,485h1v1h-1zM462,486h1v1h-1zM462,487h1v1h-1zM464,483h1v1h-1zM465,483h1v1h-1zM466,483h1v1h-1zM464,484h1v1h-1zM464,485h1v1h-1zM465,485h1v1h-1zM464,486h1v1h-1zM464,487h1v1h-1zM465,487h1v1h-1zM466,487h1v1h-1z" fill="#00ffff"/>
<path d="M478,483h1v1h-1zM479,483h1v1h-1zM479,484h1v1h-1zM478,485h1v1h-1zM479,485h1v1h-1zM478,486h1v1h-1zM478,487h1v1h-1z" fill="#00ffff"/>
<path d="M514,483h1v1h-1zM515,483h1v1h-1zM513,484h1v1h-1zM515,484h1v1h-1zM516,484h1v1h-1zM513,485h1v1h-1zM514,485h1v1h-1zM515,485h1v1h-1zM513,486h1v1h-1zM515,486h1v1h-1zM516,486h1v1h-1zM514,487h1v1h-1zM515,487h1v1h-1zM516,487h1v1h-1z" fill="#00ffff"/>
<path d="M527,483h1v1h-1zM529,483h1v1h-1zM527,484h1v1h-1zM529,484h1v1h-1zM528,485h1v1h-1zM527,486h1v1h-1zM529,486h1v1h-1zM527,487h1v1h-1zM529,487h1v1h-1z" fill="#00ffff"/>
<path d="M570,483h1v1h-1zM571,483h1v1h-1zM572,483h1v1h-1zM570,484h1v1h-1zM572,484h1v1h-1zM570,485h1v1h-1zM571,485h1v1h-1zM572,485h1v1h-1zM570,486h1v1h-1zM572,486h1v1h-1zM570,487h1v1h-1zM571,487h1v1h-1zM572,487h1v1h-1z" fill="#00ffff"/>
<path d="M580,483h1v1h-1zM581,483h1v1h-1zM581,484h1v1h-1zM580,485h1v1h-1zM581,485h1v1h-1zM580,486h1v1h-1zM580,487h1v1h-1z" fill="#00ffff"/>
<path d="M590,483h1v1h-1zM589,484h1v1h-1zM590,484h1v1h-1zM590,485h1v1h-1zM590,486h1v1h-1zM590,487h1v1h-1zM592,483h1v1h-1zM593,483h1v1h-1zM594,483h1v1h-1zM592,484h1v1h-1zM592,485h1v1h-1zM593,485h1v1h-1zM592,486h1v1h-1zM592,487h1v1h-1zM593,487h1v1h-1zM594,487h1v1h-1z" fill="#00ffff"/>
<path d="M600,483h1v1h-1zM601,483h1v1h-1zM602,483h1v1h-1zM603,483h1v1h-1zM600,484h1v1h-1zM602,484h1v1h-1zM603,484h1v1h-1zM600,485h1v1h-1zM601,485h1v1h-1zM603,485h1v1h-1zM600,486h1v1h-1zM601,486h1v1h-1zM602,486h1v1h-1zM603,486h1v1h-1zM600,487h1v1h-1zM603,487h1v1h-1z" fill="#00ffff"/>
<path d="M629,483h1v1h-1zM630,483h1v1h-1zM631,483h1v1h-1zM632,483h1v1h-1zM629,484h1v1h-1zM631,484h1v1h-1zM632,484h1v1h-1zM629,485h1v1h-1zM630,485h1v1h-1zM632,485h1v1h-1zM629,486h1v1h-1zM630,486h1v1h-1zM631,486h1v1h-1zM632,486h1v1h-1zM629,487h1v1h-1zM632,487h1v1h-1zM633,483h1v1h-1zM634,483h1v1h-1zM635,483h1v1h-1zM636,483h1v1h-1zM637,483h1v1h-1zM633,484h1v1h-1zM635,484h1v1h-1zM637,484h1v1h-1zM633,485h1v1h-1zM634,485h1v1h-1zM636,485h1v1h-1zM637,485h1v1h-1zM633,486h1v1h-1zM635,486h1v1h-1zM637,486h1v1h-1zM633,487h1v1h-1zM634,487h1v1h-1zM635,487h1v1h-1zM636,487h1v1h-1zM637,487h1v1h-1z" fill="#00ffff"/>
<path d="M647,483h1v1h-1zM647,484h1v1h-1zM645,485h1v1h-1zM646,485h1v1h-1zM647,485h1v1h-1zM645,486h1v1h-1zM647,486h1v1h-1zM645,487h1v1h-1zM646,487h1v1h-1zM647,487h1v1h-1z" fill="#00ffff"/>
<path d="M652,483h1v1h-1zM653,483h1v1h-1zM653,484h1v1h-1zM652,485h1v1h-1zM653,485h1v1h-1zM652,486h1v1h-1zM652,487h1v1h-1zM656,483h1v1h-1zM655,484h1v1h-1zM654,485h1v1h-1zM655,486h1v1h-1zM656,487h1v1h-1z" fill="#00ffff"/>
<path d="M520,492h1v1h-1zM519,493h1v1h-1zM518,494h1v1h-1zM519,495h1v1h-1zM520,496h1v1h-1zM521,492h1v1h-1zM522,492h1v1h-1zM523,492h1v1h-1zM524,492h1v1h-1zM521,493h1v1h-1zM523,493h1v1h-1zM524,493h1v1h-1zM521,494h1v1h-1zM522,494h1v1h-1zM524,494h1v1h-1zM521,495h1v1h-1zM522,495h1v1h-1zM523,495h1v1h-1zM524,495h1v1h-1zM521,496h1v1h-1zM524,496h1v1h-1zM526,492h1v1h-1zM525,493h1v1h-1zM526,493h1v1h-1zM526,494h1v1h-1zM526,495h1v1h-1zM526,496h1v1h-1zM529,492h1v1h-1zM530,492h1v1h-1zM528,493h1v1h-1zM530,493h1v1h-1zM531,493h1v1h-1zM528,494h1v1h-1zM529,494h1v1h-1zM530,494h1v1h-1zM528,495h1v1h-1zM530,495h1v1h-1zM531,495h1v1h-1zM529,496h1v1h-1zM530,496h1v1h-1zM531,496h1v1h-1z" fill="#ffffff"/>
<path d="M133,170h1v1h-1zM134,170h1v1h-1zM135,170h1v1h-1zM133,171h1v1h-1zM133,172h1v1h-1zM134,172h1v1h-1zM135,172h1v1h-1zM133,173h1v1h-1zM134,173h1v1h-1zM135,173h1v1h-1zM136,171h1v1h-1zM137,171h1v1h-1zM138,171h1v1h-1zM139,171h1v1h-1zM136,172h1v1h-1zM138,172h1v1h-1zM140,172h1v1h-1zM136,173h1v1h-1zM138,173h1v1h-1zM140,173h1v1h-1zM143,170h1v1h-1zM142,171h1v1h-1zM143,171h1v1h-1zM143,172h1v1h-1zM143,173h1v1h-1zM147,170h1v1h-1zM146,171h1v1h-1zM145,172h1v1h-1zM147,173h1v1h-1zM148,170h1v1h-1zM149,170h1v1h-1zM148,171h1v1h-1zM150,171h1v1h-1zM148,172h1v1h-1zM150,172h1v1h-1zM148,173h1v1h-1zM149,173h1v1h-1zM151,173h1v1h-1zM152,170h1v1h-1zM153,170h1v1h-1zM154,170h1v1h-1zM152,171h1v1h-1zM152,172h1v1h-1zM153,172h1v1h-1zM154,172h1v1h-1zM152,173h1v1h-1zM153,173h1v1h-1zM154,173h1v1h-1z" fill="#00ffff"/>
<path d="M138,178h1v1h-1zM139,178h1v1h-1zM140,178h1v1h-1zM138,179h1v1h-1zM138,180h1v1h-1zM138,181h1v1h-1zM139,181h1v1h-1zM140,181h1v1h-1zM141,177h1v1h-1zM142,177h1v1h-1zM141,178h1v1h-1zM143,178h1v1h-1zM141,179h1v1h-1zM142,179h1v1h-1zM141,180h1v1h-1zM143,180h1v1h-1zM141,181h1v1h-1zM142,181h1v1h-1zM144,177h1v1h-1zM145,177h1v1h-1zM146,177h1v1h-1zM147,177h1v1h-1zM144,178h1v1h-1zM146,178h1v1h-1zM147,178h1v1h-1zM144,179h1v1h-1zM145,179h1v1h-1zM147,179h1v1h-1zM144,180h1v1h-1zM145,180h1v1h-1zM146,180h1v1h-1zM147,180h1v1h-1zM144,181h1v1h-1zM147,181h1v1h-1zM148,177h1v1h-1zM150,177h1v1h-1zM148,178h1v1h-1zM150,178h1v1h-1zM149,179h1v1h-1zM149,180h1v1h-1zM149,181h1v1h-1z" fill="#00ffff"/>
<line x1="133" y1="446.5" x2="158" y2="446.5" stroke="#00ffff" stroke-width="1"/>
<line x1="133" y1="453.5" x2="158" y2="453.5" stroke="#00ffff" stroke-width="1"/>
<line x1="133" y1="466.5" x2="158" y2="466.5" stroke="#00ffff" stroke-width="1"/>
<line x1="133" y1="472.5" x2="158" y2="472.5" stroke="#00ffff" stroke-width="1"/>
<line x1="133" y1="485.5" x2="158" y2="485.5" stroke="#00ffff" stroke-width="1"/>
<line x1="133" y1="491.5" x2="158" y2="491.5" stroke="#00ffff" stroke-width="1"/>
<line x1="133" y1="504.5" x2="158" y2="504.5" stroke="#00ffff" stroke-width="1"/>
<line x1="133" y1="511.5" x2="158" y2="511.5" stroke="#00ffff" stroke-width="1"/>
<line x1="133" y1="524.5" x2="158" y2="524.5" stroke="#00ffff" stroke-width="1"/>
<line x1="133" y1="530.5" x2="158" y2="530.5" stroke="#00ffff" stroke-width="1"/>
<path d="M135,438h1v1.2h-1zM135,439.2h1v1.2h-1zM133,440.4h1v1.2h-1zM134,440.4h1v1.2h-1zM135,440.4h1v1.2h-1zM133,441.6h1v1.2h-1zM135,441.6h1v1.2h-1zM133,442.8h1v1.2h-1zM134,442.8h1v1.2h-1zM135,442.8h1v1.2h-1zM138,438h1v1.2h-1zM137,439.2h1v1.2h-1zM136,440.4h1v1.2h-1zM137,441.6h1v1.2h-1zM138,442.8h1v1.2h-1zM140,438h1v1.2h-1zM139,439.2h1v1.2h-1zM140,439.2h1v1.2h-1zM140,440.4h1v1.2h-1zM140,441.6h1v1.2h-1zM140,442.8h1v1.2h-1zM142,438h1v1.2h-1zM143,438h1v1.2h-1zM144,438h1v1.2h-1zM142,439.2h1v1.2h-1zM144,439.2h1v1.2h-1zM145,439.2h1v1.2h-1zM143,440.4h1v1.2h-1zM144,440.4h1v1.2h-1zM142,441.6h1v1.2h-1zM143,441.6h1v1.2h-1zM145,441.6h1v1.2h-1zM143,442.8h1v1.2h-1zM144,442.8h1v1.2h-1zM145,442.8h1v1.2h-1zM147,438h1v1.2h-1zM148,438h1v1.2h-1zM146,439.2h1v1.2h-1zM148,439.2h1v1.2h-1zM149,439.2h1v1.2h-1zM146,440.4h1v1.2h-1zM147,440.4h1v1.2h-1zM148,440.4h1v1.2h-1zM146,441.6h1v1.2h-1zM148,441.6h1v1.2h-1zM149,441.6h1v1.2h-1zM147,442.8h1v1.2h-1zM148,442.8h1v1.2h-1zM149,442.8h1v1.2h-1zM150,438h1v1.2h-1zM151,438h1v1.2h-1zM152,438h1v1.2h-1zM150,439.2h1v1.2h-1zM152,439.2h1v1.2h-1zM150,440.4h1v1.2h-1zM151,440.4h1v1.2h-1zM152,440.4h1v1.2h-1zM150,441.6h1v1.2h-1zM150,442.8h1v1.2h-1zM151,442.8h1v1.2h-1zM152,442.8h1v1.2h-1zM153,438h1v1.2h-1zM154,438h1v1.2h-1zM155,438h1v1.2h-1zM153,439.2h1v1.2h-1zM155,439.2h1v1.2h-1zM153,440.4h1v1.2h-1zM154,440.4h1v1.2h-1zM155,440.4h1v1.2h-1zM153,441.6h1v1.2h-1zM153,442.8h1v1.2h-1zM154,442.8h1v1.2h-1zM155,442.8h1v1.2h-1z" fill="#00ffff"/>
<path d="M137,447.1h1v1.1h-1zM138,447.1h1v1.1h-1zM137,448.2h1v1.1h-1zM139,448.2h1v1.1h-1zM137,449.3h1v1.1h-1zM139,449.3h1v1.1h-1zM137,450.4h1v1.1h-1zM139,450.4h1v1.1h-1zM141,447.1h1v1.1h-1zM142,447.1h1v1.1h-1zM141,448.2h1v1.1h-1zM143,448.2h1v1.1h-1zM141,449.3h1v1.1h-1zM143,449.3h1v1.1h-1zM141,450.4h1v1.1h-1zM143,450.4h1v1.1h-1zM145,446h1v1.1h-1zM145,447.1h1v1.1h-1zM145,448.2h1v1.1h-1zM145,449.3h1v1.1h-1zM145,450.4h1v1.1h-1zM147,446h1v1.1h-1zM148,446h1v1.1h-1zM149,446h1v1.1h-1zM147,447.1h1v1.1h-1zM149,447.1h1v1.1h-1zM147,448.2h1v1.1h-1zM148,448.2h1v1.1h-1zM149,448.2h1v1.1h-1zM147,449.3h1v1.1h-1zM149,449.3h1v1.1h-1zM147,450.4h1v1.1h-1zM148,450.4h1v1.1h-1zM149,450.4h1v1.1h-1z" fill="#00ffff"/>
<path d="M137,464h1v1.3h-1zM138,464h1v1.3h-1zM136,465.3h1v1.3h-1zM138,465.3h1v1.3h-1zM139,465.3h1v1.3h-1zM136,466.6h1v1.3h-1zM137,466.6h1v1.3h-1zM138,466.6h1v1.3h-1zM136,467.9h1v1.3h-1zM138,467.9h1v1.3h-1zM139,467.9h1v1.3h-1zM137,469.2h1v1.3h-1zM138,469.2h1v1.3h-1zM139,469.2h1v1.3h-1zM142,464h1v1.3h-1zM142,465.3h1v1.3h-1zM140,466.6h1v1.3h-1zM141,466.6h1v1.3h-1zM142,466.6h1v1.3h-1zM140,467.9h1v1.3h-1zM142,467.9h1v1.3h-1zM140,469.2h1v1.3h-1zM141,469.2h1v1.3h-1zM142,469.2h1v1.3h-1zM143,464h1v1.3h-1zM144,464h1v1.3h-1zM145,464h1v1.3h-1zM146,464h1v1.3h-1zM143,465.3h1v1.3h-1zM145,465.3h1v1.3h-1zM146,465.3h1v1.3h-1zM143,466.6h1v1.3h-1zM144,466.6h1v1.3h-1zM146,466.6h1v1.3h-1zM143,467.9h1v1.3h-1zM144,467.9h1v1.3h-1zM145,467.9h1v1.3h-1zM146,467.9h1v1.3h-1zM143,469.2h1v1.3h-1zM146,469.2h1v1.3h-1zM147,464h1v1.3h-1zM148,464h1v1.3h-1zM149,464h1v1.3h-1zM147,465.3h1v1.3h-1zM147,466.6h1v1.3h-1zM148,466.6h1v1.3h-1zM149,466.6h1v1.3h-1zM149,467.9h1v1.3h-1zM147,469.2h1v1.3h-1zM148,469.2h1v1.3h-1zM149,469.2h1v1.3h-1zM150,464h1v1.3h-1zM151,464h1v1.3h-1zM152,464h1v1.3h-1zM152,465.3h1v1.3h-1zM151,466.6h1v1.3h-1zM151,467.9h1v1.3h-1zM151,469.2h1v1.3h-1z" fill="#00ffff"/>
<path d="M138,484.2h1v1.2h-1zM139,484.2h1v1.2h-1zM138,485.4h1v1.2h-1zM138,486.6h1v1.2h-1zM138,487.8h1v1.2h-1zM141,483h1v1.2h-1zM142,483h1v1.2h-1zM143,483h1v1.2h-1zM144,483h1v1.2h-1zM141,484.2h1v1.2h-1zM143,484.2h1v1.2h-1zM144,484.2h1v1.2h-1zM141,485.4h1v1.2h-1zM142,485.4h1v1.2h-1zM144,485.4h1v1.2h-1zM141,486.6h1v1.2h-1zM142,486.6h1v1.2h-1zM143,486.6h1v1.2h-1zM144,486.6h1v1.2h-1zM141,487.8h1v1.2h-1zM144,487.8h1v1.2h-1zM145,483h1v1.2h-1zM146,483h1v1.2h-1zM147,483h1v1.2h-1zM145,484.2h1v1.2h-1zM145,485.4h1v1.2h-1zM146,485.4h1v1.2h-1zM147,485.4h1v1.2h-1zM147,486.6h1v1.2h-1zM145,487.8h1v1.2h-1zM146,487.8h1v1.2h-1zM147,487.8h1v1.2h-1zM148,483h1v1.2h-1zM149,483h1v1.2h-1zM150,483h1v1.2h-1zM150,484.2h1v1.2h-1zM149,485.4h1v1.2h-1zM149,486.6h1v1.2h-1zM149,487.8h1v1.2h-1z" fill="#00ffff"/>
<path d="M140,505h1v1h-1zM141,505h1v1h-1zM142,505h1v1h-1zM140,506h1v1h-1zM140,507h1v1h-1zM141,507h1v1h-1zM142,507h1v1h-1zM140,508h1v1h-1zM141,508h1v1h-1zM142,508h1v1h-1zM148,505h1v1h-1zM147,506h1v1h-1zM146,507h1v1h-1zM148,508h1v1h-1z" fill="#00ffff"/>
<path d="M140,522h1v1h-1zM141,522h1v1h-1zM142,522h1v1h-1zM143,522h1v1h-1zM140,523h1v1h-1zM142,523h1v1h-1zM143,523h1v1h-1zM140,524h1v1h-1zM141,524h1v1h-1zM143,524h1v1h-1zM140,525h1v1h-1zM141,525h1v1h-1zM142,525h1v1h-1zM143,525h1v1h-1zM140,526h1v1h-1zM143,526h1v1h-1zM145,522h1v1h-1zM149,522h1v1h-1zM145,523h1v1h-1zM149,523h1v1h-1zM145,524h1v1h-1zM147,524h1v1h-1zM149,524h1v1h-1zM145,525h1v1h-1zM147,525h1v1h-1zM149,525h1v1h-1zM146,526h1v1h-1zM148,526h1v1h-1z" fill="#00ffff"/>
<rect x="613" y="514" width="42" height="1" fill="#0000ff"/>
<rect x="614" y="513" width="40" height="18" fill="none" stroke="#0000ff" stroke-width="2" rx="0"/>
<rect x="613" y="512" width="42" height="2" fill="#0000ff"/>
<rect x="615" y="515" width="20" height="4" fill="#ff0000"/>
<rect x="615" y="519" width="14" height="4" fill="#ff0000"/>
<rect x="615" y="524" width="35" height="4" fill="#ff0000"/>
<rect x="616" y="515" width="1" height="1" fill="#000"/>
<rect x="622" y="515" width="1" height="1" fill="#000"/>
<rect x="627" y="515" width="1" height="1" fill="#000"/>
<rect x="632" y="518" width="1" height="1" fill="#000"/>
<rect x="621" y="521" width="1" height="1" fill="#000"/>
<rect x="616" y="524" width="1" height="1" fill="#000"/>
<rect x="623" y="525" width="1" height="1" fill="#000"/>
<rect x="631" y="525" width="1" height="1" fill="#000"/>
<rect x="638" y="525" width="1" height="1" fill="#000"/>
<rect x="643" y="526" width="1" height="1" fill="#000"/>
<rect x="649" y="527" width="1" height="1" fill="#000"/>
<path d="M635,515h1v1h-1zM636,515h1v1h-1zM637,515h1v1h-1zM636,516h1v1h-1zM636,517h1v1h-1zM636,518h1v1h-1zM638,515h1v1h-1zM639,515h1v1h-1zM640,515h1v1h-1zM639,516h1v1h-1zM639,517h1v1h-1zM639,518h1v1h-1zM641,516h1v1h-1zM642,516h1v1h-1zM641,517h1v1h-1zM641,518h1v1h-1z" fill="#ff0000"/>
<path d="M647,515h1v1h-1zM647,516h1v1h-1zM645,517h1v1h-1zM646,517h1v1h-1zM647,517h1v1h-1zM645,518h1v1h-1zM646,518h1v1h-1zM647,518h1v1h-1z" fill="#ff0000"/>
<rect x="648" y="515" width="2" height="3" fill="#ff0000"/>
<path d="M327,509h1v1h-1zM326,510h1v1h-1zM327,510h1v1h-1zM327,511h1v1h-1zM327,512h1v1h-1zM327,513h1v1h-1zM329,510h1v1h-1zM330,510h1v1h-1zM331,510h1v1h-1zM329,511h1v1h-1zM329,512h1v1h-1zM329,513h1v1h-1zM330,513h1v1h-1zM331,513h1v1h-1zM332,510h1v1h-1zM333,510h1v1h-1zM332,511h1v1h-1zM334,511h1v1h-1zM332,512h1v1h-1zM334,512h1v1h-1zM332,513h1v1h-1zM334,513h1v1h-1zM336,509h1v1h-1zM335,510h1v1h-1zM336,510h1v1h-1zM336,511h1v1h-1zM336,512h1v1h-1zM336,513h1v1h-1zM338,510h1v1h-1zM339,510h1v1h-1zM338,511h1v1h-1zM338,512h1v1h-1zM338,513h1v1h-1zM341,510h1v1h-1zM342,510h1v1h-1zM343,510h1v1h-1zM341,511h1v1h-1zM341,512h1v1h-1zM341,513h1v1h-1zM342,513h1v1h-1zM343,513h1v1h-1z" fill="#ffffff"/>
<path d="M342,508h1v1h-1zM344,508h1v1h-1zM342,509h1v1h-1zM344,509h1v1h-1zM342,510h1v1h-1zM343,510h1v1h-1zM344,510h1v1h-1zM342,511h1v1h-1zM344,511h1v1h-1zM342,512h1v1h-1zM344,512h1v1h-1z" fill="#ffffff"/>
</svg></body></html>
